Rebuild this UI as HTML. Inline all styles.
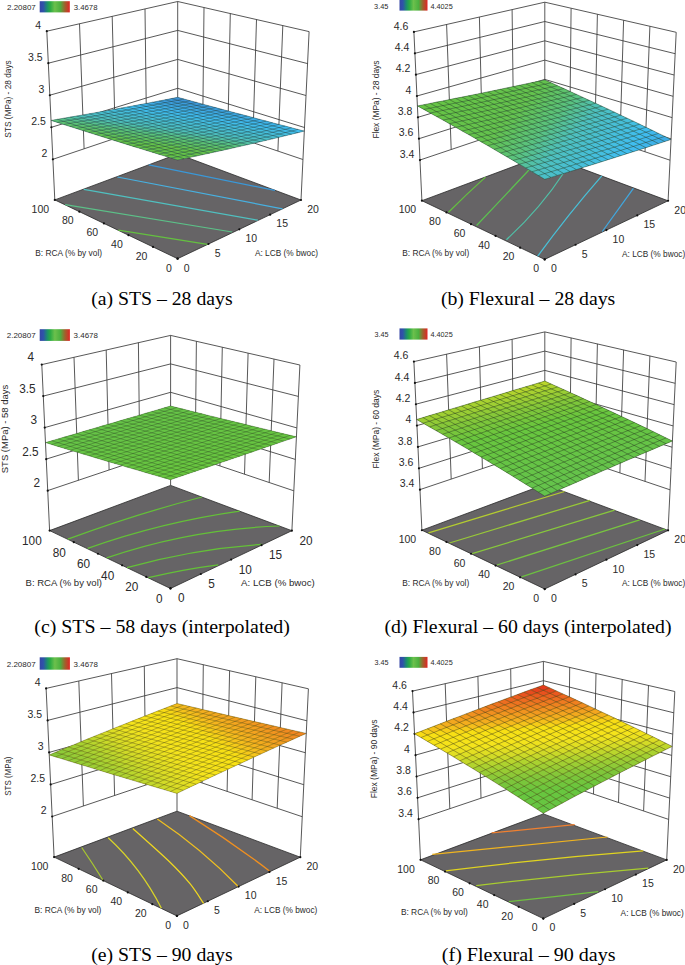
<!DOCTYPE html>
<html><head><meta charset="utf-8"><style>
html,body{margin:0;padding:0;background:#fff;}
svg{display:block;}
</style></head><body>
<svg width="685" height="965" viewBox="0 0 685 965">
<defs><linearGradient id="cb" x1="0" x2="1" y1="0" y2="0">
<stop offset="0" stop-color="#3545a5"/><stop offset="0.12" stop-color="#2f52aa"/><stop offset="0.25" stop-color="#1c8f6a"/>
<stop offset="0.35" stop-color="#2aaa44"/><stop offset="0.5" stop-color="#6cc04c"/><stop offset="0.68" stop-color="#4cb040"/>
<stop offset="0.84" stop-color="#a0602c"/><stop offset="1" stop-color="#e22424"/></linearGradient></defs>
<rect width="685" height="965" fill="#fff"/>
<path d="M54.8,199.9L46.8,31.2 M84.1,148.8L79.5,23.8 M115.3,138.3L112.2,16.3 M146.5,127.8L145.0,8.9 M177.7,154.0L177.7,1.5 M301.0,200.0L309.1,31.6 M277.9,151.0L282.8,25.6 M252.8,142.6L256.5,19.6 M227.8,134.2L230.3,13.5 M202.7,125.7L204.0,7.5 M52.9,159.3L177.7,117.3 M177.7,117.3L302.9,159.5 M51.4,127.3L177.7,88.3 M177.7,88.3L304.5,127.5 M49.8,95.2L177.7,59.4 M177.7,59.4L306.0,95.5 M48.3,63.2L177.7,30.4 M177.7,30.4L307.6,63.6 M46.8,31.2L177.7,1.5 M177.7,1.5L309.1,31.6" stroke="#3a3a3a" stroke-width="0.85" fill="none"/>
<path d="M54.8,199.9L177.6,258.7L301.0,200.0L177.7,154.0Z" fill="#666466" stroke="#2a2a2a" stroke-width="0.8"/>
<path d="M148.7,164.8 L274.9,190.4" stroke="#3a98d8" stroke-width="1.25" fill="none"/>
<path d="M117.4,177.0 L282.5,208.8" stroke="#48b0e0" stroke-width="1.25" fill="none"/>
<path d="M83.8,189.3 L257.8,220.2" stroke="#50c0c0" stroke-width="1.25" fill="none"/>
<path d="M65.2,204.7 L232.2,232.0" stroke="#5cc088" stroke-width="1.25" fill="none"/>
<path d="M118.3,230.1 L207.5,244.3" stroke="#64c040" stroke-width="1.25" fill="none"/>
<circle cx="177.60" cy="258.70" r="1.1" fill="#111"/><circle cx="208.45" cy="244.02" r="1.1" fill="#111"/><circle cx="239.30" cy="229.35" r="1.1" fill="#111"/><circle cx="270.15" cy="214.68" r="1.1" fill="#111"/><circle cx="301.00" cy="200.00" r="1.1" fill="#111"/><circle cx="177.60" cy="258.70" r="1.1" fill="#111"/><circle cx="153.04" cy="246.94" r="1.1" fill="#111"/><circle cx="128.48" cy="235.18" r="1.1" fill="#111"/><circle cx="103.92" cy="223.42" r="1.1" fill="#111"/><circle cx="79.36" cy="211.66" r="1.1" fill="#111"/><circle cx="54.80" cy="199.90" r="1.1" fill="#111"/><circle cx="52.87" cy="159.29" r="1.1" fill="#111"/><circle cx="51.36" cy="127.27" r="1.1" fill="#111"/><circle cx="49.84" cy="95.25" r="1.1" fill="#111"/><circle cx="48.32" cy="63.22" r="1.1" fill="#111"/><circle cx="46.80" cy="31.20" r="1.1" fill="#111"/>
<path d="M177.6,160.0L184.0,158.7L190.4,157.3L196.7,156.0L203.1,154.6L209.5,153.2L215.8,151.8L222.2,150.4L228.5,149.0L234.8,147.6L241.2,146.1L247.5,144.7L253.8,143.2L260.2,141.7L266.5,140.3L272.8,138.8L279.1,137.3L285.4,135.7L291.7,134.2L298.0,132.7L304.3,131.1L298.0,129.4L291.6,127.8L285.3,126.1L278.9,124.4L272.6,122.8L266.3,121.1L259.9,119.4L253.6,117.7L247.3,116.0L240.9,114.3L234.6,112.7L228.3,111.0L221.9,109.3L215.6,107.6L209.3,105.9L203.0,104.2L196.7,102.4L190.3,100.7L184.0,99.0L177.7,97.3L171.4,98.5L165.1,99.8L158.8,101.0L152.5,102.2L146.2,103.4L139.9,104.6L133.5,105.8L127.2,106.9L120.9,108.1L114.6,109.3L108.2,110.4L101.9,111.5L95.5,112.7L89.2,113.8L82.8,114.9L76.5,116.0L70.1,117.1L63.8,118.2L57.4,119.3L51.0,120.4L57.3,122.4L63.7,124.5L70.0,126.5L76.3,128.5L82.6,130.5L88.9,132.5L95.2,134.5L101.6,136.5L107.9,138.5L114.2,140.5L120.5,142.4L126.9,144.4L133.2,146.4L139.5,148.3L145.9,150.3L152.2,152.2L158.6,154.2L164.9,156.1L171.3,158.1Z" fill="#4cc0c5"/>
<path d="M177.6,160.0L184.0,158.7 177.6,156.7 171.3,158.1Z" fill="#65c349"/>
<path d="M171.3,158.1L177.6,156.7 171.3,154.8 164.9,156.1ZM164.9,156.1L171.3,154.8 164.9,152.9 158.6,154.2ZM184.0,158.7L190.4,157.3 184.0,155.4 177.6,156.7Z" fill="#65c34a"/>
<path d="M158.6,154.2L164.9,152.9 158.6,151.0 152.2,152.2ZM152.2,152.2L158.6,151.0 152.3,149.0 145.9,150.3ZM177.6,156.7L184.0,155.4 177.7,153.5 171.3,154.8ZM171.3,154.8L177.7,153.5 171.3,151.6 164.9,152.9ZM190.4,157.3L196.7,156.0 190.4,154.1 184.0,155.4Z" fill="#65c34b"/>
<path d="M145.9,150.3L152.3,149.0 145.9,147.1 139.5,148.3ZM164.9,152.9L171.3,151.6 165.0,149.7 158.6,151.0ZM184.0,155.4L190.4,154.1 184.0,152.2 177.7,153.5Z" fill="#65c34c"/>
<path d="M139.5,148.3L145.9,147.1 139.6,145.1 133.2,146.4ZM133.2,146.4L139.6,145.1 133.3,143.2 126.9,144.4ZM158.6,151.0L165.0,149.7 158.6,147.7 152.3,149.0ZM177.7,153.5L184.0,152.2 177.7,150.3 171.3,151.6ZM196.7,156.0L203.1,154.6 196.7,152.7 190.4,154.1Z" fill="#64c24c"/>
<path d="M126.9,144.4L133.3,143.2 126.9,141.2 120.5,142.4ZM120.5,142.4L126.9,141.2 120.6,139.2 114.2,140.5ZM152.3,149.0L158.6,147.7 152.3,145.8 145.9,147.1ZM145.9,147.1L152.3,145.8 146.0,143.9 139.6,145.1ZM139.6,145.1L146.0,143.9 139.6,141.9 133.3,143.2ZM171.3,151.6L177.7,150.3 171.3,148.4 165.0,149.7ZM165.0,149.7L171.3,148.4 165.0,146.4 158.6,147.7ZM158.6,147.7L165.0,146.4 158.7,144.5 152.3,145.8ZM190.4,154.1L196.7,152.7 190.4,150.8 184.0,152.2ZM184.0,152.2L190.4,150.8 184.1,148.9 177.7,150.3ZM203.1,154.6L209.5,153.2 203.1,151.3 196.7,152.7Z" fill="#64c24d"/>
<path d="M114.2,140.5L120.6,139.2 114.3,137.3 107.9,138.5ZM133.3,143.2L139.6,141.9 133.3,140.0 126.9,141.2ZM152.3,145.8L158.7,144.5 152.3,142.6 146.0,143.9ZM177.7,150.3L184.1,148.9 177.7,147.0 171.3,148.4ZM171.3,148.4L177.7,147.0 171.4,145.1 165.0,146.4ZM196.7,152.7L203.1,151.3 196.8,149.5 190.4,150.8Z" fill="#64c24e"/>
<path d="M107.9,138.5L114.3,137.3 107.9,135.3 101.6,136.5ZM126.9,141.2L133.3,140.0 127.0,138.0 120.6,139.2ZM209.5,153.2L215.8,151.8 209.5,150.0 203.1,151.3Z" fill="#63c251"/>
<path d="M101.6,136.5L107.9,135.3 101.6,133.3 95.2,134.5ZM120.6,139.2L127.0,138.0 120.6,136.1 114.3,137.3ZM203.1,151.3L209.5,150.0 203.1,148.1 196.8,149.5Z" fill="#62c256"/>
<path d="M95.2,134.5L101.6,133.3 95.3,131.3 88.9,132.5ZM114.3,137.3L120.6,136.1 114.3,134.1 107.9,135.3ZM196.8,149.5L203.1,148.1 196.8,146.2 190.4,147.6Z" fill="#61c25b"/>
<path d="M88.9,132.5L95.3,131.3 89.0,129.3 82.6,130.5ZM107.9,135.3L114.3,134.1 108.0,132.1 101.6,133.3Z" fill="#60c260"/>
<path d="M82.6,130.5L89.0,129.3 82.7,127.4 76.3,128.5ZM101.6,133.3L108.0,132.1 101.7,130.2 95.3,131.3Z" fill="#5fc265"/>
<path d="M76.3,128.5L82.7,127.4 76.3,125.4 70.0,126.5ZM95.3,131.3L101.7,130.2 95.3,128.2 89.0,129.3ZM114.3,134.1L120.7,132.9 114.3,130.9 108.0,132.1ZM196.8,146.2L203.1,144.9 196.8,143.0 190.4,144.4Z" fill="#5ec26a"/>
<path d="M70.0,126.5L76.3,125.4 70.0,123.3 63.7,124.5ZM89.0,129.3L95.3,128.2 89.0,126.2 82.7,127.4ZM108.0,132.1L114.3,130.9 108.0,129.0 101.7,130.2ZM190.4,144.4L196.8,143.0 190.4,141.1 184.1,142.5Z" fill="#5dc26f"/>
<path d="M63.7,124.5L70.0,123.3 63.7,121.3 57.3,122.4ZM82.7,127.4L89.0,126.2 82.7,124.2 76.3,125.4ZM101.7,130.2L108.0,129.0 101.7,127.0 95.3,128.2Z" fill="#5cc274"/>
<path d="M57.3,122.4L63.7,121.3 57.4,119.3 51.0,120.4ZM76.3,125.4L82.7,124.2 76.4,122.2 70.0,123.3ZM95.3,128.2L101.7,127.0 95.4,125.1 89.0,126.2ZM114.3,130.9L120.7,129.7 114.4,127.8 108.0,129.0Z" fill="#5bc279"/>
<path d="M70.0,123.3L76.4,122.2 70.1,120.2 63.7,121.3ZM234.8,147.6L241.2,146.1 234.8,144.3 228.5,145.8Z" fill="#5ac27e"/>
<path d="M63.7,121.3L70.1,120.2 63.8,118.2 57.4,119.3ZM82.7,124.2L89.1,123.1 82.8,121.1 76.4,122.2ZM184.1,139.3L190.4,137.9 184.1,136.1 177.8,137.4Z" fill="#58c287"/>
<path d="M146.0,143.9L152.3,142.6 146.0,140.7 139.6,141.9Z" fill="#63c252"/>
<path d="M139.6,141.9L146.0,140.7 139.7,138.7 133.3,140.0Z" fill="#62c257"/>
<path d="M133.3,140.0L139.7,138.7 133.3,136.8 127.0,138.0ZM215.8,151.8L222.2,150.4 215.8,148.6 209.5,150.0Z" fill="#61c25c"/>
<path d="M127.0,138.0L133.3,136.8 127.0,134.8 120.6,136.1ZM146.0,140.7L152.4,139.4 146.0,137.5 139.7,138.7ZM209.5,150.0L215.8,148.6 209.5,146.7 203.1,148.1Z" fill="#60c261"/>
<path d="M120.6,136.1L127.0,134.8 120.7,132.9 114.3,134.1ZM139.7,138.7L146.0,137.5 139.7,135.5 133.3,136.8ZM203.1,148.1L209.5,146.7 203.1,144.9 196.8,146.2Z" fill="#5fc266"/>
<path d="M89.0,126.2L95.4,125.1 89.1,123.1 82.7,124.2ZM108.0,129.0L114.4,127.8 108.1,125.9 101.7,127.0ZM190.4,141.1L196.8,139.8 190.4,137.9 184.1,139.3Z" fill="#5ac27f"/>
<path d="M76.4,122.2L82.8,121.1 76.4,119.1 70.1,120.2ZM177.8,137.4L184.1,136.1 177.8,134.2 171.4,135.5Z" fill="#57c18f"/>
<path d="M70.1,120.2L76.4,119.1 70.1,117.1 63.8,118.2ZM89.1,123.1L95.4,121.9 89.1,120.0 82.8,121.1Z" fill="#55c198"/>
<path d="M165.0,146.4L171.4,145.1 165.0,143.2 158.7,144.5Z" fill="#63c253"/>
<path d="M158.7,144.5L165.0,143.2 158.7,141.3 152.3,142.6Z" fill="#62c258"/>
<path d="M152.3,142.6L158.7,141.3 152.4,139.4 146.0,140.7Z" fill="#61c25d"/>
<path d="M133.3,136.8L139.7,135.5 133.4,133.6 127.0,134.8Z" fill="#5ec26b"/>
<path d="M127.0,134.8L133.4,133.6 127.0,131.7 120.7,132.9Z" fill="#5dc270"/>
<path d="M120.7,132.9L127.0,131.7 120.7,129.7 114.3,130.9ZM139.7,135.5L146.1,134.3 139.7,132.4 133.4,133.6ZM203.1,144.9L209.5,143.5 203.1,141.6 196.8,143.0Z" fill="#5cc275"/>
<path d="M101.7,127.0L108.1,125.9 101.7,123.9 95.4,125.1Z" fill="#58c288"/>
<path d="M95.4,125.1L101.7,123.9 95.4,121.9 89.1,123.1Z" fill="#57c190"/>
<path d="M82.8,121.1L89.1,120.0 82.8,118.0 76.4,119.1ZM228.5,142.5L234.8,141.1 228.5,139.3 222.1,140.7Z" fill="#53c1a0"/>
<path d="M76.4,119.1L82.8,118.0 76.5,116.0 70.1,117.1ZM95.4,121.9L101.8,120.8 95.5,118.8 89.1,120.0ZM177.8,134.2L184.1,132.9 177.8,131.0 171.4,132.4Z" fill="#52c1a9"/>
<path d="M190.4,150.8L196.8,149.5 190.4,147.6 184.1,148.9Z" fill="#64c250"/>
<path d="M184.1,148.9L190.4,147.6 184.1,145.7 177.7,147.0Z" fill="#63c254"/>
<path d="M177.7,147.0L184.1,145.7 177.7,143.8 171.4,145.1Z" fill="#62c259"/>
<path d="M171.4,145.1L177.7,143.8 171.4,141.9 165.0,143.2Z" fill="#61c25e"/>
<path d="M165.0,143.2L171.4,141.9 165.1,140.0 158.7,141.3Z" fill="#60c263"/>
<path d="M158.7,141.3L165.1,140.0 158.7,138.1 152.4,139.4ZM222.2,150.4L228.5,149.0 222.2,147.2 215.8,148.6Z" fill="#5fc267"/>
<path d="M152.4,139.4L158.7,138.1 152.4,136.2 146.0,137.5ZM215.8,148.6L222.2,147.2 215.8,145.3 209.5,146.7Z" fill="#5ec26c"/>
<path d="M146.0,137.5L152.4,136.2 146.1,134.3 139.7,135.5ZM209.5,146.7L215.8,145.3 209.5,143.5 203.1,144.9Z" fill="#5dc271"/>
<path d="M133.4,133.6L139.7,132.4 133.4,130.5 127.0,131.7ZM196.8,143.0L203.1,141.6 196.8,139.8 190.4,141.1Z" fill="#5bc27a"/>
<path d="M127.0,131.7L133.4,130.5 127.1,128.5 120.7,129.7Z" fill="#59c280"/>
<path d="M120.7,129.7L127.1,128.5 120.7,126.6 114.4,127.8Z" fill="#58c289"/>
<path d="M114.4,127.8L120.7,126.6 114.4,124.7 108.1,125.9ZM241.2,146.1L247.5,144.7 241.2,142.9 234.8,144.3Z" fill="#56c191"/>
<path d="M108.1,125.9L114.4,124.7 108.1,122.7 101.7,123.9ZM190.4,137.9L196.8,136.6 190.4,134.7 184.1,136.1ZM234.8,144.3L241.2,142.9 234.8,141.1 228.5,142.5Z" fill="#55c199"/>
<path d="M101.7,123.9L108.1,122.7 101.8,120.8 95.4,121.9ZM184.1,136.1L190.4,134.7 184.1,132.9 177.8,134.2Z" fill="#53c1a1"/>
<path d="M89.1,120.0L95.5,118.8 89.2,116.9 82.8,118.0ZM108.1,122.7L114.5,121.6 108.1,119.6 101.8,120.8Z" fill="#50c0b2"/>
<path d="M82.8,118.0L89.2,116.9 82.8,114.9 76.5,116.0Z" fill="#4fc0ba"/>
<path d="M190.4,147.6L196.8,146.2 190.4,144.4 184.1,145.7Z" fill="#60c25f"/>
<path d="M184.1,145.7L190.4,144.4 184.1,142.5 177.7,143.8Z" fill="#5fc264"/>
<path d="M177.7,143.8L184.1,142.5 177.7,140.6 171.4,141.9Z" fill="#5ec269"/>
<path d="M171.4,141.9L177.7,140.6 171.4,138.7 165.1,140.0Z" fill="#5dc26d"/>
<path d="M165.1,140.0L171.4,138.7 165.1,136.8 158.7,138.1Z" fill="#5cc272"/>
<path d="M158.7,138.1L165.1,136.8 158.7,134.9 152.4,136.2ZM222.2,147.2L228.5,145.8 222.2,143.9 215.8,145.3Z" fill="#5bc277"/>
<path d="M152.4,136.2L158.7,134.9 152.4,133.0 146.1,134.3ZM215.8,145.3L222.2,143.9 215.8,142.1 209.5,143.5Z" fill="#5ac27b"/>
<path d="M146.1,134.3L152.4,133.0 146.1,131.1 139.7,132.4ZM209.5,143.5L215.8,142.1 209.5,140.3 203.1,141.6Z" fill="#59c282"/>
<path d="M139.7,132.4L146.1,131.1 139.8,129.2 133.4,130.5ZM203.1,141.6L209.5,140.3 203.1,138.4 196.8,139.8Z" fill="#58c28a"/>
<path d="M133.4,130.5L139.8,129.2 133.4,127.3 127.1,128.5ZM196.8,139.8L203.1,138.4 196.8,136.6 190.4,137.9Z" fill="#56c192"/>
<path d="M127.1,128.5L133.4,127.3 127.1,125.4 120.7,126.6Z" fill="#55c19a"/>
<path d="M120.7,126.6L127.1,125.4 120.8,123.5 114.4,124.7Z" fill="#53c1a2"/>
<path d="M114.4,124.7L120.8,123.5 114.5,121.6 108.1,122.7Z" fill="#52c1aa"/>
<path d="M101.8,120.8L108.1,119.6 101.8,117.7 95.5,118.8ZM184.1,132.9L190.5,131.6 184.1,129.7 177.8,131.0ZM228.5,139.3L234.8,137.9 228.5,136.1 222.1,137.5Z" fill="#4fc0bb"/>
<path d="M95.5,118.8L101.8,117.7 95.5,115.8 89.2,116.9ZM177.8,131.0L184.1,129.7 177.8,127.9 171.4,129.2ZM222.1,137.5L228.5,136.1 222.1,134.3 215.8,135.7Z" fill="#4ec0c0"/>
<path d="M89.2,116.9L95.5,115.8 89.2,113.8 82.8,114.9ZM108.1,119.6L114.5,118.5 108.2,116.5 101.8,117.7ZM171.4,129.2L177.8,127.9 171.5,126.0 165.1,127.3ZM260.2,141.7L266.5,140.3 260.1,138.5 253.8,140.0Z" fill="#4dc0c3"/>
<path d="M184.1,142.5L190.4,141.1 184.1,139.3 177.7,140.6ZM228.5,149.0L234.8,147.6 228.5,145.8 222.2,147.2Z" fill="#5cc273"/>
<path d="M177.7,140.6L184.1,139.3 177.8,137.4 171.4,138.7Z" fill="#5bc278"/>
<path d="M171.4,138.7L177.8,137.4 171.4,135.5 165.1,136.8Z" fill="#5ac27d"/>
<path d="M165.1,136.8L171.4,135.5 165.1,133.6 158.7,134.9Z" fill="#59c284"/>
<path d="M158.7,134.9L165.1,133.6 158.8,131.8 152.4,133.0Z" fill="#57c28c"/>
<path d="M152.4,133.0L158.8,131.8 152.4,129.9 146.1,131.1Z" fill="#56c194"/>
<path d="M146.1,131.1L152.4,129.9 146.1,128.0 139.8,129.2Z" fill="#54c19c"/>
<path d="M139.8,129.2L146.1,128.0 139.8,126.1 133.4,127.3ZM203.1,138.4L209.5,137.1 203.1,135.2 196.8,136.6Z" fill="#53c1a4"/>
<path d="M133.4,127.3L139.8,126.1 133.5,124.2 127.1,125.4ZM196.8,136.6L203.1,135.2 196.8,133.4 190.4,134.7ZM241.2,142.9L247.5,141.4 241.2,139.7 234.8,141.1Z" fill="#51c1ac"/>
<path d="M127.1,125.4L133.5,124.2 127.1,122.3 120.8,123.5Z" fill="#50c0b4"/>
<path d="M120.8,123.5L127.1,122.3 120.8,120.4 114.5,121.6Z" fill="#4ec0bc"/>
<path d="M114.5,121.6L120.8,120.4 114.5,118.5 108.1,119.6Z" fill="#4dc0c0"/>
<path d="M101.8,117.7L108.2,116.5 101.9,114.6 95.5,115.8ZM165.1,127.3L171.5,126.0 165.1,124.2 158.8,125.5ZM253.8,140.0L260.1,138.5 253.8,136.8 247.5,138.2Z" fill="#4cc0c6"/>
<path d="M95.5,115.8L101.9,114.6 95.5,112.7 89.2,113.8ZM158.8,125.5L165.1,124.2 158.8,122.3 152.5,123.6ZM247.5,138.2L253.8,136.8 247.5,135.0 241.1,136.4Z" fill="#4bc0c9"/>
<path d="M171.4,135.5L177.8,134.2 171.4,132.4 165.1,133.6Z" fill="#55c196"/>
<path d="M165.1,133.6L171.4,132.4 165.1,130.5 158.8,131.8Z" fill="#54c19e"/>
<path d="M158.8,131.8L165.1,130.5 158.8,128.6 152.4,129.9Z" fill="#52c1a6"/>
<path d="M152.4,129.9L158.8,128.6 152.4,126.7 146.1,128.0Z" fill="#51c0ae"/>
<path d="M146.1,128.0L152.4,126.7 146.1,124.8 139.8,126.1Z" fill="#50c0b6"/>
<path d="M139.8,126.1L146.1,124.8 139.8,123.0 133.5,124.2ZM203.1,135.2L209.5,133.9 203.1,132.1 196.8,133.4ZM247.5,141.4L253.8,140.0 247.5,138.2 241.2,139.7Z" fill="#4ec0be"/>
<path d="M133.5,124.2L139.8,123.0 133.5,121.1 127.1,122.3ZM196.8,133.4L203.1,132.1 196.8,130.2 190.5,131.6ZM241.2,139.7L247.5,138.2 241.1,136.4 234.8,137.9Z" fill="#4dc0c1"/>
<path d="M127.1,122.3L133.5,121.1 127.2,119.2 120.8,120.4ZM190.5,131.6L196.8,130.2 190.5,128.4 184.1,129.7ZM234.8,137.9L241.1,136.4 234.8,134.7 228.5,136.1Z" fill="#4cc0c4"/>
<path d="M120.8,120.4L127.2,119.2 120.8,117.3 114.5,118.5ZM184.1,129.7L190.5,128.4 184.1,126.6 177.8,127.9ZM228.5,136.1L234.8,134.7 228.5,132.9 222.1,134.3Z" fill="#4cc0c7"/>
<path d="M114.5,118.5L120.8,117.3 114.5,115.4 108.2,116.5ZM177.8,127.9L184.1,126.6 177.8,124.7 171.5,126.0ZM222.1,134.3L228.5,132.9 222.1,131.1 215.8,132.5ZM266.5,140.3L272.8,138.8 266.5,137.0 260.1,138.5Z" fill="#4bc0ca"/>
<path d="M108.2,116.5L114.5,115.4 108.2,113.5 101.9,114.6ZM260.1,138.5L266.5,137.0 260.1,135.3 253.8,136.8Z" fill="#4abfcd"/>
<path d="M101.9,114.6L108.2,113.5 101.9,111.5 95.5,112.7ZM253.8,136.8L260.1,135.3 253.8,133.5 247.5,135.0Z" fill="#49bfd0"/>
<path d="M171.4,132.4L177.8,131.0 171.4,129.2 165.1,130.5Z" fill="#51c0b0"/>
<path d="M165.1,130.5L171.4,129.2 165.1,127.3 158.8,128.6ZM253.8,143.2L260.2,141.7 253.8,140.0 247.5,141.4Z" fill="#4fc0b8"/>
<path d="M158.8,128.6L165.1,127.3 158.8,125.5 152.4,126.7Z" fill="#4ec0bf"/>
<path d="M152.4,126.7L158.8,125.5 152.5,123.6 146.1,124.8ZM215.8,135.7L222.1,134.3 215.8,132.5 209.5,133.9Z" fill="#4dc0c2"/>
<path d="M146.1,124.8L152.5,123.6 146.1,121.7 139.8,123.0ZM209.5,133.9L215.8,132.5 209.5,130.7 203.1,132.1Z" fill="#4cc0c5"/>
<path d="M139.8,123.0L146.1,121.7 139.8,119.8 133.5,121.1ZM203.1,132.1L209.5,130.7 203.1,128.9 196.8,130.2Z" fill="#4bc0c8"/>
<path d="M133.5,121.1L139.8,119.8 133.5,118.0 127.2,119.2ZM152.5,123.6L158.8,122.3 152.5,120.5 146.1,121.7ZM196.8,130.2L203.1,128.9 196.8,127.1 190.5,128.4ZM241.1,136.4L247.5,135.0 241.1,133.2 234.8,134.7Z" fill="#4abfcb"/>
<path d="M127.2,119.2L133.5,118.0 127.2,116.1 120.8,117.3ZM190.5,128.4L196.8,127.1 190.4,125.3 184.1,126.6ZM234.8,134.7L241.1,133.2 234.8,131.5 228.5,132.9Z" fill="#4abfce"/>
<path d="M120.8,117.3L127.2,116.1 120.9,114.2 114.5,115.4ZM139.8,119.8L146.2,118.6 139.8,116.8 133.5,118.0ZM184.1,126.6L190.4,125.3 184.1,123.4 177.8,124.7ZM228.5,132.9L234.8,131.5 228.4,129.7 222.1,131.1Z" fill="#49bfd1"/>
<path d="M114.5,115.4L120.9,114.2 114.5,112.3 108.2,113.5ZM177.8,124.7L184.1,123.4 177.8,121.6 171.5,122.9ZM222.1,131.1L228.4,129.7 222.1,127.9 215.8,129.3Z" fill="#48bfd3"/>
<path d="M108.2,113.5L114.5,112.3 108.2,110.4 101.9,111.5ZM171.5,122.9L177.8,121.6 171.5,119.8 165.1,121.1ZM215.8,129.3L222.1,127.9 215.8,126.2 209.4,127.5Z" fill="#47bfd6"/>
<path d="M228.5,145.8L234.8,144.3 228.5,142.5 222.2,143.9Z" fill="#58c286"/>
<path d="M222.2,143.9L228.5,142.5 222.1,140.7 215.8,142.1Z" fill="#57c18d"/>
<path d="M215.8,142.1L222.1,140.7 215.8,138.9 209.5,140.3Z" fill="#56c195"/>
<path d="M209.5,140.3L215.8,138.9 209.5,137.1 203.1,138.4Z" fill="#54c19d"/>
<path d="M190.4,134.7L196.8,133.4 190.5,131.6 184.1,132.9ZM234.8,141.1L241.2,139.7 234.8,137.9 228.5,139.3Z" fill="#50c0b3"/>
<path d="M146.1,121.7L152.5,120.5 146.2,118.6 139.8,119.8Z" fill="#49bfce"/>
<path d="M133.5,118.0L139.8,116.8 133.5,114.9 127.2,116.1ZM266.5,137.0L272.8,135.5 266.4,133.8 260.1,135.3Z" fill="#48bfd4"/>
<path d="M127.2,116.1L133.5,114.9 127.2,113.0 120.9,114.2ZM190.4,125.3L196.8,123.9 190.4,122.1 184.1,123.4ZM260.1,135.3L266.4,133.8 260.1,132.1 253.8,133.5Z" fill="#47bfd7"/>
<path d="M120.9,114.2L127.2,113.0 120.9,111.1 114.5,112.3ZM184.1,123.4L190.4,122.1 184.1,120.3 177.8,121.6ZM253.8,133.5L260.1,132.1 253.7,130.3 247.4,131.8Z" fill="#46bfda"/>
<path d="M114.5,112.3L120.9,111.1 114.6,109.3 108.2,110.4ZM177.8,121.6L184.1,120.3 177.8,118.5 171.5,119.8ZM222.1,127.9L228.4,126.5 222.1,124.8 215.8,126.2Z" fill="#45bfdd"/>
<path d="M222.1,140.7L228.5,139.3 222.1,137.5 215.8,138.9Z" fill="#52c1a8"/>
<path d="M215.8,138.9L222.1,137.5 215.8,135.7 209.5,137.1Z" fill="#51c0af"/>
<path d="M209.5,137.1L215.8,135.7 209.5,133.9 203.1,135.2Z" fill="#4fc0b7"/>
<path d="M171.5,126.0L177.8,124.7 171.5,122.9 165.1,124.2ZM215.8,132.5L222.1,131.1 215.8,129.3 209.5,130.7Z" fill="#4abfcc"/>
<path d="M165.1,124.2L171.5,122.9 165.1,121.1 158.8,122.3ZM209.5,130.7L215.8,129.3 209.4,127.5 203.1,128.9Z" fill="#49bfcf"/>
<path d="M158.8,122.3L165.1,121.1 158.8,119.2 152.5,120.5ZM203.1,128.9L209.4,127.5 203.1,125.7 196.8,127.1ZM247.5,135.0L253.8,133.5 247.4,131.8 241.1,133.2ZM272.8,138.8L279.1,137.3 272.8,135.5 266.5,137.0Z" fill="#48bfd2"/>
<path d="M152.5,120.5L158.8,119.2 152.5,117.4 146.2,118.6ZM196.8,127.1L203.1,125.7 196.8,123.9 190.4,125.3ZM241.1,133.2L247.4,131.8 241.1,130.0 234.8,131.5Z" fill="#48bfd5"/>
<path d="M146.2,118.6L152.5,117.4 146.2,115.5 139.8,116.8ZM234.8,131.5L241.1,130.0 234.8,128.3 228.4,129.7Z" fill="#47bfd8"/>
<path d="M139.8,116.8L146.2,115.5 139.8,113.7 133.5,114.9ZM228.4,129.7L234.8,128.3 228.4,126.5 222.1,127.9Z" fill="#46bfdb"/>
<path d="M133.5,114.9L139.8,113.7 133.5,111.8 127.2,113.0ZM196.8,123.9L203.1,122.6 196.8,120.8 190.4,122.1ZM266.4,133.8L272.7,132.3 266.4,130.6 260.1,132.1Z" fill="#45bfde"/>
<path d="M127.2,113.0L133.5,111.8 127.2,110.0 120.9,111.1ZM190.4,122.1L196.8,120.8 190.4,119.0 184.1,120.3ZM260.1,132.1L266.4,130.6 260.0,128.9 253.7,130.3ZM285.4,135.7L291.7,134.2 285.4,132.5 279.1,134.0Z" fill="#44bfe1"/>
<path d="M120.9,111.1L127.2,110.0 120.9,108.1 114.6,109.3ZM165.1,118.0L171.5,116.7 165.1,114.9 158.8,116.1ZM209.4,124.4L215.7,123.0 209.4,121.2 203.1,122.6ZM279.1,134.0L285.4,132.5 279.0,130.8 272.7,132.3Z" fill="#44bfe3"/>
<path d="M247.5,144.7L253.8,143.2 247.5,141.4 241.2,142.9Z" fill="#53c1a5"/>
<path d="M165.1,121.1L171.5,119.8 165.1,118.0 158.8,119.2ZM209.4,127.5L215.8,126.2 209.4,124.4 203.1,125.7ZM279.1,137.3L285.4,135.7 279.1,134.0 272.8,135.5Z" fill="#46bfd9"/>
<path d="M158.8,119.2L165.1,118.0 158.8,116.1 152.5,117.4ZM203.1,125.7L209.4,124.4 203.1,122.6 196.8,123.9ZM272.8,135.5L279.1,134.0 272.7,132.3 266.4,133.8Z" fill="#46bfdc"/>
<path d="M152.5,117.4L158.8,116.1 152.5,114.3 146.2,115.5ZM241.1,130.0L247.4,128.6 241.1,126.9 234.8,128.3Z" fill="#45bfdf"/>
<path d="M146.2,115.5L152.5,114.3 146.2,112.5 139.8,113.7ZM234.8,128.3L241.1,126.9 234.7,125.1 228.4,126.5Z" fill="#44bfe2"/>
<path d="M139.8,113.7L146.2,112.5 139.9,110.6 133.5,111.8ZM184.1,120.3L190.4,119.0 184.1,117.2 177.8,118.5ZM228.4,126.5L234.7,125.1 228.4,123.4 222.1,124.8ZM253.7,130.3L260.0,128.9 253.7,127.2 247.4,128.6Z" fill="#43bee4"/>
<path d="M133.5,111.8L139.9,110.6 133.5,108.8 127.2,110.0Z" fill="#42bee7"/>
<path d="M127.2,110.0L133.5,108.8 127.2,106.9 120.9,108.1ZM215.7,123.0L222.1,121.6 215.7,119.9 209.4,121.2ZM285.4,132.5L291.7,131.0 285.3,129.3 279.0,130.8Z" fill="#42beea"/>
<path d="M171.5,119.8L177.8,118.5 171.5,116.7 165.1,118.0Z" fill="#45bfe0"/>
<path d="M158.8,116.1L165.1,114.9 158.8,113.1 152.5,114.3ZM203.1,122.6L209.4,121.2 203.1,119.5 196.8,120.8Z" fill="#43bee5"/>
<path d="M152.5,114.3L158.8,113.1 152.5,111.2 146.2,112.5ZM196.8,120.8L203.1,119.5 196.8,117.7 190.4,119.0ZM266.4,130.6L272.7,129.1 266.4,127.4 260.0,128.9ZM291.7,134.2L298.0,132.7 291.7,131.0 285.4,132.5Z" fill="#42bee8"/>
<path d="M146.2,112.5L152.5,111.2 146.2,109.4 139.9,110.6ZM190.4,119.0L196.8,117.7 190.4,115.9 184.1,117.2ZM234.7,125.1L241.0,123.7 234.7,122.0 228.4,123.4ZM260.0,128.9L266.4,127.4 260.0,125.7 253.7,127.2Z" fill="#41beeb"/>
<path d="M139.9,110.6L146.2,109.4 139.9,107.6 133.5,108.8ZM228.4,123.4L234.7,122.0 228.4,120.3 222.1,121.6Z" fill="#41beee"/>
<path d="M133.5,108.8L139.9,107.6 133.5,105.8 127.2,106.9ZM222.1,121.6L228.4,120.3 222.0,118.5 215.7,119.9Z" fill="#40bdf0"/>
<path d="M177.8,118.5L184.1,117.2 177.8,115.4 171.5,116.7ZM222.1,124.8L228.4,123.4 222.1,121.6 215.7,123.0Z" fill="#43bee7"/>
<path d="M171.5,116.7L177.8,115.4 171.5,113.6 165.1,114.9ZM241.1,126.9L247.4,125.4 241.0,123.7 234.7,125.1Z" fill="#42bee9"/>
<path d="M165.1,114.9L171.5,113.6 165.1,111.8 158.8,113.1ZM209.4,121.2L215.7,119.9 209.4,118.1 203.1,119.5Z" fill="#41beec"/>
<path d="M158.8,113.1L165.1,111.8 158.8,110.0 152.5,111.2ZM203.1,119.5L209.4,118.1 203.1,116.4 196.8,117.7ZM298.0,132.7L304.3,131.1 298.0,129.4 291.7,131.0Z" fill="#40beef"/>
<path d="M152.5,111.2L158.8,110.0 152.5,108.2 146.2,109.4ZM196.8,117.7L203.1,116.4 196.7,114.6 190.4,115.9ZM241.0,123.7L247.3,122.3 241.0,120.6 234.7,122.0ZM266.4,127.4L272.6,125.9 266.3,124.2 260.0,125.7ZM291.7,131.0L298.0,129.4 291.6,127.8 285.3,129.3Z" fill="#40bcef"/>
<path d="M146.2,109.4L152.5,108.2 146.2,106.4 139.9,107.6ZM190.4,115.9L196.7,114.6 190.4,112.8 184.1,114.1ZM285.3,129.3L291.6,127.8 285.3,126.1 279.0,127.6Z" fill="#40baee"/>
<path d="M139.9,107.6L146.2,106.4 139.9,104.6 133.5,105.8ZM184.1,114.1L190.4,112.8 184.1,111.1 177.8,112.4ZM228.4,120.3L234.7,118.9 228.3,117.1 222.0,118.5ZM253.7,124.0L260.0,122.5 253.6,120.9 247.3,122.3Z" fill="#3fb7ec"/>
<path d="M215.8,126.2L222.1,124.8 215.7,123.0 209.4,124.4Z" fill="#44bfe0"/>
<path d="M184.1,117.2L190.4,115.9 184.1,114.1 177.8,115.4ZM253.7,127.2L260.0,125.7 253.7,124.0 247.4,125.4ZM279.0,130.8L285.3,129.3 279.0,127.6 272.7,129.1Z" fill="#41beed"/>
<path d="M177.8,115.4L184.1,114.1 177.8,112.4 171.5,113.6ZM247.4,125.4L253.7,124.0 247.3,122.3 241.0,123.7ZM272.7,129.1L279.0,127.6 272.6,125.9 266.4,127.4Z" fill="#40bef0"/>
<path d="M171.5,113.6L177.8,112.4 171.5,110.6 165.1,111.8ZM215.7,119.9L222.0,118.5 215.7,116.8 209.4,118.1Z" fill="#40bbee"/>
<path d="M165.1,111.8L171.5,110.6 165.1,108.8 158.8,110.0ZM234.7,122.0L241.0,120.6 234.7,118.9 228.4,120.3Z" fill="#3fb9ed"/>
<path d="M158.8,110.0L165.1,108.8 158.8,107.0 152.5,108.2ZM203.1,116.4L209.4,115.0 203.0,113.3 196.7,114.6Z" fill="#3fb6eb"/>
<path d="M152.5,108.2L158.8,107.0 152.5,105.2 146.2,106.4ZM222.0,118.5L228.3,117.1 222.0,115.4 215.7,116.8Z" fill="#3fb4ea"/>
<path d="M146.2,106.4L152.5,105.2 146.2,103.4 139.9,104.6ZM190.4,112.8L196.7,111.5 190.4,109.8 184.1,111.1Z" fill="#3fb1e8"/>
<path d="M247.4,131.8L253.7,130.3 247.4,128.6 241.1,130.0Z" fill="#45bfdc"/>
<path d="M177.8,112.4L184.1,111.1 177.8,109.3 171.5,110.6ZM247.3,122.3L253.6,120.9 247.3,119.2 241.0,120.6ZM272.6,125.9L278.9,124.4 272.6,122.8 266.3,124.2Z" fill="#3fb5eb"/>
<path d="M171.5,110.6L177.8,109.3 171.4,107.5 165.1,108.8ZM215.7,116.8L222.0,115.4 215.7,113.7 209.4,115.0ZM241.0,120.6L247.3,119.2 241.0,117.5 234.7,118.9Z" fill="#3fb2e9"/>
<path d="M165.1,108.8L171.4,107.5 165.1,105.7 158.8,107.0ZM234.7,118.9L241.0,117.5 234.6,115.7 228.3,117.1ZM260.0,122.5L266.3,121.1 259.9,119.4 253.6,120.9Z" fill="#3eb0e8"/>
<path d="M158.8,107.0L165.1,105.7 158.8,104.0 152.5,105.2ZM203.0,113.3L209.4,112.0 203.0,110.2 196.7,111.5Z" fill="#3eade6"/>
<path d="M152.5,105.2L158.8,104.0 152.5,102.2 146.2,103.4ZM222.0,115.4L228.3,114.0 222.0,112.3 215.7,113.7Z" fill="#3eabe5"/>
<path d="M247.4,128.6L253.7,127.2 247.4,125.4 241.1,126.9ZM272.7,132.3L279.0,130.8 272.7,129.1 266.4,130.6Z" fill="#43bee6"/>
<path d="M209.4,118.1L215.7,116.8 209.4,115.0 203.1,116.4Z" fill="#3fb8ed"/>
<path d="M196.7,114.6L203.0,113.3 196.7,111.5 190.4,112.8Z" fill="#3fb3ea"/>
<path d="M184.1,111.1L190.4,109.8 184.1,108.0 177.8,109.3ZM253.6,120.9L259.9,119.4 253.6,117.7 247.3,119.2Z" fill="#3eaee7"/>
<path d="M177.8,109.3L184.1,108.0 177.8,106.3 171.4,107.5ZM247.3,119.2L253.6,117.7 247.3,116.0 241.0,117.5Z" fill="#3eace5"/>
<path d="M171.4,107.5L177.8,106.3 171.4,104.5 165.1,105.7ZM241.0,117.5L247.3,116.0 240.9,114.3 234.6,115.7Z" fill="#3ea9e4"/>
<path d="M165.1,105.7L171.4,104.5 165.1,102.7 158.8,104.0ZM234.6,115.7L240.9,114.3 234.6,112.7 228.3,114.0Z" fill="#3da7e2"/>
<path d="M158.8,104.0L165.1,102.7 158.8,101.0 152.5,102.2ZM203.0,110.2L209.3,108.9 203.0,107.2 196.7,108.5Z" fill="#3da4e1"/>
<path d="M209.4,115.0L215.7,113.7 209.4,112.0 203.0,113.3Z" fill="#3eafe7"/>
<path d="M196.7,111.5L203.0,110.2 196.7,108.5 190.4,109.8Z" fill="#3eaae4"/>
<path d="M190.4,109.8L196.7,108.5 190.4,106.7 184.1,108.0Z" fill="#3ea8e3"/>
<path d="M184.1,108.0L190.4,106.7 184.1,105.0 177.8,106.3ZM209.4,112.0L215.7,110.6 209.3,108.9 203.0,110.2Z" fill="#3da6e2"/>
<path d="M177.8,106.3L184.1,105.0 177.7,103.3 171.4,104.5Z" fill="#3da3e0"/>
<path d="M171.4,104.5L177.7,103.3 171.4,101.5 165.1,102.7Z" fill="#3da1df"/>
<path d="M165.1,102.7L171.4,101.5 165.1,99.8 158.8,101.0Z" fill="#3c9edd"/>
<path d="M260.0,125.7L266.3,124.2 260.0,122.5 253.7,124.0Z" fill="#40baed"/>
<path d="M228.3,117.1L234.6,115.7 228.3,114.0 222.0,115.4Z" fill="#3eaee6"/>
<path d="M215.7,113.7L222.0,112.3 215.7,110.6 209.4,112.0Z" fill="#3ea9e3"/>
<path d="M196.7,108.5L203.0,107.2 196.7,105.5 190.4,106.7Z" fill="#3da2df"/>
<path d="M190.4,106.7L196.7,105.5 190.4,103.7 184.1,105.0Z" fill="#3d9fde"/>
<path d="M184.1,105.0L190.4,103.7 184.0,102.0 177.7,103.3Z" fill="#3c9ddc"/>
<path d="M177.7,103.3L184.0,102.0 177.7,100.3 171.4,101.5Z" fill="#3c9adb"/>
<path d="M171.4,101.5L177.7,100.3 171.4,98.5 165.1,99.8Z" fill="#3c98d9"/>
<path d="M279.0,127.6L285.3,126.1 278.9,124.4 272.6,125.9Z" fill="#3fb8ec"/>
<path d="M266.3,124.2L272.6,122.8 266.3,121.1 260.0,122.5Z" fill="#3fb3e9"/>
<path d="M228.3,114.0L234.6,112.7 228.3,111.0 222.0,112.3Z" fill="#3da5e1"/>
<path d="M222.0,112.3L228.3,111.0 221.9,109.3 215.7,110.6Z" fill="#3da2e0"/>
<path d="M215.7,110.6L221.9,109.3 215.6,107.6 209.3,108.9Z" fill="#3da0de"/>
<path d="M209.3,108.9L215.6,107.6 209.3,105.9 203.0,107.2Z" fill="#3c9ddd"/>
<path d="M203.0,107.2L209.3,105.9 203.0,104.2 196.7,105.5Z" fill="#3c9bdb"/>
<path d="M196.7,105.5L203.0,104.2 196.7,102.4 190.4,103.7Z" fill="#3c99da"/>
<path d="M190.4,103.7L196.7,102.4 190.3,100.7 184.0,102.0Z" fill="#3c96d9"/>
<path d="M184.0,102.0L190.3,100.7 184.0,99.0 177.7,100.3Z" fill="#3b94d7"/>
<path d="M177.7,100.3L184.0,99.0 177.7,97.3 171.4,98.5Z" fill="#3b92d6"/>
<path d="M177.6,160.0L171.3,158.1L164.9,156.1L158.6,154.2L152.2,152.2L145.9,150.3L139.5,148.3L133.2,146.4L126.9,144.4L120.5,142.4L114.2,140.5L107.9,138.5L101.6,136.5L95.2,134.5L88.9,132.5L82.6,130.5L76.3,128.5L70.0,126.5L63.7,124.5L57.3,122.4L51.0,120.4 M177.6,160.0L184.0,158.7L190.4,157.3L196.7,156.0L203.1,154.6L209.5,153.2L215.8,151.8L222.2,150.4L228.5,149.0L234.8,147.6L241.2,146.1L247.5,144.7L253.8,143.2L260.2,141.7L266.5,140.3L272.8,138.8L279.1,137.3L285.4,135.7L291.7,134.2L298.0,132.7L304.3,131.1 M184.0,158.7L177.6,156.7L171.3,154.8L164.9,152.9L158.6,151.0L152.3,149.0L145.9,147.1L139.6,145.1L133.3,143.2L126.9,141.2L120.6,139.2L114.3,137.3L107.9,135.3L101.6,133.3L95.3,131.3L89.0,129.3L82.7,127.4L76.3,125.4L70.0,123.3L63.7,121.3L57.4,119.3 M171.3,158.1L177.6,156.7L184.0,155.4L190.4,154.1L196.7,152.7L203.1,151.3L209.5,150.0L215.8,148.6L222.2,147.2L228.5,145.8L234.8,144.3L241.2,142.9L247.5,141.4L253.8,140.0L260.1,138.5L266.5,137.0L272.8,135.5L279.1,134.0L285.4,132.5L291.7,131.0L298.0,129.4 M190.4,157.3L184.0,155.4L177.7,153.5L171.3,151.6L165.0,149.7L158.6,147.7L152.3,145.8L146.0,143.9L139.6,141.9L133.3,140.0L127.0,138.0L120.6,136.1L114.3,134.1L108.0,132.1L101.7,130.2L95.3,128.2L89.0,126.2L82.7,124.2L76.4,122.2L70.1,120.2L63.8,118.2 M164.9,156.1L171.3,154.8L177.7,153.5L184.0,152.2L190.4,150.8L196.8,149.5L203.1,148.1L209.5,146.7L215.8,145.3L222.2,143.9L228.5,142.5L234.8,141.1L241.2,139.7L247.5,138.2L253.8,136.8L260.1,135.3L266.4,133.8L272.7,132.3L279.0,130.8L285.3,129.3L291.6,127.8 M196.7,156.0L190.4,154.1L184.0,152.2L177.7,150.3L171.3,148.4L165.0,146.4L158.7,144.5L152.3,142.6L146.0,140.7L139.7,138.7L133.3,136.8L127.0,134.8L120.7,132.9L114.3,130.9L108.0,129.0L101.7,127.0L95.4,125.1L89.1,123.1L82.8,121.1L76.4,119.1L70.1,117.1 M158.6,154.2L164.9,152.9L171.3,151.6L177.7,150.3L184.1,148.9L190.4,147.6L196.8,146.2L203.1,144.9L209.5,143.5L215.8,142.1L222.1,140.7L228.5,139.3L234.8,137.9L241.1,136.4L247.5,135.0L253.8,133.5L260.1,132.1L266.4,130.6L272.7,129.1L279.0,127.6L285.3,126.1 M203.1,154.6L196.7,152.7L190.4,150.8L184.1,148.9L177.7,147.0L171.4,145.1L165.0,143.2L158.7,141.3L152.4,139.4L146.0,137.5L139.7,135.5L133.4,133.6L127.0,131.7L120.7,129.7L114.4,127.8L108.1,125.9L101.7,123.9L95.4,121.9L89.1,120.0L82.8,118.0L76.5,116.0 M152.2,152.2L158.6,151.0L165.0,149.7L171.3,148.4L177.7,147.0L184.1,145.7L190.4,144.4L196.8,143.0L203.1,141.6L209.5,140.3L215.8,138.9L222.1,137.5L228.5,136.1L234.8,134.7L241.1,133.2L247.4,131.8L253.7,130.3L260.0,128.9L266.4,127.4L272.6,125.9L278.9,124.4 M209.5,153.2L203.1,151.3L196.8,149.5L190.4,147.6L184.1,145.7L177.7,143.8L171.4,141.9L165.1,140.0L158.7,138.1L152.4,136.2L146.1,134.3L139.7,132.4L133.4,130.5L127.1,128.5L120.7,126.6L114.4,124.7L108.1,122.7L101.8,120.8L95.5,118.8L89.2,116.9L82.8,114.9 M145.9,150.3L152.3,149.0L158.6,147.7L165.0,146.4L171.4,145.1L177.7,143.8L184.1,142.5L190.4,141.1L196.8,139.8L203.1,138.4L209.5,137.1L215.8,135.7L222.1,134.3L228.5,132.9L234.8,131.5L241.1,130.0L247.4,128.6L253.7,127.2L260.0,125.7L266.3,124.2L272.6,122.8 M215.8,151.8L209.5,150.0L203.1,148.1L196.8,146.2L190.4,144.4L184.1,142.5L177.7,140.6L171.4,138.7L165.1,136.8L158.7,134.9L152.4,133.0L146.1,131.1L139.8,129.2L133.4,127.3L127.1,125.4L120.8,123.5L114.5,121.6L108.1,119.6L101.8,117.7L95.5,115.8L89.2,113.8 M139.5,148.3L145.9,147.1L152.3,145.8L158.7,144.5L165.0,143.2L171.4,141.9L177.7,140.6L184.1,139.3L190.4,137.9L196.8,136.6L203.1,135.2L209.5,133.9L215.8,132.5L222.1,131.1L228.4,129.7L234.8,128.3L241.1,126.9L247.4,125.4L253.7,124.0L260.0,122.5L266.3,121.1 M222.2,150.4L215.8,148.6L209.5,146.7L203.1,144.9L196.8,143.0L190.4,141.1L184.1,139.3L177.8,137.4L171.4,135.5L165.1,133.6L158.8,131.8L152.4,129.9L146.1,128.0L139.8,126.1L133.5,124.2L127.1,122.3L120.8,120.4L114.5,118.5L108.2,116.5L101.9,114.6L95.5,112.7 M133.2,146.4L139.6,145.1L146.0,143.9L152.3,142.6L158.7,141.3L165.1,140.0L171.4,138.7L177.8,137.4L184.1,136.1L190.4,134.7L196.8,133.4L203.1,132.1L209.5,130.7L215.8,129.3L222.1,127.9L228.4,126.5L234.7,125.1L241.0,123.7L247.3,122.3L253.6,120.9L259.9,119.4 M228.5,149.0L222.2,147.2L215.8,145.3L209.5,143.5L203.1,141.6L196.8,139.8L190.4,137.9L184.1,136.1L177.8,134.2L171.4,132.4L165.1,130.5L158.8,128.6L152.4,126.7L146.1,124.8L139.8,123.0L133.5,121.1L127.2,119.2L120.8,117.3L114.5,115.4L108.2,113.5L101.9,111.5 M126.9,144.4L133.3,143.2L139.6,141.9L146.0,140.7L152.4,139.4L158.7,138.1L165.1,136.8L171.4,135.5L177.8,134.2L184.1,132.9L190.5,131.6L196.8,130.2L203.1,128.9L209.4,127.5L215.8,126.2L222.1,124.8L228.4,123.4L234.7,122.0L241.0,120.6L247.3,119.2L253.6,117.7 M234.8,147.6L228.5,145.8L222.2,143.9L215.8,142.1L209.5,140.3L203.1,138.4L196.8,136.6L190.4,134.7L184.1,132.9L177.8,131.0L171.4,129.2L165.1,127.3L158.8,125.5L152.5,123.6L146.1,121.7L139.8,119.8L133.5,118.0L127.2,116.1L120.9,114.2L114.5,112.3L108.2,110.4 M120.5,142.4L126.9,141.2L133.3,140.0L139.7,138.7L146.0,137.5L152.4,136.2L158.7,134.9L165.1,133.6L171.4,132.4L177.8,131.0L184.1,129.7L190.5,128.4L196.8,127.1L203.1,125.7L209.4,124.4L215.7,123.0L222.1,121.6L228.4,120.3L234.7,118.9L241.0,117.5L247.3,116.0 M241.2,146.1L234.8,144.3L228.5,142.5L222.1,140.7L215.8,138.9L209.5,137.1L203.1,135.2L196.8,133.4L190.5,131.6L184.1,129.7L177.8,127.9L171.5,126.0L165.1,124.2L158.8,122.3L152.5,120.5L146.2,118.6L139.8,116.8L133.5,114.9L127.2,113.0L120.9,111.1L114.6,109.3 M114.2,140.5L120.6,139.2L127.0,138.0L133.3,136.8L139.7,135.5L146.1,134.3L152.4,133.0L158.8,131.8L165.1,130.5L171.4,129.2L177.8,127.9L184.1,126.6L190.4,125.3L196.8,123.9L203.1,122.6L209.4,121.2L215.7,119.9L222.0,118.5L228.3,117.1L234.6,115.7L240.9,114.3 M247.5,144.7L241.2,142.9L234.8,141.1L228.5,139.3L222.1,137.5L215.8,135.7L209.5,133.9L203.1,132.1L196.8,130.2L190.5,128.4L184.1,126.6L177.8,124.7L171.5,122.9L165.1,121.1L158.8,119.2L152.5,117.4L146.2,115.5L139.8,113.7L133.5,111.8L127.2,110.0L120.9,108.1 M107.9,138.5L114.3,137.3L120.6,136.1L127.0,134.8L133.4,133.6L139.7,132.4L146.1,131.1L152.4,129.9L158.8,128.6L165.1,127.3L171.5,126.0L177.8,124.7L184.1,123.4L190.4,122.1L196.8,120.8L203.1,119.5L209.4,118.1L215.7,116.8L222.0,115.4L228.3,114.0L234.6,112.7 M253.8,143.2L247.5,141.4L241.2,139.7L234.8,137.9L228.5,136.1L222.1,134.3L215.8,132.5L209.5,130.7L203.1,128.9L196.8,127.1L190.4,125.3L184.1,123.4L177.8,121.6L171.5,119.8L165.1,118.0L158.8,116.1L152.5,114.3L146.2,112.5L139.9,110.6L133.5,108.8L127.2,106.9 M101.6,136.5L107.9,135.3L114.3,134.1L120.7,132.9L127.0,131.7L133.4,130.5L139.8,129.2L146.1,128.0L152.4,126.7L158.8,125.5L165.1,124.2L171.5,122.9L177.8,121.6L184.1,120.3L190.4,119.0L196.8,117.7L203.1,116.4L209.4,115.0L215.7,113.7L222.0,112.3L228.3,111.0 M260.2,141.7L253.8,140.0L247.5,138.2L241.1,136.4L234.8,134.7L228.5,132.9L222.1,131.1L215.8,129.3L209.4,127.5L203.1,125.7L196.8,123.9L190.4,122.1L184.1,120.3L177.8,118.5L171.5,116.7L165.1,114.9L158.8,113.1L152.5,111.2L146.2,109.4L139.9,107.6L133.5,105.8 M95.2,134.5L101.6,133.3L108.0,132.1L114.3,130.9L120.7,129.7L127.1,128.5L133.4,127.3L139.8,126.1L146.1,124.8L152.5,123.6L158.8,122.3L165.1,121.1L171.5,119.8L177.8,118.5L184.1,117.2L190.4,115.9L196.7,114.6L203.0,113.3L209.4,112.0L215.7,110.6L221.9,109.3 M266.5,140.3L260.1,138.5L253.8,136.8L247.5,135.0L241.1,133.2L234.8,131.5L228.4,129.7L222.1,127.9L215.8,126.2L209.4,124.4L203.1,122.6L196.8,120.8L190.4,119.0L184.1,117.2L177.8,115.4L171.5,113.6L165.1,111.8L158.8,110.0L152.5,108.2L146.2,106.4L139.9,104.6 M88.9,132.5L95.3,131.3L101.7,130.2L108.0,129.0L114.4,127.8L120.7,126.6L127.1,125.4L133.5,124.2L139.8,123.0L146.1,121.7L152.5,120.5L158.8,119.2L165.1,118.0L171.5,116.7L177.8,115.4L184.1,114.1L190.4,112.8L196.7,111.5L203.0,110.2L209.3,108.9L215.6,107.6 M272.8,138.8L266.5,137.0L260.1,135.3L253.8,133.5L247.4,131.8L241.1,130.0L234.8,128.3L228.4,126.5L222.1,124.8L215.7,123.0L209.4,121.2L203.1,119.5L196.8,117.7L190.4,115.9L184.1,114.1L177.8,112.4L171.5,110.6L165.1,108.8L158.8,107.0L152.5,105.2L146.2,103.4 M82.6,130.5L89.0,129.3L95.3,128.2L101.7,127.0L108.1,125.9L114.4,124.7L120.8,123.5L127.1,122.3L133.5,121.1L139.8,119.8L146.2,118.6L152.5,117.4L158.8,116.1L165.1,114.9L171.5,113.6L177.8,112.4L184.1,111.1L190.4,109.8L196.7,108.5L203.0,107.2L209.3,105.9 M279.1,137.3L272.8,135.5L266.4,133.8L260.1,132.1L253.7,130.3L247.4,128.6L241.1,126.9L234.7,125.1L228.4,123.4L222.1,121.6L215.7,119.9L209.4,118.1L203.1,116.4L196.7,114.6L190.4,112.8L184.1,111.1L177.8,109.3L171.4,107.5L165.1,105.7L158.8,104.0L152.5,102.2 M76.3,128.5L82.7,127.4L89.0,126.2L95.4,125.1L101.7,123.9L108.1,122.7L114.5,121.6L120.8,120.4L127.2,119.2L133.5,118.0L139.8,116.8L146.2,115.5L152.5,114.3L158.8,113.1L165.1,111.8L171.5,110.6L177.8,109.3L184.1,108.0L190.4,106.7L196.7,105.5L203.0,104.2 M285.4,135.7L279.1,134.0L272.7,132.3L266.4,130.6L260.0,128.9L253.7,127.2L247.4,125.4L241.0,123.7L234.7,122.0L228.4,120.3L222.0,118.5L215.7,116.8L209.4,115.0L203.0,113.3L196.7,111.5L190.4,109.8L184.1,108.0L177.8,106.3L171.4,104.5L165.1,102.7L158.8,101.0 M70.0,126.5L76.3,125.4L82.7,124.2L89.1,123.1L95.4,121.9L101.8,120.8L108.1,119.6L114.5,118.5L120.8,117.3L127.2,116.1L133.5,114.9L139.8,113.7L146.2,112.5L152.5,111.2L158.8,110.0L165.1,108.8L171.4,107.5L177.8,106.3L184.1,105.0L190.4,103.7L196.7,102.4 M291.7,134.2L285.4,132.5L279.0,130.8L272.7,129.1L266.4,127.4L260.0,125.7L253.7,124.0L247.3,122.3L241.0,120.6L234.7,118.9L228.3,117.1L222.0,115.4L215.7,113.7L209.4,112.0L203.0,110.2L196.7,108.5L190.4,106.7L184.1,105.0L177.7,103.3L171.4,101.5L165.1,99.8 M63.7,124.5L70.0,123.3L76.4,122.2L82.8,121.1L89.1,120.0L95.5,118.8L101.8,117.7L108.2,116.5L114.5,115.4L120.9,114.2L127.2,113.0L133.5,111.8L139.9,110.6L146.2,109.4L152.5,108.2L158.8,107.0L165.1,105.7L171.4,104.5L177.7,103.3L184.0,102.0L190.3,100.7 M298.0,132.7L291.7,131.0L285.3,129.3L279.0,127.6L272.6,125.9L266.3,124.2L260.0,122.5L253.6,120.9L247.3,119.2L241.0,117.5L234.6,115.7L228.3,114.0L222.0,112.3L215.7,110.6L209.3,108.9L203.0,107.2L196.7,105.5L190.4,103.7L184.0,102.0L177.7,100.3L171.4,98.5 M57.3,122.4L63.7,121.3L70.1,120.2L76.4,119.1L82.8,118.0L89.2,116.9L95.5,115.8L101.9,114.6L108.2,113.5L114.5,112.3L120.9,111.1L127.2,110.0L133.5,108.8L139.9,107.6L146.2,106.4L152.5,105.2L158.8,104.0L165.1,102.7L171.4,101.5L177.7,100.3L184.0,99.0 M304.3,131.1L298.0,129.4L291.6,127.8L285.3,126.1L278.9,124.4L272.6,122.8L266.3,121.1L259.9,119.4L253.6,117.7L247.3,116.0L240.9,114.3L234.6,112.7L228.3,111.0L221.9,109.3L215.6,107.6L209.3,105.9L203.0,104.2L196.7,102.4L190.3,100.7L184.0,99.0L177.7,97.3 M51.0,120.4L57.4,119.3L63.8,118.2L70.1,117.1L76.5,116.0L82.8,114.9L89.2,113.8L95.5,112.7L101.9,111.5L108.2,110.4L114.6,109.3L120.9,108.1L127.2,106.9L133.5,105.8L139.9,104.6L146.2,103.4L152.5,102.2L158.8,101.0L165.1,99.8L171.4,98.5L177.7,97.3" stroke="#1a1a1a" stroke-opacity="0.55" stroke-width="0.6" fill="none"/>
<text x="47.27" y="156.89" font-family="Liberation Sans" font-size="11.55" text-anchor="end" textLength="5.84" lengthAdjust="spacingAndGlyphs" fill="#2a2a2a">2</text>
<text x="45.76" y="124.87" font-family="Liberation Sans" font-size="11.55" text-anchor="end" textLength="14.60" lengthAdjust="spacingAndGlyphs" fill="#2a2a2a">2.5</text>
<text x="44.24" y="92.85" font-family="Liberation Sans" font-size="11.55" text-anchor="end" textLength="5.84" lengthAdjust="spacingAndGlyphs" fill="#2a2a2a">3</text>
<text x="42.72" y="60.82" font-family="Liberation Sans" font-size="11.55" text-anchor="end" textLength="14.60" lengthAdjust="spacingAndGlyphs" fill="#2a2a2a">3.5</text>
<text x="41.20" y="28.80" font-family="Liberation Sans" font-size="11.55" text-anchor="end" textLength="5.84" lengthAdjust="spacingAndGlyphs" fill="#2a2a2a">4</text>
<text x="183.80" y="271.50" font-family="Liberation Sans" font-size="11.55" textLength="5.84" lengthAdjust="spacingAndGlyphs" fill="#2a2a2a">0</text>
<text x="214.65" y="256.82" font-family="Liberation Sans" font-size="11.55" textLength="5.84" lengthAdjust="spacingAndGlyphs" fill="#2a2a2a">5</text>
<text x="245.50" y="242.15" font-family="Liberation Sans" font-size="11.55" textLength="11.68" lengthAdjust="spacingAndGlyphs" fill="#2a2a2a">10</text>
<text x="276.35" y="227.48" font-family="Liberation Sans" font-size="11.55" textLength="11.68" lengthAdjust="spacingAndGlyphs" fill="#2a2a2a">15</text>
<text x="307.20" y="212.80" font-family="Liberation Sans" font-size="11.55" textLength="11.68" lengthAdjust="spacingAndGlyphs" fill="#2a2a2a">20</text>
<text x="171.90" y="271.50" font-family="Liberation Sans" font-size="11.55" text-anchor="end" textLength="5.84" lengthAdjust="spacingAndGlyphs" fill="#2a2a2a">0</text>
<text x="147.34" y="259.74" font-family="Liberation Sans" font-size="11.55" text-anchor="end" textLength="11.68" lengthAdjust="spacingAndGlyphs" fill="#2a2a2a">20</text>
<text x="122.78" y="247.98" font-family="Liberation Sans" font-size="11.55" text-anchor="end" textLength="11.68" lengthAdjust="spacingAndGlyphs" fill="#2a2a2a">40</text>
<text x="98.22" y="236.22" font-family="Liberation Sans" font-size="11.55" text-anchor="end" textLength="11.68" lengthAdjust="spacingAndGlyphs" fill="#2a2a2a">60</text>
<text x="73.66" y="224.46" font-family="Liberation Sans" font-size="11.55" text-anchor="end" textLength="11.68" lengthAdjust="spacingAndGlyphs" fill="#2a2a2a">80</text>
<text x="49.10" y="212.70" font-family="Liberation Sans" font-size="11.55" text-anchor="end" textLength="17.52" lengthAdjust="spacingAndGlyphs" fill="#2a2a2a">100</text>
<text x="35.20" y="255.50" font-family="Liberation Sans" font-size="8.9" textLength="66.90" lengthAdjust="spacingAndGlyphs" fill="#2a2a2a">B: RCA (% by vol)</text>
<text x="254.90" y="255.90" font-family="Liberation Sans" font-size="8.9" textLength="63.20" lengthAdjust="spacingAndGlyphs" fill="#2a2a2a">A: LCB (% bwoc)</text>
<text x="7.00" y="9.50" font-family="Liberation Sans" font-size="8" textLength="28.80" lengthAdjust="spacingAndGlyphs" fill="#2a2a2a">2.20807</text>
<text x="73.70" y="9.50" font-family="Liberation Sans" font-size="8" textLength="23.80" lengthAdjust="spacingAndGlyphs" fill="#2a2a2a">3.4678</text>
<text x="10.90" y="137.70" font-family="Liberation Sans" font-size="8.3" textLength="77.40" lengthAdjust="spacingAndGlyphs" transform="rotate(-90 10.90 137.70)" fill="#2a2a2a">STS (MPa) - 28 days</text>
<rect x="39.7" y="1.2" width="30.10" height="11.20" fill="url(#cb)"/>
<text x="91.20" y="304.80" font-family="Liberation Serif" font-size="19.8" textLength="141.40" lengthAdjust="spacingAndGlyphs" fill="#000">(a) STS – 28 days</text>
<path d="M421.9,200.7L413.9,31.9 M451.2,149.5L446.6,24.5 M482.4,139.0L479.4,17.1 M513.6,128.5L512.1,9.7 M544.8,154.8L544.8,2.2 M668.1,200.8L676.2,32.3 M645.0,151.8L649.9,26.3 M619.9,143.3L623.6,20.3 M594.9,134.9L597.4,14.3 M569.8,126.5L571.1,8.3 M420.0,160.0L544.8,118.0 M544.8,118.0L670.0,160.2 M419.0,138.7L544.8,98.7 M544.8,98.7L671.1,138.9 M417.9,117.3L544.8,79.4 M544.8,79.4L672.1,117.6 M416.9,96.0L544.8,60.1 M544.8,60.1L673.1,96.3 M415.9,74.6L544.8,40.8 M544.8,40.8L674.1,75.0 M414.9,53.3L544.8,21.5 M544.8,21.5L675.2,53.7 M413.9,31.9L544.8,2.2 M544.8,2.2L676.2,32.3" stroke="#3a3a3a" stroke-width="0.85" fill="none"/>
<path d="M421.9,200.7L544.7,259.4L668.1,200.8L544.8,154.8Z" fill="#666466" stroke="#2a2a2a" stroke-width="0.8"/>
<path d="M485.5,177.1 Q466.5,194.2 448.5,212.2" stroke="#64c040" stroke-width="1.25" fill="none"/>
<path d="M535.0,163.5 Q505.9,194.6 476.6,225.5" stroke="#5cc050" stroke-width="1.25" fill="none"/>
<path d="M565.0,171.0 Q540.0,209.1 506.4,239.7" stroke="#50c0a8" stroke-width="1.25" fill="none"/>
<path d="M601.8,175.8 Q567.9,214.5 537.7,256.2" stroke="#48c0d8" stroke-width="1.25" fill="none"/>
<path d="M633.4,188.3 L602.3,231.5" stroke="#40a8e0" stroke-width="1.25" fill="none"/>
<circle cx="544.70" cy="259.45" r="1.1" fill="#111"/><circle cx="575.55" cy="244.77" r="1.1" fill="#111"/><circle cx="606.40" cy="230.10" r="1.1" fill="#111"/><circle cx="637.25" cy="215.43" r="1.1" fill="#111"/><circle cx="668.10" cy="200.75" r="1.1" fill="#111"/><circle cx="544.70" cy="259.45" r="1.1" fill="#111"/><circle cx="520.14" cy="247.69" r="1.1" fill="#111"/><circle cx="495.58" cy="235.93" r="1.1" fill="#111"/><circle cx="471.02" cy="224.17" r="1.1" fill="#111"/><circle cx="446.46" cy="212.41" r="1.1" fill="#111"/><circle cx="421.90" cy="200.65" r="1.1" fill="#111"/><circle cx="419.97" cy="160.04" r="1.1" fill="#111"/><circle cx="418.96" cy="138.69" r="1.1" fill="#111"/><circle cx="417.95" cy="117.35" r="1.1" fill="#111"/><circle cx="416.94" cy="96.00" r="1.1" fill="#111"/><circle cx="415.92" cy="74.65" r="1.1" fill="#111"/><circle cx="414.91" cy="53.30" r="1.1" fill="#111"/><circle cx="413.90" cy="31.95" r="1.1" fill="#111"/>
<path d="M544.7,179.3L551.0,177.4L557.4,175.4L563.7,173.5L570.0,171.5L576.4,169.6L582.7,167.6L589.0,165.7L595.4,163.7L601.7,161.7L608.0,159.7L614.3,157.7L620.6,155.7L626.9,153.7L633.2,151.7L639.6,149.7L645.9,147.7L652.2,145.6L658.5,143.6L664.8,141.5L671.0,139.5L664.8,136.4L658.5,133.4L652.2,130.3L646.0,127.3L639.7,124.2L633.4,121.2L627.1,118.2L620.8,115.2L614.5,112.2L608.2,109.2L601.9,106.2L595.5,103.3L589.2,100.3L582.9,97.4L576.6,94.4L570.2,91.5L563.9,88.6L557.5,85.7L551.2,82.8L544.8,79.9L538.5,81.3L532.1,82.6L525.8,83.9L519.4,85.3L513.1,86.6L506.7,87.9L500.3,89.3L494.0,90.6L487.6,91.9L481.2,93.2L474.9,94.5L468.5,95.8L462.1,97.1L455.7,98.3L449.4,99.6L443.0,100.9L436.6,102.1L430.2,103.4L423.8,104.7L417.4,105.9L423.8,109.4L430.2,113.0L436.6,116.6L443.0,120.1L449.4,123.7L455.8,127.3L462.2,131.0L468.6,134.6L475.0,138.2L481.3,141.9L487.7,145.6L494.0,149.3L500.4,153.0L506.7,156.7L513.1,160.4L519.4,164.2L525.7,167.9L532.1,171.7L538.4,175.5Z" fill="#5ac27b"/>
<path d="M544.7,179.3L551.0,177.4 544.7,173.6 538.4,175.5Z" fill="#4bc0c7"/>
<path d="M538.4,175.5L544.7,173.6 538.4,169.9 532.1,171.7Z" fill="#4dc0c0"/>
<path d="M532.1,171.7L538.4,169.9 532.1,166.1 525.7,167.9Z" fill="#50c0b1"/>
<path d="M525.7,167.9L532.1,166.1 525.8,162.4 519.4,164.2Z" fill="#54c19e"/>
<path d="M519.4,164.2L525.8,162.4 519.4,158.7 513.1,160.4Z" fill="#57c28c"/>
<path d="M513.1,160.4L519.4,158.7 513.1,155.0 506.7,156.7Z" fill="#5ac27b"/>
<path d="M506.7,156.7L513.1,155.0 506.8,151.3 500.4,153.0ZM513.1,149.6L519.5,147.9 513.1,144.3 506.8,146.0ZM557.6,103.5L563.9,102.0 557.6,99.0 551.2,100.5ZM563.9,97.5L570.2,95.9 563.9,93.0 557.5,94.5Z" fill="#5dc270"/>
<path d="M500.4,153.0L506.8,151.3 500.4,147.6 494.0,149.3ZM506.8,146.0L513.1,144.3 506.8,140.7 500.4,142.4ZM513.1,139.1L519.5,137.5 513.1,134.0 506.8,135.6ZM538.5,112.9L544.9,111.3 538.5,108.1 532.2,109.6ZM544.9,106.6L551.2,105.1 544.9,102.0 538.5,103.5Z" fill="#5fc265"/>
<path d="M494.0,149.3L500.4,147.6 494.1,144.0 487.7,145.6ZM538.5,103.5L544.9,102.0 538.5,98.9 532.2,100.3ZM544.9,97.4L551.2,95.9 544.9,92.9 538.5,94.4Z" fill="#61c25b"/>
<path d="M487.7,145.6L494.1,144.0 487.7,140.3 481.3,141.9ZM494.1,138.7L500.4,137.2 494.1,133.6 487.7,135.2ZM513.1,119.0L519.5,117.5 513.1,114.1 506.8,115.6ZM519.5,112.6L525.8,111.1 519.5,107.9 513.1,109.4ZM525.8,106.4L532.2,104.9 525.8,101.8 519.5,103.2Z" fill="#64c250"/>
<path d="M481.3,141.9L487.7,140.3 481.3,136.7 475.0,138.2ZM481.3,136.7L487.7,135.2 481.3,131.6 475.0,133.1ZM487.7,135.2L494.1,133.6 487.7,130.0 481.3,131.6ZM487.7,130.0L494.1,128.5 487.7,125.0 481.3,126.5ZM494.1,128.5L500.4,127.0 494.1,123.5 487.7,125.0ZM494.1,123.5L500.4,122.0 494.1,118.6 487.7,120.1ZM500.4,122.0L506.8,120.5 500.4,117.1 494.1,118.6ZM500.4,117.1L506.8,115.6 500.4,112.3 494.1,113.7ZM506.8,115.6L513.1,114.1 506.8,110.8 500.4,112.3ZM506.8,110.8L513.1,109.4 506.8,106.1 500.4,107.5ZM513.1,109.4L519.5,107.9 513.1,104.7 506.8,106.1ZM513.1,104.7L519.5,103.2 513.1,100.1 506.8,101.5ZM519.5,103.2L525.8,101.8 519.5,98.6 513.1,100.1ZM519.5,98.6L525.8,97.2 519.5,94.1 513.1,95.5ZM525.8,97.2L532.2,95.8 525.8,92.7 519.5,94.1ZM525.8,92.7L532.2,91.3 525.8,88.3 519.4,89.7ZM532.2,91.3L538.5,89.9 532.1,86.9 525.8,88.3ZM525.8,88.3L532.1,86.9 525.8,83.9 519.4,85.3ZM532.1,86.9L538.5,85.6 532.1,82.6 525.8,83.9ZM538.5,85.6L544.8,84.2 538.5,81.3 532.1,82.6Z" fill="#64c24d"/>
<path d="M475.0,138.2L481.3,136.7 475.0,133.1 468.6,134.6ZM481.3,131.6L487.7,130.0 481.3,126.5 475.0,128.0ZM487.7,125.0L494.1,123.5 487.7,120.1 481.3,121.5ZM494.1,118.6L500.4,117.1 494.1,113.7 487.7,115.2ZM500.4,112.3L506.8,110.8 500.4,107.5 494.0,109.0ZM506.8,106.1L513.1,104.7 506.8,101.5 500.4,102.9ZM513.1,100.1L519.5,98.6 513.1,95.5 506.7,96.9ZM519.5,94.1L525.8,92.7 519.4,89.7 513.1,91.0ZM519.4,89.7L525.8,88.3 519.4,85.3 513.1,86.6Z" fill="#64c24c"/>
<path d="M468.6,134.6L475.0,133.1 468.6,129.5 462.2,131.0ZM468.6,129.5L475.0,128.0 468.6,124.4 462.2,125.9ZM475.0,128.0L481.3,126.5 475.0,123.0 468.6,124.4ZM475.0,123.0L481.3,121.5 474.9,118.1 468.6,119.5ZM481.3,121.5L487.7,120.1 481.3,116.6 474.9,118.1ZM481.3,116.6L487.7,115.2 481.3,111.8 474.9,113.2ZM487.7,115.2L494.1,113.7 487.7,110.4 481.3,111.8ZM487.7,110.4L494.0,109.0 487.7,105.6 481.3,107.0ZM494.0,109.0L500.4,107.5 494.0,104.3 487.7,105.6ZM494.0,104.3L500.4,102.9 494.0,99.6 487.7,101.0ZM500.4,102.9L506.8,101.5 500.4,98.3 494.0,99.6ZM500.4,98.3L506.7,96.9 500.4,93.7 494.0,95.1ZM506.7,96.9L513.1,95.5 506.7,92.4 500.4,93.7ZM500.4,93.7L506.7,92.4 500.3,89.3 494.0,90.6ZM506.7,92.4L513.1,91.0 506.7,87.9 500.3,89.3Z" fill="#65c34b"/>
<path d="M462.2,131.0L468.6,129.5 462.2,125.9 455.8,127.3ZM462.2,125.9L468.6,124.4 462.2,120.9 455.8,122.3ZM468.6,124.4L475.0,123.0 468.6,119.5 462.2,120.9ZM468.6,119.5L474.9,118.1 468.6,114.6 462.2,116.0ZM474.9,118.1L481.3,116.6 474.9,113.2 468.6,114.6ZM474.9,113.2L481.3,111.8 474.9,108.4 468.6,109.8ZM481.3,111.8L487.7,110.4 481.3,107.0 474.9,108.4ZM481.3,107.0L487.7,105.6 481.3,102.3 474.9,103.7ZM487.7,105.6L494.0,104.3 487.7,101.0 481.3,102.3ZM487.7,101.0L494.0,99.6 487.6,96.4 481.3,97.7ZM494.0,99.6L500.4,98.3 494.0,95.1 487.6,96.4ZM487.6,96.4L494.0,95.1 487.6,91.9 481.2,93.2ZM494.0,95.1L500.4,93.7 494.0,90.6 487.6,91.9Z" fill="#65c34a"/>
<path d="M455.8,127.3L462.2,125.9 455.8,122.3 449.4,123.7ZM455.8,122.3L462.2,120.9 455.8,117.4 449.4,118.8ZM462.2,120.9L468.6,119.5 462.2,116.0 455.8,117.4ZM462.2,116.0L468.6,114.6 462.2,111.1 455.8,112.5ZM468.6,114.6L474.9,113.2 468.6,109.8 462.2,111.1ZM468.6,109.8L474.9,108.4 468.5,105.0 462.2,106.4ZM474.9,108.4L481.3,107.0 474.9,103.7 468.5,105.0ZM468.5,105.0L474.9,103.7 468.5,100.4 462.1,101.7ZM474.9,103.7L481.3,102.3 474.9,99.1 468.5,100.4ZM481.3,102.3L487.7,101.0 481.3,97.7 474.9,99.1ZM474.9,99.1L481.3,97.7 474.9,94.5 468.5,95.8ZM481.3,97.7L487.6,96.4 481.2,93.2 474.9,94.5Z" fill="#65c349"/>
<path d="M449.4,123.7L455.8,122.3 449.4,118.8 443.0,120.1ZM455.8,117.4L462.2,116.0 455.8,112.5 449.4,113.9ZM462.2,111.1L468.6,109.8 462.2,106.4 455.8,107.7ZM462.2,106.4L468.5,105.0 462.1,101.7 455.8,103.0ZM468.5,100.4L474.9,99.1 468.5,95.8 462.1,97.1Z" fill="#65c348"/>
<path d="M443.0,120.1L449.4,118.8 443.0,115.2 436.6,116.6ZM436.6,116.6L443.0,115.2 436.6,111.7 430.2,113.0ZM443.0,115.2L449.4,113.9 443.0,110.4 436.6,111.7ZM443.0,110.4L449.4,109.0 443.0,105.6 436.6,106.9ZM449.4,109.0L455.8,107.7 449.4,104.3 443.0,105.6ZM449.4,104.3L455.8,103.0 449.4,99.6 443.0,100.9ZM455.8,103.0L462.1,101.7 455.7,98.3 449.4,99.6Z" fill="#66c447"/>
<path d="M430.2,113.0L436.6,111.7 430.2,108.2 423.8,109.4ZM436.6,111.7L443.0,110.4 436.6,106.9 430.2,108.2ZM436.6,106.9L443.0,105.6 436.6,102.1 430.2,103.4ZM443.0,105.6L449.4,104.3 443.0,100.9 436.6,102.1Z" fill="#66c446"/>
<path d="M423.8,109.4L430.2,108.2 423.8,104.7 417.4,105.9ZM430.2,108.2L436.6,106.9 430.2,103.4 423.8,104.7Z" fill="#66c445"/>
<path d="M551.0,177.4L557.4,175.4 551.1,171.7 544.7,173.6ZM557.4,169.8L563.7,167.9 557.4,164.2 551.1,166.1Z" fill="#4bc0ca"/>
<path d="M544.7,173.6L551.1,171.7 544.8,168.0 538.4,169.9ZM551.1,166.1L557.4,164.2 551.1,160.6 544.8,162.4Z" fill="#4dc0c3"/>
<path d="M538.4,169.9L544.8,168.0 538.4,164.3 532.1,166.1Z" fill="#4fc0b9"/>
<path d="M532.1,166.1L538.4,164.3 532.1,160.6 525.8,162.4Z" fill="#52c1a7"/>
<path d="M525.8,162.4L532.1,160.6 525.8,156.9 519.4,158.7Z" fill="#56c194"/>
<path d="M519.4,158.7L525.8,156.9 519.5,153.3 513.1,155.0Z" fill="#59c282"/>
<path d="M513.1,155.0L519.5,153.3 513.1,149.6 506.8,151.3ZM519.5,147.9L525.8,146.2 519.5,142.7 513.1,144.3ZM563.9,102.0L570.2,100.5 563.9,97.5 557.6,99.0Z" fill="#5cc275"/>
<path d="M506.8,151.3L513.1,149.6 506.8,146.0 500.4,147.6ZM557.6,99.0L563.9,97.5 557.5,94.5 551.2,95.9Z" fill="#5ec26b"/>
<path d="M500.4,147.6L506.8,146.0 500.4,142.4 494.1,144.0ZM538.5,108.1L544.9,106.6 538.5,103.5 532.2,104.9ZM544.9,102.0L551.2,100.5 544.9,97.4 538.5,98.9Z" fill="#60c260"/>
<path d="M494.1,144.0L500.4,142.4 494.1,138.7 487.7,140.3ZM525.8,111.1L532.2,109.6 525.8,106.4 519.5,107.9ZM532.2,104.9L538.5,103.5 532.2,100.3 525.8,101.8Z" fill="#62c255"/>
<path d="M487.7,140.3L494.1,138.7 487.7,135.2 481.3,136.7ZM494.1,133.6L500.4,132.0 494.1,128.5 487.7,130.0ZM500.4,127.0L506.8,125.4 500.4,122.0 494.1,123.5ZM506.8,120.5L513.1,119.0 506.8,115.6 500.4,117.1ZM513.1,114.1L519.5,112.6 513.1,109.4 506.8,110.8ZM519.5,107.9L525.8,106.4 519.5,103.2 513.1,104.7ZM525.8,101.8L532.2,100.3 525.8,97.2 519.5,98.6ZM532.2,95.8L538.5,94.4 532.2,91.3 525.8,92.7ZM538.5,89.9L544.8,88.5 538.5,85.6 532.1,86.9ZM544.8,84.2L551.2,82.8 544.8,79.9 538.5,81.3Z" fill="#64c24e"/>
<path d="M475.0,133.1L481.3,131.6 475.0,128.0 468.6,129.5ZM481.3,126.5L487.7,125.0 481.3,121.5 475.0,123.0ZM487.7,120.1L494.1,118.6 487.7,115.2 481.3,116.6ZM494.1,113.7L500.4,112.3 494.0,109.0 487.7,110.4ZM500.4,107.5L506.8,106.1 500.4,102.9 494.0,104.3ZM506.8,101.5L513.1,100.1 506.7,96.9 500.4,98.3ZM513.1,95.5L519.5,94.1 513.1,91.0 506.7,92.4ZM513.1,91.0L519.4,89.7 513.1,86.6 506.7,87.9Z" fill="#65c34c"/>
<path d="M449.4,118.8L455.8,117.4 449.4,113.9 443.0,115.2ZM449.4,113.9L455.8,112.5 449.4,109.0 443.0,110.4ZM455.8,112.5L462.2,111.1 455.8,107.7 449.4,109.0ZM455.8,107.7L462.2,106.4 455.8,103.0 449.4,104.3ZM462.1,101.7L468.5,100.4 462.1,97.1 455.7,98.3Z" fill="#66c448"/>
<path d="M557.4,175.4L563.7,173.5 557.4,169.8 551.1,171.7ZM563.7,167.9L570.1,166.0 563.8,162.4 557.4,164.2Z" fill="#4abfcd"/>
<path d="M551.1,171.7L557.4,169.8 551.1,166.1 544.8,168.0ZM557.4,164.2L563.8,162.4 557.5,158.8 551.1,160.6Z" fill="#4cc0c6"/>
<path d="M544.8,168.0L551.1,166.1 544.8,162.4 538.4,164.3ZM551.1,160.6L557.5,158.8 551.1,155.2 544.8,157.0Z" fill="#4ec0bf"/>
<path d="M538.4,164.3L544.8,162.4 538.5,158.8 532.1,160.6Z" fill="#51c0af"/>
<path d="M532.1,160.6L538.5,158.8 532.1,155.2 525.8,156.9Z" fill="#54c19d"/>
<path d="M525.8,156.9L532.1,155.2 525.8,151.5 519.5,153.3Z" fill="#58c28a"/>
<path d="M519.5,153.3L525.8,151.5 519.5,147.9 513.1,149.6ZM525.8,146.2L532.2,144.5 525.8,141.0 519.5,142.7ZM563.9,106.6L570.2,105.1 563.9,102.0 557.6,103.5ZM570.2,100.5L576.6,98.9 570.2,95.9 563.9,97.5Z" fill="#5bc27a"/>
<path d="M500.4,142.4L506.8,140.7 500.4,137.2 494.1,138.7ZM506.8,135.6L513.1,134.0 506.8,130.5 500.4,132.0ZM513.1,128.9L519.5,127.3 513.1,123.9 506.8,125.4ZM519.5,122.3L525.9,120.8 519.5,117.5 513.1,119.0ZM525.8,115.9L532.2,114.4 525.8,111.1 519.5,112.6ZM532.2,109.6L538.5,108.1 532.2,104.9 525.8,106.4Z" fill="#61c25a"/>
<path d="M563.7,173.5L570.0,171.5 563.7,167.9 557.4,169.8Z" fill="#49bfd1"/>
<path d="M544.8,162.4L551.1,160.6 544.8,157.0 538.5,158.8Z" fill="#4fc0b7"/>
<path d="M538.5,158.8L544.8,157.0 538.5,153.4 532.1,155.2Z" fill="#53c1a5"/>
<path d="M532.1,155.2L538.5,153.4 532.2,149.8 525.8,151.5Z" fill="#56c193"/>
<path d="M525.8,151.5L532.2,149.8 525.8,146.2 519.5,147.9ZM576.6,98.9L582.9,97.4 576.6,94.4 570.2,95.9Z" fill="#59c281"/>
<path d="M513.1,144.3L519.5,142.7 513.1,139.1 506.8,140.7ZM519.5,137.5L525.8,135.8 519.5,132.3 513.1,134.0ZM538.5,117.7L544.9,116.1 538.5,112.9 532.2,114.4ZM544.9,111.3L551.2,109.7 544.9,106.6 538.5,108.1ZM551.2,105.1L557.6,103.5 551.2,100.5 544.9,102.0Z" fill="#5ec26a"/>
<path d="M506.8,140.7L513.1,139.1 506.8,135.6 500.4,137.2ZM513.1,134.0L519.5,132.3 513.1,128.9 506.8,130.5ZM519.5,127.3L525.9,125.7 519.5,122.3 513.1,123.9ZM525.9,120.8L532.2,119.2 525.8,115.9 519.5,117.5ZM532.2,114.4L538.5,112.9 532.2,109.6 525.8,111.1Z" fill="#60c25f"/>
<path d="M500.4,137.2L506.8,135.6 500.4,132.0 494.1,133.6ZM506.8,130.5L513.1,128.9 506.8,125.4 500.4,127.0ZM513.1,123.9L519.5,122.3 513.1,119.0 506.8,120.5ZM519.5,117.5L525.8,115.9 519.5,112.6 513.1,114.1Z" fill="#63c255"/>
<path d="M570.0,171.5L576.4,169.6 570.1,166.0 563.7,167.9Z" fill="#48bfd4"/>
<path d="M544.8,157.0L551.1,155.2 544.8,151.6 538.5,153.4Z" fill="#51c1ae"/>
<path d="M538.5,153.4L544.8,151.6 538.5,148.1 532.2,149.8Z" fill="#54c19b"/>
<path d="M532.2,149.8L538.5,148.1 532.2,144.5 525.8,146.2ZM570.2,109.7L576.6,108.1 570.2,105.1 563.9,106.6ZM576.6,103.5L582.9,101.9 576.6,98.9 570.2,100.5Z" fill="#58c289"/>
<path d="M519.5,142.7L525.8,141.0 519.5,137.5 513.1,139.1ZM525.8,135.8L532.2,134.2 525.8,130.7 519.5,132.3ZM532.2,129.1L538.5,127.5 532.2,124.1 525.9,125.7ZM538.5,122.5L544.9,120.9 538.5,117.7 532.2,119.2ZM544.9,116.1L551.2,114.5 544.9,111.3 538.5,112.9ZM551.2,109.7L557.6,108.2 551.2,105.1 544.9,106.6Z" fill="#5dc26f"/>
<path d="M500.4,132.0L506.8,130.5 500.4,127.0 494.1,128.5ZM506.8,125.4L513.1,123.9 506.8,120.5 500.4,122.0Z" fill="#64c24f"/>
<path d="M576.4,169.6L582.7,167.6 576.4,164.0 570.1,166.0Z" fill="#47bfd7"/>
<path d="M570.1,166.0L576.4,164.0 570.1,160.5 563.8,162.4Z" fill="#49bfd0"/>
<path d="M563.8,162.4L570.1,160.5 563.8,156.9 557.5,158.8Z" fill="#4bc0c9"/>
<path d="M557.5,158.8L563.8,156.9 557.5,153.4 551.1,155.2ZM563.8,151.5L570.2,149.7 563.8,146.2 557.5,148.0Z" fill="#4dc0c2"/>
<path d="M551.1,155.2L557.5,153.4 551.2,149.8 544.8,151.6Z" fill="#4fc0b6"/>
<path d="M544.8,151.6L551.2,149.8 544.8,146.3 538.5,148.1ZM589.2,104.9L595.5,103.3 589.2,100.3 582.9,101.9Z" fill="#53c1a4"/>
<path d="M538.5,148.1L544.8,146.3 538.5,142.8 532.2,144.5ZM576.6,108.1L582.9,106.5 576.6,103.5 570.2,105.1ZM582.9,101.9L589.2,100.3 582.9,97.4 576.6,98.9Z" fill="#56c192"/>
<path d="M532.2,144.5L538.5,142.8 532.2,139.3 525.8,141.0ZM570.2,105.1L576.6,103.5 570.2,100.5 563.9,102.0Z" fill="#59c280"/>
<path d="M525.8,141.0L532.2,139.3 525.8,135.8 519.5,137.5ZM532.2,134.2L538.5,132.5 532.2,129.1 525.8,130.7ZM538.5,127.5L544.9,125.9 538.5,122.5 532.2,124.1ZM544.9,120.9L551.2,119.3 544.9,116.1 538.5,117.7ZM551.2,114.5L557.6,112.9 551.2,109.7 544.9,111.3ZM557.6,108.2L563.9,106.6 557.6,103.5 551.2,105.1Z" fill="#5cc274"/>
<path d="M582.7,167.6L589.0,165.7 582.7,162.1 576.4,164.0Z" fill="#46bfda"/>
<path d="M576.4,164.0L582.7,162.1 576.4,158.6 570.1,160.5ZM582.8,156.7L589.1,154.8 582.8,151.3 576.5,153.2Z" fill="#48bfd3"/>
<path d="M570.1,160.5L576.4,158.6 570.1,155.0 563.8,156.9ZM576.5,153.2L582.8,151.3 576.5,147.9 570.2,149.7Z" fill="#4abfcc"/>
<path d="M563.8,156.9L570.1,155.0 563.8,151.5 557.5,153.4ZM570.2,149.7L576.5,147.9 570.2,144.4 563.8,146.2Z" fill="#4cc0c5"/>
<path d="M557.5,153.4L563.8,151.5 557.5,148.0 551.2,149.8ZM563.8,146.2L570.2,144.4 563.9,141.0 557.5,142.8Z" fill="#4ec0be"/>
<path d="M551.2,149.8L557.5,148.0 551.2,144.6 544.8,146.3Z" fill="#51c1ad"/>
<path d="M544.8,146.3L551.2,144.6 544.9,141.1 538.5,142.8ZM582.9,106.5L589.2,104.9 582.9,101.9 576.6,103.5Z" fill="#55c19b"/>
<path d="M538.5,142.8L544.9,141.1 538.5,137.6 532.2,139.3ZM544.9,135.9L551.2,134.2 544.9,130.9 538.5,132.5ZM551.2,129.2L557.6,127.5 551.2,124.2 544.9,125.9ZM557.6,122.6L563.9,120.9 557.6,117.7 551.2,119.3ZM563.9,116.1L570.2,114.5 563.9,111.3 557.6,112.9Z" fill="#58c288"/>
<path d="M532.2,139.3L538.5,137.6 532.2,134.2 525.8,135.8ZM538.5,132.5L544.9,130.9 538.5,127.5 532.2,129.1ZM544.9,125.9L551.2,124.2 544.9,120.9 538.5,122.5ZM551.2,119.3L557.6,117.7 551.2,114.5 544.9,116.1ZM557.6,112.9L563.9,111.3 557.6,108.2 551.2,109.7Z" fill="#5bc279"/>
<path d="M519.5,132.3L525.8,130.7 519.5,127.3 513.1,128.9ZM525.9,125.7L532.2,124.1 525.9,120.8 519.5,122.3ZM532.2,119.2L538.5,117.7 532.2,114.4 525.8,115.9Z" fill="#5fc264"/>
<path d="M589.0,165.7L595.4,163.7 589.1,160.2 582.7,162.1ZM595.4,158.2L601.7,156.3 595.4,152.8 589.1,154.8Z" fill="#45bfdd"/>
<path d="M582.7,162.1L589.1,160.2 582.8,156.7 576.4,158.6ZM589.1,154.8L595.4,152.8 589.1,149.4 582.8,151.3Z" fill="#47bfd6"/>
<path d="M576.4,158.6L582.8,156.7 576.5,153.2 570.1,155.0ZM582.8,151.3L589.1,149.4 582.8,146.0 576.5,147.9ZM589.1,144.2L595.5,142.3 589.2,139.0 582.8,140.8Z" fill="#49bfcf"/>
<path d="M570.1,155.0L576.5,153.2 570.2,149.7 563.8,151.5ZM576.5,147.9L582.8,146.0 576.5,142.6 570.2,144.4ZM582.8,140.8L589.2,139.0 582.9,135.7 576.5,137.5ZM589.2,133.9L595.5,132.1 589.2,128.9 582.9,130.6ZM595.5,127.1L601.8,125.3 595.5,122.2 589.2,123.9ZM601.8,120.4L608.2,118.7 601.9,115.6 595.5,117.3ZM608.2,113.9L614.5,112.2 608.2,109.2 601.9,110.9Z" fill="#4bc0c8"/>
<path d="M557.5,148.0L563.8,146.2 557.5,142.8 551.2,144.6ZM595.5,107.9L601.9,106.2 595.5,103.3 589.2,104.9Z" fill="#50c0b5"/>
<path d="M551.2,144.6L557.5,142.8 551.2,139.4 544.9,141.1ZM557.5,137.6L563.9,135.9 557.6,132.5 551.2,134.2ZM582.9,111.2L589.2,109.5 582.9,106.5 576.6,108.1Z" fill="#53c1a3"/>
<path d="M544.9,141.1L551.2,139.4 544.9,135.9 538.5,137.6ZM551.2,134.2L557.6,132.5 551.2,129.2 544.9,130.9ZM557.6,127.5L563.9,125.8 557.6,122.6 551.2,124.2ZM563.9,120.9L570.2,119.3 563.9,116.1 557.6,117.7ZM570.2,114.5L576.6,112.8 570.2,109.7 563.9,111.3Z" fill="#56c191"/>
<path d="M538.5,137.6L544.9,135.9 538.5,132.5 532.2,134.2ZM544.9,130.9L551.2,129.2 544.9,125.9 538.5,127.5ZM551.2,124.2L557.6,122.6 551.2,119.3 544.9,120.9ZM557.6,117.7L563.9,116.1 557.6,112.9 551.2,114.5Z" fill="#5ac27f"/>
<path d="M525.8,130.7L532.2,129.1 525.9,125.7 519.5,127.3ZM532.2,124.1L538.5,122.5 532.2,119.2 525.9,120.8Z" fill="#5ec269"/>
<path d="M595.4,163.7L601.7,161.7 595.4,158.2 589.1,160.2Z" fill="#44bfe0"/>
<path d="M589.1,160.2L595.4,158.2 589.1,154.8 582.8,156.7ZM595.4,152.8L601.7,150.9 595.4,147.5 589.1,149.4Z" fill="#46bfd9"/>
<path d="M557.5,142.8L563.9,141.0 557.5,137.6 551.2,139.4ZM589.2,109.5L595.5,107.9 589.2,104.9 582.9,106.5Z" fill="#51c1ac"/>
<path d="M551.2,139.4L557.5,137.6 551.2,134.2 544.9,135.9ZM570.2,119.3L576.6,117.6 570.2,114.5 563.9,116.1ZM576.6,112.8L582.9,111.2 576.6,108.1 570.2,109.7Z" fill="#55c19a"/>
<path d="M601.7,161.7L608.0,159.7 601.7,156.3 595.4,158.2Z" fill="#43bee4"/>
<path d="M570.2,144.4L576.5,142.6 570.2,139.3 563.9,141.0ZM576.5,137.5L582.9,135.7 576.5,132.4 570.2,134.1ZM582.9,130.6L589.2,128.9 582.9,125.7 576.6,127.4ZM589.2,123.9L595.5,122.2 589.2,119.1 582.9,120.8ZM595.5,117.3L601.9,115.6 595.5,112.6 589.2,114.3ZM601.9,110.9L608.2,109.2 601.9,106.2 595.5,107.9Z" fill="#4dc0c1"/>
<path d="M563.9,141.0L570.2,139.3 563.9,135.9 557.5,137.6ZM570.2,134.1L576.5,132.4 570.2,129.1 563.9,130.8ZM576.6,127.4L582.9,125.7 576.6,122.5 570.2,124.1ZM582.9,120.8L589.2,119.1 582.9,115.9 576.6,117.6ZM589.2,114.3L595.5,112.6 589.2,109.5 582.9,111.2Z" fill="#50c0b4"/>
<path d="M608.0,159.7L614.3,157.7 608.0,154.3 601.7,156.3Z" fill="#43bee7"/>
<path d="M601.7,156.3L608.0,154.3 601.7,150.9 595.4,152.8Z" fill="#45bfe0"/>
<path d="M589.1,149.4L595.4,147.5 589.1,144.2 582.8,146.0ZM595.5,142.3L601.8,140.5 595.5,137.2 589.2,139.0Z" fill="#48bfd2"/>
<path d="M582.8,146.0L589.1,144.2 582.8,140.8 576.5,142.6ZM589.2,139.0L595.5,137.2 589.2,133.9 582.9,135.7ZM595.5,132.1L601.8,130.3 595.5,127.1 589.2,128.9ZM601.8,125.3L608.2,123.6 601.8,120.4 595.5,122.2ZM608.2,118.7L614.5,116.9 608.2,113.9 601.9,115.6Z" fill="#4abfcb"/>
<path d="M576.5,142.6L582.8,140.8 576.5,137.5 570.2,139.3ZM582.9,135.7L589.2,133.9 582.9,130.6 576.5,132.4ZM589.2,128.9L595.5,127.1 589.2,123.9 582.9,125.7ZM595.5,122.2L601.8,120.4 595.5,117.3 589.2,119.1ZM601.9,115.6L608.2,113.9 601.9,110.9 595.5,112.6Z" fill="#4cc0c4"/>
<path d="M570.2,139.3L576.5,137.5 570.2,134.1 563.9,135.9ZM576.5,132.4L582.9,130.6 576.6,127.4 570.2,129.1ZM582.9,125.7L589.2,123.9 582.9,120.8 576.6,122.5ZM589.2,119.1L595.5,117.3 589.2,114.3 582.9,115.9ZM595.5,112.6L601.9,110.9 595.5,107.9 589.2,109.5Z" fill="#4ec0bd"/>
<path d="M563.9,135.9L570.2,134.1 563.9,130.8 557.6,132.5ZM582.9,115.9L589.2,114.3 582.9,111.2 576.6,112.8Z" fill="#51c1ab"/>
<path d="M557.6,132.5L563.9,130.8 557.6,127.5 551.2,129.2ZM563.9,125.8L570.2,124.1 563.9,120.9 557.6,122.6Z" fill="#55c199"/>
<path d="M614.3,157.7L620.6,155.7 614.3,152.4 608.0,154.3Z" fill="#42beea"/>
<path d="M608.0,154.3L614.3,152.4 608.1,149.0 601.7,150.9ZM614.4,147.1L620.7,145.1 614.4,141.9 608.1,143.8Z" fill="#44bfe3"/>
<path d="M601.7,150.9L608.1,149.0 601.8,145.7 595.4,147.5ZM608.1,143.8L614.4,141.9 608.1,138.6 601.8,140.5ZM614.4,136.7L620.7,134.8 614.4,131.7 608.1,133.5ZM620.8,129.8L627.1,128.0 620.8,124.9 614.5,126.7Z" fill="#46bfdc"/>
<path d="M595.4,147.5L601.8,145.7 595.5,142.3 589.1,144.2Z" fill="#47bfd5"/>
<path d="M563.9,130.8L570.2,129.1 563.9,125.8 557.6,127.5ZM570.2,124.1L576.6,122.5 570.2,119.3 563.9,120.9ZM576.6,117.6L582.9,115.9 576.6,112.8 570.2,114.5Z" fill="#53c1a2"/>
<path d="M620.6,155.7L626.9,153.7 620.7,150.4 614.3,152.4ZM627.0,148.4L633.3,146.4 627.0,143.2 620.7,145.1Z" fill="#41beed"/>
<path d="M614.3,152.4L620.7,150.4 614.4,147.1 608.1,149.0ZM620.7,145.1L627.0,143.2 620.7,139.9 614.4,141.9ZM627.0,138.0L633.3,136.1 627.0,133.0 620.7,134.8Z" fill="#43bee6"/>
<path d="M608.1,149.0L614.4,147.1 608.1,143.8 601.8,145.7ZM614.4,141.9L620.7,139.9 614.4,136.7 608.1,138.6ZM620.7,134.8L627.0,133.0 620.8,129.8 614.4,131.7ZM627.1,128.0L633.4,126.1 627.1,123.0 620.8,124.9Z" fill="#45bfdf"/>
<path d="M601.8,145.7L608.1,143.8 601.8,140.5 595.5,142.3Z" fill="#47bfd9"/>
<path d="M570.2,129.1L576.6,127.4 570.2,124.1 563.9,125.8ZM576.6,122.5L582.9,120.8 576.6,117.6 570.2,119.3Z" fill="#52c1ab"/>
<path d="M626.9,153.7L633.2,151.7 627.0,148.4 620.7,150.4ZM633.3,146.4L639.6,144.4 633.3,141.2 627.0,143.2Z" fill="#40bef0"/>
<path d="M620.7,150.4L627.0,148.4 620.7,145.1 614.4,147.1ZM627.0,143.2L633.3,141.2 627.0,138.0 620.7,139.9ZM633.3,136.1L639.6,134.2 633.4,131.1 627.0,133.0ZM639.7,129.2L646.0,127.3 639.7,124.2 633.4,126.1Z" fill="#42bee9"/>
<path d="M601.8,140.5L608.1,138.6 601.8,135.3 595.5,137.2ZM608.1,133.5L614.4,131.7 608.1,128.5 601.8,130.3ZM614.5,126.7L620.8,124.9 614.5,121.8 608.2,123.6ZM620.8,120.0L627.1,118.2 620.8,115.2 614.5,116.9Z" fill="#48bfd5"/>
<path d="M595.5,137.2L601.8,135.3 595.5,132.1 589.2,133.9ZM601.8,130.3L608.1,128.5 601.8,125.3 595.5,127.1ZM608.2,123.6L614.5,121.8 608.2,118.7 601.8,120.4ZM614.5,116.9L620.8,115.2 614.5,112.2 608.2,113.9Z" fill="#49bfce"/>
<path d="M633.2,151.7L639.6,149.7 633.3,146.4 627.0,148.4ZM639.6,144.4L645.9,142.4 639.6,139.3 633.3,141.2ZM645.9,137.3L652.2,135.3 645.9,132.2 639.6,134.2Z" fill="#40bbee"/>
<path d="M608.1,138.6L614.4,136.7 608.1,133.5 601.8,135.3ZM614.4,131.7L620.8,129.8 614.5,126.7 608.1,128.5ZM620.8,124.9L627.1,123.0 620.8,120.0 614.5,121.8Z" fill="#47bfd8"/>
<path d="M601.8,135.3L608.1,133.5 601.8,130.3 595.5,132.1ZM608.1,128.5L614.5,126.7 608.2,123.6 601.8,125.3ZM614.5,121.8L620.8,120.0 614.5,116.9 608.2,118.7Z" fill="#49bfd2"/>
<path d="M532.2,100.3L538.5,98.9 532.2,95.8 525.8,97.2ZM538.5,94.4L544.9,92.9 538.5,89.9 532.2,91.3Z" fill="#63c251"/>
<path d="M639.6,149.7L645.9,147.7 639.6,144.4 633.3,146.4Z" fill="#3fb8ec"/>
<path d="M620.7,139.9L627.0,138.0 620.7,134.8 614.4,136.7ZM627.0,133.0L633.4,131.1 627.1,128.0 620.8,129.8ZM633.4,126.1L639.7,124.2 633.4,121.2 627.1,123.0Z" fill="#44bfe2"/>
<path d="M563.9,111.3L570.2,109.7 563.9,106.6 557.6,108.2Z" fill="#5ac280"/>
<path d="M538.5,98.9L544.9,97.4 538.5,94.4 532.2,95.8Z" fill="#62c256"/>
<path d="M645.9,147.7L652.2,145.6 645.9,142.4 639.6,144.4ZM652.2,140.4L658.5,138.4 652.2,135.3 645.9,137.3Z" fill="#3fb5eb"/>
<path d="M633.3,141.2L639.6,139.3 633.3,136.1 627.0,138.0ZM639.6,134.2L645.9,132.2 639.7,129.2 633.4,131.1Z" fill="#41beec"/>
<path d="M551.2,100.5L557.6,99.0 551.2,95.9 544.9,97.4ZM557.5,94.5L563.9,93.0 557.5,90.0 551.2,91.5Z" fill="#5fc266"/>
<path d="M652.2,145.6L658.5,143.6 652.2,140.4 645.9,142.4ZM658.5,138.4L664.8,136.4 658.5,133.4 652.2,135.3Z" fill="#3fb2e9"/>
<path d="M645.9,142.4L652.2,140.4 645.9,137.3 639.6,139.3ZM652.2,135.3L658.5,133.4 652.2,130.3 645.9,132.2Z" fill="#3fb8ed"/>
<path d="M639.6,139.3L645.9,137.3 639.6,134.2 633.3,136.1ZM645.9,132.2L652.2,130.3 646.0,127.3 639.7,129.2Z" fill="#40beef"/>
<path d="M551.2,95.9L557.5,94.5 551.2,91.5 544.9,92.9Z" fill="#60c261"/>
<path d="M544.9,92.9L551.2,91.5 544.8,88.5 538.5,89.9Z" fill="#62c257"/>
<path d="M658.5,143.6L664.8,141.5 658.5,138.4 652.2,140.4Z" fill="#3eafe7"/>
<path d="M633.4,131.1L639.7,129.2 633.4,126.1 627.1,128.0Z" fill="#43bee5"/>
<path d="M551.2,91.5L557.5,90.0 551.2,87.1 544.8,88.5Z" fill="#61c25c"/>
<path d="M544.8,88.5L551.2,87.1 544.8,84.2 538.5,85.6Z" fill="#63c252"/>
<path d="M664.8,141.5L671.0,139.5 664.8,136.4 658.5,138.4Z" fill="#3eace5"/>
<path d="M627.1,123.0L633.4,121.2 627.1,118.2 620.8,120.0Z" fill="#46bfdb"/>
<path d="M570.2,95.9L576.6,94.4 570.2,91.5 563.9,93.0Z" fill="#5cc276"/>
<path d="M563.9,93.0L570.2,91.5 563.9,88.6 557.5,90.0Z" fill="#5ec26c"/>
<path d="M557.5,90.0L563.9,88.6 557.5,85.7 551.2,87.1Z" fill="#60c262"/>
<path d="M551.2,87.1L557.5,85.7 551.2,82.8 544.8,84.2Z" fill="#62c258"/>
<path d="M544.7,179.3L538.4,175.5L532.1,171.7L525.7,167.9L519.4,164.2L513.1,160.4L506.7,156.7L500.4,153.0L494.0,149.3L487.7,145.6L481.3,141.9L475.0,138.2L468.6,134.6L462.2,131.0L455.8,127.3L449.4,123.7L443.0,120.1L436.6,116.6L430.2,113.0L423.8,109.4L417.4,105.9 M544.7,179.3L551.0,177.4L557.4,175.4L563.7,173.5L570.0,171.5L576.4,169.6L582.7,167.6L589.0,165.7L595.4,163.7L601.7,161.7L608.0,159.7L614.3,157.7L620.6,155.7L626.9,153.7L633.2,151.7L639.6,149.7L645.9,147.7L652.2,145.6L658.5,143.6L664.8,141.5L671.0,139.5 M551.0,177.4L544.7,173.6L538.4,169.9L532.1,166.1L525.8,162.4L519.4,158.7L513.1,155.0L506.8,151.3L500.4,147.6L494.1,144.0L487.7,140.3L481.3,136.7L475.0,133.1L468.6,129.5L462.2,125.9L455.8,122.3L449.4,118.8L443.0,115.2L436.6,111.7L430.2,108.2L423.8,104.7 M538.4,175.5L544.7,173.6L551.1,171.7L557.4,169.8L563.7,167.9L570.1,166.0L576.4,164.0L582.7,162.1L589.1,160.2L595.4,158.2L601.7,156.3L608.0,154.3L614.3,152.4L620.7,150.4L627.0,148.4L633.3,146.4L639.6,144.4L645.9,142.4L652.2,140.4L658.5,138.4L664.8,136.4 M557.4,175.4L551.1,171.7L544.8,168.0L538.4,164.3L532.1,160.6L525.8,156.9L519.5,153.3L513.1,149.6L506.8,146.0L500.4,142.4L494.1,138.7L487.7,135.2L481.3,131.6L475.0,128.0L468.6,124.4L462.2,120.9L455.8,117.4L449.4,113.9L443.0,110.4L436.6,106.9L430.2,103.4 M532.1,171.7L538.4,169.9L544.8,168.0L551.1,166.1L557.4,164.2L563.8,162.4L570.1,160.5L576.4,158.6L582.8,156.7L589.1,154.8L595.4,152.8L601.7,150.9L608.1,149.0L614.4,147.1L620.7,145.1L627.0,143.2L633.3,141.2L639.6,139.3L645.9,137.3L652.2,135.3L658.5,133.4 M563.7,173.5L557.4,169.8L551.1,166.1L544.8,162.4L538.5,158.8L532.1,155.2L525.8,151.5L519.5,147.9L513.1,144.3L506.8,140.7L500.4,137.2L494.1,133.6L487.7,130.0L481.3,126.5L475.0,123.0L468.6,119.5L462.2,116.0L455.8,112.5L449.4,109.0L443.0,105.6L436.6,102.1 M525.7,167.9L532.1,166.1L538.4,164.3L544.8,162.4L551.1,160.6L557.5,158.8L563.8,156.9L570.1,155.0L576.5,153.2L582.8,151.3L589.1,149.4L595.4,147.5L601.8,145.7L608.1,143.8L614.4,141.9L620.7,139.9L627.0,138.0L633.3,136.1L639.6,134.2L645.9,132.2L652.2,130.3 M570.0,171.5L563.7,167.9L557.4,164.2L551.1,160.6L544.8,157.0L538.5,153.4L532.2,149.8L525.8,146.2L519.5,142.7L513.1,139.1L506.8,135.6L500.4,132.0L494.1,128.5L487.7,125.0L481.3,121.5L474.9,118.1L468.6,114.6L462.2,111.1L455.8,107.7L449.4,104.3L443.0,100.9 M519.4,164.2L525.8,162.4L532.1,160.6L538.5,158.8L544.8,157.0L551.1,155.2L557.5,153.4L563.8,151.5L570.2,149.7L576.5,147.9L582.8,146.0L589.1,144.2L595.5,142.3L601.8,140.5L608.1,138.6L614.4,136.7L620.7,134.8L627.0,133.0L633.4,131.1L639.7,129.2L646.0,127.3 M576.4,169.6L570.1,166.0L563.8,162.4L557.5,158.8L551.1,155.2L544.8,151.6L538.5,148.1L532.2,144.5L525.8,141.0L519.5,137.5L513.1,134.0L506.8,130.5L500.4,127.0L494.1,123.5L487.7,120.1L481.3,116.6L474.9,113.2L468.6,109.8L462.2,106.4L455.8,103.0L449.4,99.6 M513.1,160.4L519.4,158.7L525.8,156.9L532.1,155.2L538.5,153.4L544.8,151.6L551.2,149.8L557.5,148.0L563.8,146.2L570.2,144.4L576.5,142.6L582.8,140.8L589.2,139.0L595.5,137.2L601.8,135.3L608.1,133.5L614.4,131.7L620.8,129.8L627.1,128.0L633.4,126.1L639.7,124.2 M582.7,167.6L576.4,164.0L570.1,160.5L563.8,156.9L557.5,153.4L551.2,149.8L544.8,146.3L538.5,142.8L532.2,139.3L525.8,135.8L519.5,132.3L513.1,128.9L506.8,125.4L500.4,122.0L494.1,118.6L487.7,115.2L481.3,111.8L474.9,108.4L468.5,105.0L462.1,101.7L455.7,98.3 M506.7,156.7L513.1,155.0L519.5,153.3L525.8,151.5L532.2,149.8L538.5,148.1L544.8,146.3L551.2,144.6L557.5,142.8L563.9,141.0L570.2,139.3L576.5,137.5L582.9,135.7L589.2,133.9L595.5,132.1L601.8,130.3L608.1,128.5L614.5,126.7L620.8,124.9L627.1,123.0L633.4,121.2 M589.0,165.7L582.7,162.1L576.4,158.6L570.1,155.0L563.8,151.5L557.5,148.0L551.2,144.6L544.9,141.1L538.5,137.6L532.2,134.2L525.8,130.7L519.5,127.3L513.1,123.9L506.8,120.5L500.4,117.1L494.1,113.7L487.7,110.4L481.3,107.0L474.9,103.7L468.5,100.4L462.1,97.1 M500.4,153.0L506.8,151.3L513.1,149.6L519.5,147.9L525.8,146.2L532.2,144.5L538.5,142.8L544.9,141.1L551.2,139.4L557.5,137.6L563.9,135.9L570.2,134.1L576.5,132.4L582.9,130.6L589.2,128.9L595.5,127.1L601.8,125.3L608.2,123.6L614.5,121.8L620.8,120.0L627.1,118.2 M595.4,163.7L589.1,160.2L582.8,156.7L576.5,153.2L570.2,149.7L563.8,146.2L557.5,142.8L551.2,139.4L544.9,135.9L538.5,132.5L532.2,129.1L525.9,125.7L519.5,122.3L513.1,119.0L506.8,115.6L500.4,112.3L494.0,109.0L487.7,105.6L481.3,102.3L474.9,99.1L468.5,95.8 M494.0,149.3L500.4,147.6L506.8,146.0L513.1,144.3L519.5,142.7L525.8,141.0L532.2,139.3L538.5,137.6L544.9,135.9L551.2,134.2L557.6,132.5L563.9,130.8L570.2,129.1L576.6,127.4L582.9,125.7L589.2,123.9L595.5,122.2L601.8,120.4L608.2,118.7L614.5,116.9L620.8,115.2 M601.7,161.7L595.4,158.2L589.1,154.8L582.8,151.3L576.5,147.9L570.2,144.4L563.9,141.0L557.5,137.6L551.2,134.2L544.9,130.9L538.5,127.5L532.2,124.1L525.9,120.8L519.5,117.5L513.1,114.1L506.8,110.8L500.4,107.5L494.0,104.3L487.7,101.0L481.3,97.7L474.9,94.5 M487.7,145.6L494.1,144.0L500.4,142.4L506.8,140.7L513.1,139.1L519.5,137.5L525.8,135.8L532.2,134.2L538.5,132.5L544.9,130.9L551.2,129.2L557.6,127.5L563.9,125.8L570.2,124.1L576.6,122.5L582.9,120.8L589.2,119.1L595.5,117.3L601.9,115.6L608.2,113.9L614.5,112.2 M608.0,159.7L601.7,156.3L595.4,152.8L589.1,149.4L582.8,146.0L576.5,142.6L570.2,139.3L563.9,135.9L557.6,132.5L551.2,129.2L544.9,125.9L538.5,122.5L532.2,119.2L525.8,115.9L519.5,112.6L513.1,109.4L506.8,106.1L500.4,102.9L494.0,99.6L487.6,96.4L481.2,93.2 M481.3,141.9L487.7,140.3L494.1,138.7L500.4,137.2L506.8,135.6L513.1,134.0L519.5,132.3L525.8,130.7L532.2,129.1L538.5,127.5L544.9,125.9L551.2,124.2L557.6,122.6L563.9,120.9L570.2,119.3L576.6,117.6L582.9,115.9L589.2,114.3L595.5,112.6L601.9,110.9L608.2,109.2 M614.3,157.7L608.0,154.3L601.7,150.9L595.4,147.5L589.1,144.2L582.8,140.8L576.5,137.5L570.2,134.1L563.9,130.8L557.6,127.5L551.2,124.2L544.9,120.9L538.5,117.7L532.2,114.4L525.8,111.1L519.5,107.9L513.1,104.7L506.8,101.5L500.4,98.3L494.0,95.1L487.6,91.9 M475.0,138.2L481.3,136.7L487.7,135.2L494.1,133.6L500.4,132.0L506.8,130.5L513.1,128.9L519.5,127.3L525.9,125.7L532.2,124.1L538.5,122.5L544.9,120.9L551.2,119.3L557.6,117.7L563.9,116.1L570.2,114.5L576.6,112.8L582.9,111.2L589.2,109.5L595.5,107.9L601.9,106.2 M620.6,155.7L614.3,152.4L608.1,149.0L601.8,145.7L595.5,142.3L589.2,139.0L582.9,135.7L576.5,132.4L570.2,129.1L563.9,125.8L557.6,122.6L551.2,119.3L544.9,116.1L538.5,112.9L532.2,109.6L525.8,106.4L519.5,103.2L513.1,100.1L506.7,96.9L500.4,93.7L494.0,90.6 M468.6,134.6L475.0,133.1L481.3,131.6L487.7,130.0L494.1,128.5L500.4,127.0L506.8,125.4L513.1,123.9L519.5,122.3L525.9,120.8L532.2,119.2L538.5,117.7L544.9,116.1L551.2,114.5L557.6,112.9L563.9,111.3L570.2,109.7L576.6,108.1L582.9,106.5L589.2,104.9L595.5,103.3 M626.9,153.7L620.7,150.4L614.4,147.1L608.1,143.8L601.8,140.5L595.5,137.2L589.2,133.9L582.9,130.6L576.6,127.4L570.2,124.1L563.9,120.9L557.6,117.7L551.2,114.5L544.9,111.3L538.5,108.1L532.2,104.9L525.8,101.8L519.5,98.6L513.1,95.5L506.7,92.4L500.3,89.3 M462.2,131.0L468.6,129.5L475.0,128.0L481.3,126.5L487.7,125.0L494.1,123.5L500.4,122.0L506.8,120.5L513.1,119.0L519.5,117.5L525.8,115.9L532.2,114.4L538.5,112.9L544.9,111.3L551.2,109.7L557.6,108.2L563.9,106.6L570.2,105.1L576.6,103.5L582.9,101.9L589.2,100.3 M633.2,151.7L627.0,148.4L620.7,145.1L614.4,141.9L608.1,138.6L601.8,135.3L595.5,132.1L589.2,128.9L582.9,125.7L576.6,122.5L570.2,119.3L563.9,116.1L557.6,112.9L551.2,109.7L544.9,106.6L538.5,103.5L532.2,100.3L525.8,97.2L519.5,94.1L513.1,91.0L506.7,87.9 M455.8,127.3L462.2,125.9L468.6,124.4L475.0,123.0L481.3,121.5L487.7,120.1L494.1,118.6L500.4,117.1L506.8,115.6L513.1,114.1L519.5,112.6L525.8,111.1L532.2,109.6L538.5,108.1L544.9,106.6L551.2,105.1L557.6,103.5L563.9,102.0L570.2,100.5L576.6,98.9L582.9,97.4 M639.6,149.7L633.3,146.4L627.0,143.2L620.7,139.9L614.4,136.7L608.1,133.5L601.8,130.3L595.5,127.1L589.2,123.9L582.9,120.8L576.6,117.6L570.2,114.5L563.9,111.3L557.6,108.2L551.2,105.1L544.9,102.0L538.5,98.9L532.2,95.8L525.8,92.7L519.4,89.7L513.1,86.6 M449.4,123.7L455.8,122.3L462.2,120.9L468.6,119.5L474.9,118.1L481.3,116.6L487.7,115.2L494.1,113.7L500.4,112.3L506.8,110.8L513.1,109.4L519.5,107.9L525.8,106.4L532.2,104.9L538.5,103.5L544.9,102.0L551.2,100.5L557.6,99.0L563.9,97.5L570.2,95.9L576.6,94.4 M645.9,147.7L639.6,144.4L633.3,141.2L627.0,138.0L620.7,134.8L614.4,131.7L608.1,128.5L601.8,125.3L595.5,122.2L589.2,119.1L582.9,115.9L576.6,112.8L570.2,109.7L563.9,106.6L557.6,103.5L551.2,100.5L544.9,97.4L538.5,94.4L532.2,91.3L525.8,88.3L519.4,85.3 M443.0,120.1L449.4,118.8L455.8,117.4L462.2,116.0L468.6,114.6L474.9,113.2L481.3,111.8L487.7,110.4L494.0,109.0L500.4,107.5L506.8,106.1L513.1,104.7L519.5,103.2L525.8,101.8L532.2,100.3L538.5,98.9L544.9,97.4L551.2,95.9L557.5,94.5L563.9,93.0L570.2,91.5 M652.2,145.6L645.9,142.4L639.6,139.3L633.3,136.1L627.0,133.0L620.8,129.8L614.5,126.7L608.2,123.6L601.8,120.4L595.5,117.3L589.2,114.3L582.9,111.2L576.6,108.1L570.2,105.1L563.9,102.0L557.6,99.0L551.2,95.9L544.9,92.9L538.5,89.9L532.1,86.9L525.8,83.9 M436.6,116.6L443.0,115.2L449.4,113.9L455.8,112.5L462.2,111.1L468.6,109.8L474.9,108.4L481.3,107.0L487.7,105.6L494.0,104.3L500.4,102.9L506.8,101.5L513.1,100.1L519.5,98.6L525.8,97.2L532.2,95.8L538.5,94.4L544.9,92.9L551.2,91.5L557.5,90.0L563.9,88.6 M658.5,143.6L652.2,140.4L645.9,137.3L639.6,134.2L633.4,131.1L627.1,128.0L620.8,124.9L614.5,121.8L608.2,118.7L601.9,115.6L595.5,112.6L589.2,109.5L582.9,106.5L576.6,103.5L570.2,100.5L563.9,97.5L557.5,94.5L551.2,91.5L544.8,88.5L538.5,85.6L532.1,82.6 M430.2,113.0L436.6,111.7L443.0,110.4L449.4,109.0L455.8,107.7L462.2,106.4L468.5,105.0L474.9,103.7L481.3,102.3L487.7,101.0L494.0,99.6L500.4,98.3L506.7,96.9L513.1,95.5L519.5,94.1L525.8,92.7L532.2,91.3L538.5,89.9L544.8,88.5L551.2,87.1L557.5,85.7 M664.8,141.5L658.5,138.4L652.2,135.3L645.9,132.2L639.7,129.2L633.4,126.1L627.1,123.0L620.8,120.0L614.5,116.9L608.2,113.9L601.9,110.9L595.5,107.9L589.2,104.9L582.9,101.9L576.6,98.9L570.2,95.9L563.9,93.0L557.5,90.0L551.2,87.1L544.8,84.2L538.5,81.3 M423.8,109.4L430.2,108.2L436.6,106.9L443.0,105.6L449.4,104.3L455.8,103.0L462.1,101.7L468.5,100.4L474.9,99.1L481.3,97.7L487.6,96.4L494.0,95.1L500.4,93.7L506.7,92.4L513.1,91.0L519.4,89.7L525.8,88.3L532.1,86.9L538.5,85.6L544.8,84.2L551.2,82.8 M671.0,139.5L664.8,136.4L658.5,133.4L652.2,130.3L646.0,127.3L639.7,124.2L633.4,121.2L627.1,118.2L620.8,115.2L614.5,112.2L608.2,109.2L601.9,106.2L595.5,103.3L589.2,100.3L582.9,97.4L576.6,94.4L570.2,91.5L563.9,88.6L557.5,85.7L551.2,82.8L544.8,79.9 M417.4,105.9L423.8,104.7L430.2,103.4L436.6,102.1L443.0,100.9L449.4,99.6L455.7,98.3L462.1,97.1L468.5,95.8L474.9,94.5L481.2,93.2L487.6,91.9L494.0,90.6L500.3,89.3L506.7,87.9L513.1,86.6L519.4,85.3L525.8,83.9L532.1,82.6L538.5,81.3L544.8,79.9" stroke="#1a1a1a" stroke-opacity="0.6" stroke-width="0.6" fill="none"/>
<text x="414.37" y="157.64" font-family="Liberation Sans" font-size="11.55" text-anchor="end" textLength="14.60" lengthAdjust="spacingAndGlyphs" fill="#2a2a2a">3.4</text>
<text x="413.36" y="136.29" font-family="Liberation Sans" font-size="11.55" text-anchor="end" textLength="14.60" lengthAdjust="spacingAndGlyphs" fill="#2a2a2a">3.6</text>
<text x="412.35" y="114.95" font-family="Liberation Sans" font-size="11.55" text-anchor="end" textLength="14.60" lengthAdjust="spacingAndGlyphs" fill="#2a2a2a">3.8</text>
<text x="411.34" y="93.60" font-family="Liberation Sans" font-size="11.55" text-anchor="end" textLength="5.84" lengthAdjust="spacingAndGlyphs" fill="#2a2a2a">4</text>
<text x="410.32" y="72.25" font-family="Liberation Sans" font-size="11.55" text-anchor="end" textLength="14.60" lengthAdjust="spacingAndGlyphs" fill="#2a2a2a">4.2</text>
<text x="409.31" y="50.90" font-family="Liberation Sans" font-size="11.55" text-anchor="end" textLength="14.60" lengthAdjust="spacingAndGlyphs" fill="#2a2a2a">4.4</text>
<text x="408.30" y="29.55" font-family="Liberation Sans" font-size="11.55" text-anchor="end" textLength="14.60" lengthAdjust="spacingAndGlyphs" fill="#2a2a2a">4.6</text>
<text x="550.90" y="272.25" font-family="Liberation Sans" font-size="11.55" textLength="5.84" lengthAdjust="spacingAndGlyphs" fill="#2a2a2a">0</text>
<text x="581.75" y="257.57" font-family="Liberation Sans" font-size="11.55" textLength="5.84" lengthAdjust="spacingAndGlyphs" fill="#2a2a2a">5</text>
<text x="612.60" y="242.90" font-family="Liberation Sans" font-size="11.55" textLength="11.68" lengthAdjust="spacingAndGlyphs" fill="#2a2a2a">10</text>
<text x="643.45" y="228.23" font-family="Liberation Sans" font-size="11.55" textLength="11.68" lengthAdjust="spacingAndGlyphs" fill="#2a2a2a">15</text>
<text x="674.30" y="213.55" font-family="Liberation Sans" font-size="11.55" textLength="11.68" lengthAdjust="spacingAndGlyphs" fill="#2a2a2a">20</text>
<text x="539.00" y="272.25" font-family="Liberation Sans" font-size="11.55" text-anchor="end" textLength="5.84" lengthAdjust="spacingAndGlyphs" fill="#2a2a2a">0</text>
<text x="514.44" y="260.49" font-family="Liberation Sans" font-size="11.55" text-anchor="end" textLength="11.68" lengthAdjust="spacingAndGlyphs" fill="#2a2a2a">20</text>
<text x="489.88" y="248.73" font-family="Liberation Sans" font-size="11.55" text-anchor="end" textLength="11.68" lengthAdjust="spacingAndGlyphs" fill="#2a2a2a">40</text>
<text x="465.32" y="236.97" font-family="Liberation Sans" font-size="11.55" text-anchor="end" textLength="11.68" lengthAdjust="spacingAndGlyphs" fill="#2a2a2a">60</text>
<text x="440.76" y="225.21" font-family="Liberation Sans" font-size="11.55" text-anchor="end" textLength="11.68" lengthAdjust="spacingAndGlyphs" fill="#2a2a2a">80</text>
<text x="416.20" y="213.45" font-family="Liberation Sans" font-size="11.55" text-anchor="end" textLength="17.52" lengthAdjust="spacingAndGlyphs" fill="#2a2a2a">100</text>
<text x="402.30" y="256.25" font-family="Liberation Sans" font-size="8.9" textLength="66.90" lengthAdjust="spacingAndGlyphs" fill="#2a2a2a">B: RCA (% by vol)</text>
<text x="622.00" y="256.65" font-family="Liberation Sans" font-size="8.9" textLength="63.20" lengthAdjust="spacingAndGlyphs" fill="#2a2a2a">A: LCB (% bwoc)</text>
<text x="374.10" y="8.70" font-family="Liberation Sans" font-size="7.3" textLength="14.30" lengthAdjust="spacingAndGlyphs" fill="#2a2a2a">3.45</text>
<text x="430.50" y="8.70" font-family="Liberation Sans" font-size="7.3" textLength="22.20" lengthAdjust="spacingAndGlyphs" fill="#2a2a2a">4.4025</text>
<text x="378.90" y="138.60" font-family="Liberation Sans" font-size="8.3" textLength="78.10" lengthAdjust="spacingAndGlyphs" transform="rotate(-90 378.90 138.60)" fill="#2a2a2a">Flex (MPa) - 28 days</text>
<rect x="399.5" y="-0.6" width="28.00" height="11.20" fill="url(#cb)"/>
<text x="440.90" y="304.70" font-family="Liberation Serif" font-size="19.8" textLength="174.40" lengthAdjust="spacingAndGlyphs" fill="#000">(b) Flexural – 28 days</text>
<path d="M49.6,530.6L41.8,364.6 M78.4,480.3L74.0,357.3 M109.1,470.0L106.2,350.0 M139.8,459.6L138.4,342.7 M170.6,485.4L170.6,335.4 M291.9,530.7L299.9,365.0 M269.2,482.5L274.0,359.1 M244.5,474.2L248.1,353.1 M219.9,465.9L222.3,347.2 M195.2,457.6L196.4,341.3 M47.7,490.6L170.6,449.3 M170.6,449.3L293.8,490.8 M46.2,459.1L170.6,420.8 M170.6,420.8L295.3,459.4 M44.7,427.6L170.6,392.3 M170.6,392.3L296.8,427.9 M43.2,396.1L170.6,363.9 M170.6,363.9L298.3,396.4 M41.8,364.6L170.6,335.4 M170.6,335.4L299.9,365.0" stroke="#3a3a3a" stroke-width="0.85" fill="none"/>
<path d="M49.6,530.6L170.5,588.5L291.9,530.7L170.6,485.4Z" fill="#666466" stroke="#2a2a2a" stroke-width="0.8"/>
<path d="M67.8,539.2 Q133.8,514.7 201.9,497.0" stroke="#64c038" stroke-width="1.25" fill="none"/>
<path d="M87.7,548.3 Q161.8,522.1 239.7,511.1" stroke="#64c038" stroke-width="1.25" fill="none"/>
<path d="M106.7,557.8 Q190.5,529.2 279.6,526.0" stroke="#64c038" stroke-width="1.25" fill="none"/>
<path d="M127.0,567.7 Q193.2,549.0 262.2,544.4" stroke="#64c038" stroke-width="1.25" fill="none"/>
<path d="M148.4,577.7 Q182.9,569.3 218.2,564.8" stroke="#64c038" stroke-width="1.25" fill="none"/>
<circle cx="170.46" cy="588.46" r="1.1" fill="#111"/><circle cx="200.81" cy="574.02" r="1.1" fill="#111"/><circle cx="231.17" cy="559.58" r="1.1" fill="#111"/><circle cx="261.53" cy="545.14" r="1.1" fill="#111"/><circle cx="291.88" cy="530.70" r="1.1" fill="#111"/><circle cx="170.46" cy="588.46" r="1.1" fill="#111"/><circle cx="146.29" cy="576.89" r="1.1" fill="#111"/><circle cx="122.12" cy="565.32" r="1.1" fill="#111"/><circle cx="97.96" cy="553.75" r="1.1" fill="#111"/><circle cx="73.79" cy="542.17" r="1.1" fill="#111"/><circle cx="49.62" cy="530.60" r="1.1" fill="#111"/><circle cx="47.73" cy="490.65" r="1.1" fill="#111"/><circle cx="46.23" cy="459.13" r="1.1" fill="#111"/><circle cx="44.74" cy="427.62" r="1.1" fill="#111"/><circle cx="43.25" cy="396.11" r="1.1" fill="#111"/><circle cx="41.75" cy="364.60" r="1.1" fill="#111"/>
<path d="M170.5,479.7L176.8,477.6L183.1,475.4L189.4,473.3L195.7,471.2L202.0,469.0L208.3,466.9L214.6,464.8L220.9,462.6L227.2,460.5L233.5,458.3L239.8,456.2L246.1,454.0L252.4,451.9L258.6,449.7L264.9,447.6L271.2,445.4L277.5,443.3L283.8,441.1L290.1,439.0L296.4,436.8L290.1,435.3L283.8,433.8L277.5,432.3L271.2,430.7L264.9,429.2L258.6,427.7L252.3,426.2L246.0,424.6L239.7,423.1L233.4,421.5L227.1,420.0L220.8,418.5L214.5,416.9L208.2,415.4L202.0,413.8L195.7,412.3L189.4,410.7L183.1,409.1L176.8,407.6L170.6,406.0L164.3,407.8L158.0,409.7L151.8,411.5L145.5,413.3L139.3,415.2L133.0,417.0L126.8,418.8L120.5,420.6L114.3,422.5L108.0,424.3L101.7,426.1L95.5,428.0L89.2,429.8L83.0,431.6L76.7,433.5L70.5,435.3L64.2,437.1L58.0,438.9L51.7,440.8L45.5,442.6L51.7,444.5L57.9,446.4L64.1,448.3L70.4,450.2L76.6,452.1L82.9,454.0L89.1,455.8L95.3,457.7L101.6,459.6L107.8,461.4L114.1,463.3L120.4,465.1L126.6,467.0L132.9,468.8L139.1,470.6L145.4,472.5L151.7,474.3L157.9,476.1L164.2,477.9Z" fill="#67c543"/>
<path d="M170.5,479.7L176.8,477.6 170.5,475.8 164.2,477.9Z" fill="#69c63e"/>
<path d="M164.2,477.9L170.5,475.8 164.2,474.0 157.9,476.1ZM176.8,477.6L183.1,475.4 176.8,473.7 170.5,475.8ZM183.1,475.4L189.4,473.3 183.1,471.6 176.8,473.7ZM189.4,473.3L195.7,471.2 189.4,469.4 183.1,471.6Z" fill="#68c63e"/>
<path d="M157.9,476.1L164.2,474.0 157.9,472.2 151.7,474.3ZM151.7,474.3L157.9,472.2 151.7,470.4 145.4,472.5ZM170.5,475.8L176.8,473.7 170.5,471.9 164.2,474.0ZM164.2,474.0L170.5,471.9 164.2,470.1 157.9,472.2ZM157.9,472.2L164.2,470.1 158.0,468.3 151.7,470.4ZM176.8,473.7L183.1,471.6 176.8,469.8 170.5,471.9ZM170.5,471.9L176.8,469.8 170.5,468.0 164.2,470.1ZM183.1,471.6L189.4,469.4 183.1,467.7 176.8,469.8ZM176.8,469.8L183.1,467.7 176.8,465.9 170.5,468.0ZM195.7,471.2L202.0,469.0 195.7,467.3 189.4,469.4ZM189.4,469.4L195.7,467.3 189.4,465.6 183.1,467.7ZM183.1,467.7L189.4,465.6 183.1,463.8 176.8,465.9ZM202.0,469.0L208.3,466.9 202.0,465.2 195.7,467.3ZM195.7,467.3L202.0,465.2 195.7,463.5 189.4,465.6ZM208.3,466.9L214.6,464.8 208.3,463.1 202.0,465.2ZM202.0,465.2L208.3,463.1 202.0,461.4 195.7,463.5ZM214.6,464.8L220.9,462.6 214.6,460.9 208.3,463.1ZM208.3,463.1L214.6,460.9 208.3,459.2 202.0,461.4ZM220.9,462.6L227.2,460.5 220.9,458.8 214.6,460.9ZM227.2,460.5L233.5,458.3 227.2,456.7 220.9,458.8ZM233.5,458.3L239.8,456.2 233.5,454.5 227.2,456.7Z" fill="#68c63f"/>
<path d="M145.4,472.5L151.7,470.4 145.4,468.6 139.1,470.6ZM151.7,470.4L158.0,468.3 151.7,466.5 145.4,468.6ZM164.2,470.1L170.5,468.0 164.3,466.2 158.0,468.3ZM170.5,468.0L176.8,465.9 170.6,464.2 164.3,466.2ZM176.8,465.9L183.1,463.8 176.9,462.1 170.6,464.2ZM189.4,465.6L195.7,463.5 189.4,461.7 183.1,463.8ZM195.7,463.5L202.0,461.4 195.7,459.6 189.4,461.7ZM202.0,461.4L208.3,459.2 202.0,457.5 195.7,459.6ZM214.6,460.9L220.9,458.8 214.6,457.1 208.3,459.2ZM208.3,459.2L214.6,457.1 208.3,455.4 202.0,457.5ZM220.9,458.8L227.2,456.7 220.9,455.0 214.6,457.1ZM227.2,456.7L233.5,454.5 227.2,452.9 220.9,455.0ZM239.8,456.2L246.1,454.0 239.8,452.4 233.5,454.5ZM246.1,454.0L252.4,451.9 246.1,450.3 239.8,452.4ZM252.4,451.9L258.6,449.7 252.4,448.1 246.1,450.3Z" fill="#68c640"/>
<path d="M139.1,470.6L145.4,468.6 139.2,466.8 132.9,468.8ZM145.4,468.6L151.7,466.5 145.4,464.7 139.2,466.8ZM158.0,468.3L164.3,466.2 158.0,464.5 151.7,466.5ZM164.3,466.2L170.6,464.2 164.3,462.4 158.0,464.5ZM170.6,464.2L176.9,462.1 170.6,460.3 164.3,462.4ZM183.1,463.8L189.4,461.7 183.2,460.0 176.9,462.1ZM176.9,462.1L183.2,460.0 176.9,458.3 170.6,460.3ZM189.4,461.7L195.7,459.6 189.4,457.9 183.2,460.0ZM195.7,459.6L202.0,457.5 195.7,455.8 189.4,457.9ZM202.0,457.5L208.3,455.4 202.0,453.8 195.7,455.8ZM214.6,457.1L220.9,455.0 214.6,453.3 208.3,455.4ZM220.9,455.0L227.2,452.9 220.9,451.2 214.6,453.3ZM233.5,454.5L239.8,452.4 233.5,450.8 227.2,452.9ZM227.2,452.9L233.5,450.8 227.2,449.1 220.9,451.2ZM239.8,452.4L246.1,450.3 239.8,448.7 233.5,450.8ZM246.1,450.3L252.4,448.1 246.1,446.5 239.8,448.7ZM258.6,449.7L264.9,447.6 258.6,446.0 252.4,448.1ZM252.4,448.1L258.6,446.0 252.3,444.4 246.1,446.5ZM264.9,447.6L271.2,445.4 264.9,443.9 258.6,446.0ZM271.2,445.4L277.5,443.3 271.2,441.7 264.9,443.9Z" fill="#67c540"/>
<path d="M132.9,468.8L139.2,466.8 132.9,464.9 126.6,467.0ZM126.6,467.0L132.9,464.9 126.6,463.1 120.4,465.1ZM139.2,466.8L145.4,464.7 139.2,462.9 132.9,464.9ZM132.9,464.9L139.2,462.9 132.9,461.1 126.6,463.1ZM151.7,466.5L158.0,464.5 151.7,462.7 145.4,464.7ZM145.4,464.7L151.7,462.7 145.5,460.9 139.2,462.9ZM139.2,462.9L145.5,460.9 139.2,459.1 132.9,461.1ZM158.0,464.5L164.3,462.4 158.0,460.6 151.7,462.7ZM151.7,462.7L158.0,460.6 151.8,458.8 145.5,460.9ZM164.3,462.4L170.6,460.3 164.3,458.6 158.0,460.6ZM158.0,460.6L164.3,458.6 158.0,456.8 151.8,458.8ZM170.6,460.3L176.9,458.3 170.6,456.5 164.3,458.6ZM164.3,458.6L170.6,456.5 164.3,454.8 158.0,456.8ZM183.2,460.0L189.4,457.9 183.2,456.2 176.9,458.3ZM176.9,458.3L183.2,456.2 176.9,454.5 170.6,456.5ZM170.6,456.5L176.9,454.5 170.6,452.7 164.3,454.8ZM189.4,457.9L195.7,455.8 189.5,454.1 183.2,456.2ZM183.2,456.2L189.5,454.1 183.2,452.4 176.9,454.5ZM195.7,455.8L202.0,453.8 195.7,452.1 189.5,454.1ZM189.5,454.1L195.7,452.1 189.5,450.4 183.2,452.4ZM208.3,455.4L214.6,453.3 208.3,451.7 202.0,453.8ZM202.0,453.8L208.3,451.7 202.0,450.0 195.7,452.1ZM195.7,452.1L202.0,450.0 195.8,448.3 189.5,450.4ZM214.6,453.3L220.9,451.2 214.6,449.6 208.3,451.7ZM208.3,451.7L214.6,449.6 208.3,447.9 202.0,450.0ZM202.0,450.0L208.3,447.9 202.0,446.2 195.8,448.3ZM220.9,451.2L227.2,449.1 220.9,447.5 214.6,449.6ZM214.6,449.6L220.9,447.5 214.6,445.8 208.3,447.9ZM233.5,450.8L239.8,448.7 233.5,447.0 227.2,449.1ZM227.2,449.1L233.5,447.0 227.2,445.4 220.9,447.5ZM220.9,447.5L227.2,445.4 220.9,443.8 214.6,445.8ZM239.8,448.7L246.1,446.5 239.8,444.9 233.5,447.0ZM233.5,447.0L239.8,444.9 233.5,443.3 227.2,445.4ZM227.2,445.4L233.5,443.3 227.2,441.7 220.9,443.8ZM246.1,446.5L252.3,444.4 246.1,442.8 239.8,444.9ZM239.8,444.9L246.1,442.8 239.8,441.2 233.5,443.3ZM258.6,446.0L264.9,443.9 258.6,442.3 252.3,444.4ZM252.3,444.4L258.6,442.3 252.3,440.7 246.1,442.8ZM246.1,442.8L252.3,440.7 246.0,439.1 239.8,441.2ZM264.9,443.9L271.2,441.7 264.9,440.2 258.6,442.3ZM258.6,442.3L264.9,440.2 258.6,438.6 252.3,440.7ZM277.5,443.3L283.8,441.1 277.5,439.6 271.2,441.7ZM271.2,441.7L277.5,439.6 271.2,438.0 264.9,440.2ZM264.9,440.2L271.2,438.0 264.9,436.5 258.6,438.6ZM283.8,441.1L290.1,439.0 283.8,437.4 277.5,439.6ZM277.5,439.6L283.8,437.4 277.5,435.9 271.2,438.0ZM271.2,438.0L277.5,435.9 271.2,434.4 264.9,436.5ZM290.1,439.0L296.4,436.8 290.1,435.3 283.8,437.4ZM283.8,437.4L290.1,435.3 283.8,433.8 277.5,435.9Z" fill="#67c541"/>
<path d="M120.4,465.1L126.6,463.1 120.4,461.3 114.1,463.3ZM114.1,463.3L120.4,461.3 114.1,459.4 107.8,461.4ZM126.6,463.1L132.9,461.1 126.7,459.3 120.4,461.3ZM120.4,461.3L126.7,459.3 120.4,457.5 114.1,459.4ZM132.9,461.1L139.2,459.1 132.9,457.3 126.7,459.3ZM126.7,459.3L132.9,457.3 126.7,455.5 120.4,457.5ZM145.5,460.9L151.8,458.8 145.5,457.1 139.2,459.1ZM139.2,459.1L145.5,457.1 139.2,455.3 132.9,457.3ZM132.9,457.3L139.2,455.3 133.0,453.5 126.7,455.5ZM151.8,458.8L158.0,456.8 151.8,455.0 145.5,457.1ZM145.5,457.1L151.8,455.0 145.5,453.3 139.2,455.3ZM158.0,456.8L164.3,454.8 158.1,453.0 151.8,455.0ZM151.8,455.0L158.1,453.0 151.8,451.3 145.5,453.3ZM164.3,454.8L170.6,452.7 164.3,451.0 158.1,453.0ZM158.1,453.0L164.3,451.0 158.1,449.3 151.8,451.3ZM176.9,454.5L183.2,452.4 176.9,450.7 170.6,452.7ZM170.6,452.7L176.9,450.7 170.6,449.0 164.3,451.0ZM164.3,451.0L170.6,449.0 164.4,447.2 158.1,449.3ZM183.2,452.4L189.5,450.4 183.2,448.7 176.9,450.7ZM176.9,450.7L183.2,448.7 176.9,446.9 170.6,449.0ZM189.5,450.4L195.8,448.3 189.5,446.6 183.2,448.7ZM183.2,448.7L189.5,446.6 183.2,444.9 176.9,446.9ZM195.8,448.3L202.0,446.2 195.8,444.6 189.5,446.6ZM189.5,446.6L195.8,444.6 189.5,442.9 183.2,444.9ZM208.3,447.9L214.6,445.8 208.3,444.2 202.0,446.2ZM202.0,446.2L208.3,444.2 202.0,442.5 195.8,444.6ZM195.8,444.6L202.0,442.5 195.8,440.9 189.5,442.9ZM214.6,445.8L220.9,443.8 214.6,442.1 208.3,444.2ZM208.3,444.2L214.6,442.1 208.3,440.5 202.0,442.5ZM220.9,443.8L227.2,441.7 220.9,440.1 214.6,442.1ZM214.6,442.1L220.9,440.1 214.6,438.4 208.3,440.5ZM233.5,443.3L239.8,441.2 233.5,439.6 227.2,441.7ZM227.2,441.7L233.5,439.6 227.2,438.0 220.9,440.1ZM220.9,440.1L227.2,438.0 220.9,436.4 214.6,438.4ZM239.8,441.2L246.0,439.1 239.8,437.5 233.5,439.6ZM233.5,439.6L239.8,437.5 233.5,435.9 227.2,438.0ZM227.2,438.0L233.5,435.9 227.2,434.4 220.9,436.4ZM252.3,440.7L258.6,438.6 252.3,437.0 246.0,439.1ZM246.0,439.1L252.3,437.0 246.0,435.5 239.8,437.5ZM239.8,437.5L246.0,435.5 239.7,433.9 233.5,435.9ZM258.6,438.6L264.9,436.5 258.6,434.9 252.3,437.0ZM252.3,437.0L258.6,434.9 252.3,433.4 246.0,435.5ZM246.0,435.5L252.3,433.4 246.0,431.8 239.7,433.9ZM264.9,436.5L271.2,434.4 264.9,432.8 258.6,434.9ZM258.6,434.9L264.9,432.8 258.6,431.3 252.3,433.4ZM252.3,433.4L258.6,431.3 252.3,429.8 246.0,431.8ZM277.5,435.9L283.8,433.8 277.5,432.3 271.2,434.4ZM271.2,434.4L277.5,432.3 271.2,430.7 264.9,432.8ZM264.9,432.8L271.2,430.7 264.9,429.2 258.6,431.3Z" fill="#67c542"/>
<path d="M107.8,461.4L114.1,459.4 107.9,457.6 101.6,459.6ZM101.6,459.6L107.9,457.6 101.6,455.7 95.3,457.7ZM114.1,459.4L120.4,457.5 114.2,455.6 107.9,457.6ZM107.9,457.6L114.2,455.6 107.9,453.8 101.6,455.7ZM120.4,457.5L126.7,455.5 120.4,453.7 114.2,455.6ZM114.2,455.6L120.4,453.7 114.2,451.8 107.9,453.8ZM126.7,455.5L133.0,453.5 126.7,451.7 120.4,453.7ZM120.4,453.7L126.7,451.7 120.5,449.9 114.2,451.8ZM139.2,455.3L145.5,453.3 139.2,451.5 133.0,453.5ZM133.0,453.5L139.2,451.5 133.0,449.7 126.7,451.7ZM126.7,451.7L133.0,449.7 126.7,447.9 120.5,449.9ZM145.5,453.3L151.8,451.3 145.5,449.5 139.2,451.5ZM139.2,451.5L145.5,449.5 139.3,447.7 133.0,449.7ZM151.8,451.3L158.1,449.3 151.8,447.5 145.5,449.5ZM145.5,449.5L151.8,447.5 145.5,445.8 139.3,447.7ZM158.1,449.3L164.4,447.2 158.1,445.5 151.8,447.5ZM151.8,447.5L158.1,445.5 151.8,443.8 145.5,445.8ZM170.6,449.0L176.9,446.9 170.6,445.2 164.4,447.2ZM164.4,447.2L170.6,445.2 164.4,443.5 158.1,445.5ZM158.1,445.5L164.4,443.5 158.1,441.8 151.8,443.8ZM176.9,446.9L183.2,444.9 176.9,443.2 170.6,445.2ZM170.6,445.2L176.9,443.2 170.6,441.5 164.4,443.5ZM164.4,443.5L170.6,441.5 164.4,439.8 158.1,441.8ZM183.2,444.9L189.5,442.9 183.2,441.2 176.9,443.2ZM176.9,443.2L183.2,441.2 176.9,439.5 170.6,441.5ZM189.5,442.9L195.8,440.9 189.5,439.2 183.2,441.2ZM183.2,441.2L189.5,439.2 183.2,437.5 176.9,439.5ZM202.0,442.5L208.3,440.5 202.0,438.8 195.8,440.9ZM195.8,440.9L202.0,438.8 195.8,437.2 189.5,439.2ZM189.5,439.2L195.8,437.2 189.5,435.5 183.2,437.5ZM208.3,440.5L214.6,438.4 208.3,436.8 202.0,438.8ZM202.0,438.8L208.3,436.8 202.0,435.2 195.8,437.2ZM195.8,437.2L202.0,435.2 195.8,433.5 189.5,435.5ZM214.6,438.4L220.9,436.4 214.6,434.8 208.3,436.8ZM208.3,436.8L214.6,434.8 208.3,433.2 202.0,435.2ZM202.0,435.2L208.3,433.2 202.0,431.5 195.8,433.5ZM220.9,436.4L227.2,434.4 220.9,432.8 214.6,434.8ZM214.6,434.8L220.9,432.8 214.6,431.2 208.3,433.2ZM233.5,435.9L239.7,433.9 233.4,432.3 227.2,434.4ZM227.2,434.4L233.4,432.3 227.2,430.7 220.9,432.8ZM220.9,432.8L227.2,430.7 220.9,429.1 214.6,431.2ZM239.7,433.9L246.0,431.8 239.7,430.3 233.4,432.3ZM233.4,432.3L239.7,430.3 233.4,428.7 227.2,430.7ZM227.2,430.7L233.4,428.7 227.1,427.1 220.9,429.1ZM246.0,431.8L252.3,429.8 246.0,428.2 239.7,430.3ZM239.7,430.3L246.0,428.2 239.7,426.7 233.4,428.7ZM233.4,428.7L239.7,426.7 233.4,425.1 227.1,427.1ZM258.6,431.3L264.9,429.2 258.6,427.7 252.3,429.8ZM252.3,429.8L258.6,427.7 252.3,426.2 246.0,428.2ZM246.0,428.2L252.3,426.2 246.0,424.6 239.7,426.7Z" fill="#67c543"/>
<path d="M95.3,457.7L101.6,455.7 95.4,453.9 89.1,455.8ZM101.6,455.7L107.9,453.8 101.7,452.0 95.4,453.9ZM107.9,453.8L114.2,451.8 107.9,450.0 101.7,452.0ZM114.2,451.8L120.5,449.9 114.2,448.1 107.9,450.0ZM120.5,449.9L126.7,447.9 120.5,446.1 114.2,448.1ZM133.0,449.7L139.3,447.7 133.0,446.0 126.7,447.9ZM126.7,447.9L133.0,446.0 126.7,444.2 120.5,446.1ZM139.3,447.7L145.5,445.8 139.3,444.0 133.0,446.0ZM145.5,445.8L151.8,443.8 145.6,442.0 139.3,444.0ZM151.8,443.8L158.1,441.8 151.8,440.1 145.6,442.0ZM158.1,441.8L164.4,439.8 158.1,438.1 151.8,440.1ZM170.6,441.5L176.9,439.5 170.6,437.8 164.4,439.8ZM164.4,439.8L170.6,437.8 164.4,436.2 158.1,438.1ZM176.9,439.5L183.2,437.5 176.9,435.9 170.6,437.8ZM170.6,437.8L176.9,435.9 170.6,434.2 164.4,436.2ZM183.2,437.5L189.5,435.5 183.2,433.9 176.9,435.9ZM189.5,435.5L195.8,433.5 189.5,431.9 183.2,433.9ZM195.8,433.5L202.0,431.5 195.7,429.9 189.5,431.9ZM208.3,433.2L214.6,431.2 208.3,429.5 202.0,431.5ZM202.0,431.5L208.3,429.5 202.0,427.9 195.7,429.9ZM214.6,431.2L220.9,429.1 214.6,427.5 208.3,429.5ZM208.3,429.5L214.6,427.5 208.3,426.0 202.0,427.9ZM220.9,429.1L227.1,427.1 220.9,425.5 214.6,427.5ZM227.1,427.1L233.4,425.1 227.1,423.5 220.9,425.5ZM239.7,426.7L246.0,424.6 239.7,423.1 233.4,425.1ZM233.4,425.1L239.7,423.1 233.4,421.5 227.1,423.5Z" fill="#67c544"/>
<path d="M89.1,455.8L95.4,453.9 89.1,452.0 82.9,454.0ZM95.4,453.9L101.7,452.0 95.4,450.1 89.1,452.0ZM101.7,452.0L107.9,450.0 101.7,448.2 95.4,450.1ZM107.9,450.0L114.2,448.1 107.9,446.3 101.7,448.2ZM114.2,448.1L120.5,446.1 114.2,444.3 107.9,446.3ZM120.5,446.1L126.7,444.2 120.5,442.4 114.2,444.3ZM133.0,446.0L139.3,444.0 133.0,442.2 126.7,444.2ZM126.7,444.2L133.0,442.2 126.8,440.5 120.5,442.4ZM139.3,444.0L145.6,442.0 139.3,440.3 133.0,442.2ZM145.6,442.0L151.8,440.1 145.6,438.3 139.3,440.3ZM151.8,440.1L158.1,438.1 151.8,436.4 145.6,438.3ZM158.1,438.1L164.4,436.2 158.1,434.5 151.8,436.4ZM164.4,436.2L170.6,434.2 164.4,432.5 158.1,434.5ZM176.9,435.9L183.2,433.9 176.9,432.2 170.6,434.2ZM170.6,434.2L176.9,432.2 170.6,430.6 164.4,432.5ZM183.2,433.9L189.5,431.9 183.2,430.3 176.9,432.2ZM189.5,431.9L195.7,429.9 189.5,428.3 183.2,430.3ZM195.7,429.9L202.0,427.9 195.7,426.3 189.5,428.3ZM202.0,427.9L208.3,426.0 202.0,424.4 195.7,426.3ZM214.6,427.5L220.9,425.5 214.6,424.0 208.3,426.0ZM208.3,426.0L214.6,424.0 208.3,422.4 202.0,424.4ZM220.9,425.5L227.1,423.5 220.8,422.0 214.6,424.0ZM214.6,424.0L220.8,422.0 214.6,420.4 208.3,422.4ZM227.1,423.5L233.4,421.5 227.1,420.0 220.8,422.0Z" fill="#66c444"/>
<path d="M82.9,454.0L89.1,452.0 82.9,450.2 76.6,452.1ZM76.6,452.1L82.9,450.2 76.6,448.3 70.4,450.2ZM89.1,452.0L95.4,450.1 89.2,448.3 82.9,450.2ZM82.9,450.2L89.2,448.3 82.9,446.4 76.6,448.3ZM95.4,450.1L101.7,448.2 95.4,446.4 89.2,448.3ZM89.2,448.3L95.4,446.4 89.2,444.5 82.9,446.4ZM101.7,448.2L107.9,446.3 101.7,444.4 95.4,446.4ZM95.4,446.4L101.7,444.4 95.4,442.6 89.2,444.5ZM107.9,446.3L114.2,444.3 108.0,442.5 101.7,444.4ZM101.7,444.4L108.0,442.5 101.7,440.7 95.4,442.6ZM114.2,444.3L120.5,442.4 114.2,440.6 108.0,442.5ZM108.0,442.5L114.2,440.6 108.0,438.8 101.7,440.7ZM120.5,442.4L126.8,440.5 120.5,438.7 114.2,440.6ZM114.2,440.6L120.5,438.7 114.2,436.9 108.0,438.8ZM133.0,442.2L139.3,440.3 133.0,438.5 126.8,440.5ZM126.8,440.5L133.0,438.5 126.8,436.8 120.5,438.7ZM120.5,438.7L126.8,436.8 120.5,435.0 114.2,436.9ZM139.3,440.3L145.6,438.3 139.3,436.6 133.0,438.5ZM133.0,438.5L139.3,436.6 133.0,434.9 126.8,436.8ZM126.8,436.8L133.0,434.9 126.8,433.1 120.5,435.0ZM145.6,438.3L151.8,436.4 145.6,434.7 139.3,436.6ZM139.3,436.6L145.6,434.7 139.3,433.0 133.0,434.9ZM133.0,434.9L139.3,433.0 133.0,431.2 126.8,433.1ZM151.8,436.4L158.1,434.5 151.8,432.8 145.6,434.7ZM145.6,434.7L151.8,432.8 145.6,431.1 139.3,433.0ZM158.1,434.5L164.4,432.5 158.1,430.8 151.8,432.8ZM151.8,432.8L158.1,430.8 151.8,429.1 145.6,431.1ZM164.4,432.5L170.6,430.6 164.4,428.9 158.1,430.8ZM158.1,430.8L164.4,428.9 158.1,427.2 151.8,429.1ZM176.9,432.2L183.2,430.3 176.9,428.6 170.6,430.6ZM170.6,430.6L176.9,428.6 170.6,427.0 164.4,428.9ZM164.4,428.9L170.6,427.0 164.4,425.3 158.1,427.2ZM183.2,430.3L189.5,428.3 183.2,426.7 176.9,428.6ZM176.9,428.6L183.2,426.7 176.9,425.0 170.6,427.0ZM170.6,427.0L176.9,425.0 170.6,423.4 164.4,425.3ZM189.5,428.3L195.7,426.3 189.5,424.7 183.2,426.7ZM183.2,426.7L189.5,424.7 183.2,423.1 176.9,425.0ZM176.9,425.0L183.2,423.1 176.9,421.5 170.6,423.4ZM195.7,426.3L202.0,424.4 195.7,422.8 189.5,424.7ZM189.5,424.7L195.7,422.8 189.4,421.2 183.2,423.1ZM183.2,423.1L189.4,421.2 183.2,419.6 176.9,421.5ZM202.0,424.4L208.3,422.4 202.0,420.8 195.7,422.8ZM195.7,422.8L202.0,420.8 195.7,419.2 189.4,421.2ZM189.4,421.2L195.7,419.2 189.4,417.6 183.2,419.6ZM208.3,422.4L214.6,420.4 208.3,418.9 202.0,420.8ZM202.0,420.8L208.3,418.9 202.0,417.3 195.7,419.2ZM220.8,422.0L227.1,420.0 220.8,418.5 214.6,420.4ZM214.6,420.4L220.8,418.5 214.5,416.9 208.3,418.9ZM208.3,418.9L214.5,416.9 208.2,415.4 202.0,417.3Z" fill="#66c445"/>
<path d="M70.4,450.2L76.6,448.3 70.4,446.4 64.1,448.3ZM64.1,448.3L70.4,446.4 64.2,444.5 57.9,446.4ZM76.6,448.3L82.9,446.4 76.7,444.5 70.4,446.4ZM70.4,446.4L76.7,444.5 70.4,442.7 64.2,444.5ZM82.9,446.4L89.2,444.5 82.9,442.7 76.7,444.5ZM76.7,444.5L82.9,442.7 76.7,440.8 70.4,442.7ZM89.2,444.5L95.4,442.6 89.2,440.8 82.9,442.7ZM82.9,442.7L89.2,440.8 83.0,439.0 76.7,440.8ZM95.4,442.6L101.7,440.7 95.5,438.9 89.2,440.8ZM89.2,440.8L95.5,438.9 89.2,437.1 83.0,439.0ZM101.7,440.7L108.0,438.8 101.7,437.0 95.5,438.9ZM95.5,438.9L101.7,437.0 95.5,435.2 89.2,437.1ZM108.0,438.8L114.2,436.9 108.0,435.2 101.7,437.0ZM101.7,437.0L108.0,435.2 101.7,433.4 95.5,435.2ZM114.2,436.9L120.5,435.0 114.3,433.3 108.0,435.2ZM108.0,435.2L114.3,433.3 108.0,431.5 101.7,433.4ZM120.5,435.0L126.8,433.1 120.5,431.4 114.3,433.3ZM114.3,433.3L120.5,431.4 114.3,429.6 108.0,431.5ZM126.8,433.1L133.0,431.2 126.8,429.5 120.5,431.4ZM120.5,431.4L126.8,429.5 120.5,427.8 114.3,429.6ZM139.3,433.0L145.6,431.1 139.3,429.3 133.0,431.2ZM133.0,431.2L139.3,429.3 133.0,427.6 126.8,429.5ZM126.8,429.5L133.0,427.6 126.8,425.9 120.5,427.8ZM145.6,431.1L151.8,429.1 145.6,427.4 139.3,429.3ZM139.3,429.3L145.6,427.4 139.3,425.8 133.0,427.6ZM133.0,427.6L139.3,425.8 133.0,424.1 126.8,425.9ZM151.8,429.1L158.1,427.2 151.8,425.5 145.6,427.4ZM145.6,427.4L151.8,425.5 145.6,423.9 139.3,425.8ZM139.3,425.8L145.6,423.9 139.3,422.2 133.0,424.1ZM158.1,427.2L164.4,425.3 158.1,423.7 151.8,425.5ZM151.8,425.5L158.1,423.7 151.8,422.0 145.6,423.9ZM145.6,423.9L151.8,422.0 145.6,420.3 139.3,422.2ZM164.4,425.3L170.6,423.4 164.4,421.8 158.1,423.7ZM158.1,423.7L164.4,421.8 158.1,420.1 151.8,422.0ZM151.8,422.0L158.1,420.1 151.8,418.5 145.6,420.3ZM170.6,423.4L176.9,421.5 170.6,419.9 164.4,421.8ZM164.4,421.8L170.6,419.9 164.3,418.2 158.1,420.1ZM158.1,420.1L164.3,418.2 158.1,416.6 151.8,418.5ZM176.9,421.5L183.2,419.6 176.9,418.0 170.6,419.9ZM170.6,419.9L176.9,418.0 170.6,416.3 164.3,418.2ZM164.3,418.2L170.6,416.3 164.3,414.7 158.1,416.6ZM183.2,419.6L189.4,417.6 183.2,416.1 176.9,418.0ZM176.9,418.0L183.2,416.1 176.9,414.5 170.6,416.3ZM195.7,419.2L202.0,417.3 195.7,415.7 189.4,417.6ZM189.4,417.6L195.7,415.7 189.4,414.2 183.2,416.1ZM183.2,416.1L189.4,414.2 183.1,412.6 176.9,414.5ZM202.0,417.3L208.2,415.4 202.0,413.8 195.7,415.7ZM195.7,415.7L202.0,413.8 195.7,412.3 189.4,414.2ZM189.4,414.2L195.7,412.3 189.4,410.7 183.1,412.6Z" fill="#66c446"/>
<path d="M57.9,446.4L64.2,444.5 57.9,442.7 51.7,444.5ZM51.7,444.5L57.9,442.7 51.7,440.8 45.5,442.6ZM64.2,444.5L70.4,442.7 64.2,440.8 57.9,442.7ZM57.9,442.7L64.2,440.8 58.0,438.9 51.7,440.8ZM70.4,442.7L76.7,440.8 70.5,439.0 64.2,440.8ZM64.2,440.8L70.5,439.0 64.2,437.1 58.0,438.9ZM76.7,440.8L83.0,439.0 76.7,437.1 70.5,439.0ZM70.5,439.0L76.7,437.1 70.5,435.3 64.2,437.1ZM83.0,439.0L89.2,437.1 83.0,435.3 76.7,437.1ZM76.7,437.1L83.0,435.3 76.7,433.5 70.5,435.3ZM89.2,437.1L95.5,435.2 89.2,433.4 83.0,435.3ZM83.0,435.3L89.2,433.4 83.0,431.6 76.7,433.5ZM95.5,435.2L101.7,433.4 95.5,431.6 89.2,433.4ZM89.2,433.4L95.5,431.6 89.2,429.8 83.0,431.6ZM101.7,433.4L108.0,431.5 101.7,429.7 95.5,431.6ZM95.5,431.6L101.7,429.7 95.5,428.0 89.2,429.8ZM108.0,431.5L114.3,429.6 108.0,427.9 101.7,429.7ZM101.7,429.7L108.0,427.9 101.7,426.1 95.5,428.0ZM114.3,429.6L120.5,427.8 114.3,426.0 108.0,427.9ZM108.0,427.9L114.3,426.0 108.0,424.3 101.7,426.1ZM120.5,427.8L126.8,425.9 120.5,424.2 114.3,426.0ZM114.3,426.0L120.5,424.2 114.3,422.5 108.0,424.3ZM126.8,425.9L133.0,424.1 126.8,422.3 120.5,424.2ZM120.5,424.2L126.8,422.3 120.5,420.6 114.3,422.5ZM133.0,424.1L139.3,422.2 133.0,420.5 126.8,422.3ZM126.8,422.3L133.0,420.5 126.8,418.8 120.5,420.6ZM139.3,422.2L145.6,420.3 139.3,418.7 133.0,420.5ZM133.0,420.5L139.3,418.7 133.0,417.0 126.8,418.8ZM145.6,420.3L151.8,418.5 145.5,416.8 139.3,418.7ZM139.3,418.7L145.5,416.8 139.3,415.2 133.0,417.0ZM151.8,418.5L158.1,416.6 151.8,415.0 145.5,416.8ZM145.5,416.8L151.8,415.0 145.5,413.3 139.3,415.2ZM158.1,416.6L164.3,414.7 158.1,413.1 151.8,415.0ZM151.8,415.0L158.1,413.1 151.8,411.5 145.5,413.3ZM170.6,416.3L176.9,414.5 170.6,412.9 164.3,414.7ZM164.3,414.7L170.6,412.9 164.3,411.3 158.1,413.1ZM158.1,413.1L164.3,411.3 158.0,409.7 151.8,411.5ZM176.9,414.5L183.1,412.6 176.9,411.0 170.6,412.9ZM170.6,412.9L176.9,411.0 170.6,409.4 164.3,411.3ZM164.3,411.3L170.6,409.4 164.3,407.8 158.0,409.7ZM183.1,412.6L189.4,410.7 183.1,409.1 176.9,411.0ZM176.9,411.0L183.1,409.1 176.8,407.6 170.6,409.4ZM170.6,409.4L176.8,407.6 170.6,406.0 164.3,407.8Z" fill="#66c447"/>
<path d="M170.5,479.7L164.2,477.9L157.9,476.1L151.7,474.3L145.4,472.5L139.1,470.6L132.9,468.8L126.6,467.0L120.4,465.1L114.1,463.3L107.8,461.4L101.6,459.6L95.3,457.7L89.1,455.8L82.9,454.0L76.6,452.1L70.4,450.2L64.1,448.3L57.9,446.4L51.7,444.5L45.5,442.6 M170.5,479.7L176.8,477.6L183.1,475.4L189.4,473.3L195.7,471.2L202.0,469.0L208.3,466.9L214.6,464.8L220.9,462.6L227.2,460.5L233.5,458.3L239.8,456.2L246.1,454.0L252.4,451.9L258.6,449.7L264.9,447.6L271.2,445.4L277.5,443.3L283.8,441.1L290.1,439.0L296.4,436.8 M176.8,477.6L170.5,475.8L164.2,474.0L157.9,472.2L151.7,470.4L145.4,468.6L139.2,466.8L132.9,464.9L126.6,463.1L120.4,461.3L114.1,459.4L107.9,457.6L101.6,455.7L95.4,453.9L89.1,452.0L82.9,450.2L76.6,448.3L70.4,446.4L64.2,444.5L57.9,442.7L51.7,440.8 M164.2,477.9L170.5,475.8L176.8,473.7L183.1,471.6L189.4,469.4L195.7,467.3L202.0,465.2L208.3,463.1L214.6,460.9L220.9,458.8L227.2,456.7L233.5,454.5L239.8,452.4L246.1,450.3L252.4,448.1L258.6,446.0L264.9,443.9L271.2,441.7L277.5,439.6L283.8,437.4L290.1,435.3 M183.1,475.4L176.8,473.7L170.5,471.9L164.2,470.1L158.0,468.3L151.7,466.5L145.4,464.7L139.2,462.9L132.9,461.1L126.7,459.3L120.4,457.5L114.2,455.6L107.9,453.8L101.7,452.0L95.4,450.1L89.2,448.3L82.9,446.4L76.7,444.5L70.4,442.7L64.2,440.8L58.0,438.9 M157.9,476.1L164.2,474.0L170.5,471.9L176.8,469.8L183.1,467.7L189.4,465.6L195.7,463.5L202.0,461.4L208.3,459.2L214.6,457.1L220.9,455.0L227.2,452.9L233.5,450.8L239.8,448.7L246.1,446.5L252.3,444.4L258.6,442.3L264.9,440.2L271.2,438.0L277.5,435.9L283.8,433.8 M189.4,473.3L183.1,471.6L176.8,469.8L170.5,468.0L164.3,466.2L158.0,464.5L151.7,462.7L145.5,460.9L139.2,459.1L132.9,457.3L126.7,455.5L120.4,453.7L114.2,451.8L107.9,450.0L101.7,448.2L95.4,446.4L89.2,444.5L82.9,442.7L76.7,440.8L70.5,439.0L64.2,437.1 M151.7,474.3L157.9,472.2L164.2,470.1L170.5,468.0L176.8,465.9L183.1,463.8L189.4,461.7L195.7,459.6L202.0,457.5L208.3,455.4L214.6,453.3L220.9,451.2L227.2,449.1L233.5,447.0L239.8,444.9L246.1,442.8L252.3,440.7L258.6,438.6L264.9,436.5L271.2,434.4L277.5,432.3 M195.7,471.2L189.4,469.4L183.1,467.7L176.8,465.9L170.6,464.2L164.3,462.4L158.0,460.6L151.8,458.8L145.5,457.1L139.2,455.3L133.0,453.5L126.7,451.7L120.5,449.9L114.2,448.1L107.9,446.3L101.7,444.4L95.4,442.6L89.2,440.8L83.0,439.0L76.7,437.1L70.5,435.3 M145.4,472.5L151.7,470.4L158.0,468.3L164.3,466.2L170.6,464.2L176.9,462.1L183.2,460.0L189.4,457.9L195.7,455.8L202.0,453.8L208.3,451.7L214.6,449.6L220.9,447.5L227.2,445.4L233.5,443.3L239.8,441.2L246.0,439.1L252.3,437.0L258.6,434.9L264.9,432.8L271.2,430.7 M202.0,469.0L195.7,467.3L189.4,465.6L183.1,463.8L176.9,462.1L170.6,460.3L164.3,458.6L158.0,456.8L151.8,455.0L145.5,453.3L139.2,451.5L133.0,449.7L126.7,447.9L120.5,446.1L114.2,444.3L108.0,442.5L101.7,440.7L95.5,438.9L89.2,437.1L83.0,435.3L76.7,433.5 M139.1,470.6L145.4,468.6L151.7,466.5L158.0,464.5L164.3,462.4L170.6,460.3L176.9,458.3L183.2,456.2L189.5,454.1L195.7,452.1L202.0,450.0L208.3,447.9L214.6,445.8L220.9,443.8L227.2,441.7L233.5,439.6L239.8,437.5L246.0,435.5L252.3,433.4L258.6,431.3L264.9,429.2 M208.3,466.9L202.0,465.2L195.7,463.5L189.4,461.7L183.2,460.0L176.9,458.3L170.6,456.5L164.3,454.8L158.1,453.0L151.8,451.3L145.5,449.5L139.3,447.7L133.0,446.0L126.7,444.2L120.5,442.4L114.2,440.6L108.0,438.8L101.7,437.0L95.5,435.2L89.2,433.4L83.0,431.6 M132.9,468.8L139.2,466.8L145.4,464.7L151.7,462.7L158.0,460.6L164.3,458.6L170.6,456.5L176.9,454.5L183.2,452.4L189.5,450.4L195.8,448.3L202.0,446.2L208.3,444.2L214.6,442.1L220.9,440.1L227.2,438.0L233.5,435.9L239.7,433.9L246.0,431.8L252.3,429.8L258.6,427.7 M214.6,464.8L208.3,463.1L202.0,461.4L195.7,459.6L189.4,457.9L183.2,456.2L176.9,454.5L170.6,452.7L164.3,451.0L158.1,449.3L151.8,447.5L145.5,445.8L139.3,444.0L133.0,442.2L126.8,440.5L120.5,438.7L114.2,436.9L108.0,435.2L101.7,433.4L95.5,431.6L89.2,429.8 M126.6,467.0L132.9,464.9L139.2,462.9L145.5,460.9L151.8,458.8L158.0,456.8L164.3,454.8L170.6,452.7L176.9,450.7L183.2,448.7L189.5,446.6L195.8,444.6L202.0,442.5L208.3,440.5L214.6,438.4L220.9,436.4L227.2,434.4L233.4,432.3L239.7,430.3L246.0,428.2L252.3,426.2 M220.9,462.6L214.6,460.9L208.3,459.2L202.0,457.5L195.7,455.8L189.5,454.1L183.2,452.4L176.9,450.7L170.6,449.0L164.4,447.2L158.1,445.5L151.8,443.8L145.6,442.0L139.3,440.3L133.0,438.5L126.8,436.8L120.5,435.0L114.3,433.3L108.0,431.5L101.7,429.7L95.5,428.0 M120.4,465.1L126.6,463.1L132.9,461.1L139.2,459.1L145.5,457.1L151.8,455.0L158.1,453.0L164.3,451.0L170.6,449.0L176.9,446.9L183.2,444.9L189.5,442.9L195.8,440.9L202.0,438.8L208.3,436.8L214.6,434.8L220.9,432.8L227.2,430.7L233.4,428.7L239.7,426.7L246.0,424.6 M227.2,460.5L220.9,458.8L214.6,457.1L208.3,455.4L202.0,453.8L195.7,452.1L189.5,450.4L183.2,448.7L176.9,446.9L170.6,445.2L164.4,443.5L158.1,441.8L151.8,440.1L145.6,438.3L139.3,436.6L133.0,434.9L126.8,433.1L120.5,431.4L114.3,429.6L108.0,427.9L101.7,426.1 M114.1,463.3L120.4,461.3L126.7,459.3L132.9,457.3L139.2,455.3L145.5,453.3L151.8,451.3L158.1,449.3L164.4,447.2L170.6,445.2L176.9,443.2L183.2,441.2L189.5,439.2L195.8,437.2L202.0,435.2L208.3,433.2L214.6,431.2L220.9,429.1L227.1,427.1L233.4,425.1L239.7,423.1 M233.5,458.3L227.2,456.7L220.9,455.0L214.6,453.3L208.3,451.7L202.0,450.0L195.8,448.3L189.5,446.6L183.2,444.9L176.9,443.2L170.6,441.5L164.4,439.8L158.1,438.1L151.8,436.4L145.6,434.7L139.3,433.0L133.0,431.2L126.8,429.5L120.5,427.8L114.3,426.0L108.0,424.3 M107.8,461.4L114.1,459.4L120.4,457.5L126.7,455.5L133.0,453.5L139.2,451.5L145.5,449.5L151.8,447.5L158.1,445.5L164.4,443.5L170.6,441.5L176.9,439.5L183.2,437.5L189.5,435.5L195.8,433.5L202.0,431.5L208.3,429.5L214.6,427.5L220.9,425.5L227.1,423.5L233.4,421.5 M239.8,456.2L233.5,454.5L227.2,452.9L220.9,451.2L214.6,449.6L208.3,447.9L202.0,446.2L195.8,444.6L189.5,442.9L183.2,441.2L176.9,439.5L170.6,437.8L164.4,436.2L158.1,434.5L151.8,432.8L145.6,431.1L139.3,429.3L133.0,427.6L126.8,425.9L120.5,424.2L114.3,422.5 M101.6,459.6L107.9,457.6L114.2,455.6L120.4,453.7L126.7,451.7L133.0,449.7L139.3,447.7L145.5,445.8L151.8,443.8L158.1,441.8L164.4,439.8L170.6,437.8L176.9,435.9L183.2,433.9L189.5,431.9L195.7,429.9L202.0,427.9L208.3,426.0L214.6,424.0L220.8,422.0L227.1,420.0 M246.1,454.0L239.8,452.4L233.5,450.8L227.2,449.1L220.9,447.5L214.6,445.8L208.3,444.2L202.0,442.5L195.8,440.9L189.5,439.2L183.2,437.5L176.9,435.9L170.6,434.2L164.4,432.5L158.1,430.8L151.8,429.1L145.6,427.4L139.3,425.8L133.0,424.1L126.8,422.3L120.5,420.6 M95.3,457.7L101.6,455.7L107.9,453.8L114.2,451.8L120.5,449.9L126.7,447.9L133.0,446.0L139.3,444.0L145.6,442.0L151.8,440.1L158.1,438.1L164.4,436.2L170.6,434.2L176.9,432.2L183.2,430.3L189.5,428.3L195.7,426.3L202.0,424.4L208.3,422.4L214.6,420.4L220.8,418.5 M252.4,451.9L246.1,450.3L239.8,448.7L233.5,447.0L227.2,445.4L220.9,443.8L214.6,442.1L208.3,440.5L202.0,438.8L195.8,437.2L189.5,435.5L183.2,433.9L176.9,432.2L170.6,430.6L164.4,428.9L158.1,427.2L151.8,425.5L145.6,423.9L139.3,422.2L133.0,420.5L126.8,418.8 M89.1,455.8L95.4,453.9L101.7,452.0L107.9,450.0L114.2,448.1L120.5,446.1L126.7,444.2L133.0,442.2L139.3,440.3L145.6,438.3L151.8,436.4L158.1,434.5L164.4,432.5L170.6,430.6L176.9,428.6L183.2,426.7L189.5,424.7L195.7,422.8L202.0,420.8L208.3,418.9L214.5,416.9 M258.6,449.7L252.4,448.1L246.1,446.5L239.8,444.9L233.5,443.3L227.2,441.7L220.9,440.1L214.6,438.4L208.3,436.8L202.0,435.2L195.8,433.5L189.5,431.9L183.2,430.3L176.9,428.6L170.6,427.0L164.4,425.3L158.1,423.7L151.8,422.0L145.6,420.3L139.3,418.7L133.0,417.0 M82.9,454.0L89.1,452.0L95.4,450.1L101.7,448.2L107.9,446.3L114.2,444.3L120.5,442.4L126.8,440.5L133.0,438.5L139.3,436.6L145.6,434.7L151.8,432.8L158.1,430.8L164.4,428.9L170.6,427.0L176.9,425.0L183.2,423.1L189.4,421.2L195.7,419.2L202.0,417.3L208.2,415.4 M264.9,447.6L258.6,446.0L252.3,444.4L246.1,442.8L239.8,441.2L233.5,439.6L227.2,438.0L220.9,436.4L214.6,434.8L208.3,433.2L202.0,431.5L195.7,429.9L189.5,428.3L183.2,426.7L176.9,425.0L170.6,423.4L164.4,421.8L158.1,420.1L151.8,418.5L145.5,416.8L139.3,415.2 M76.6,452.1L82.9,450.2L89.2,448.3L95.4,446.4L101.7,444.4L108.0,442.5L114.2,440.6L120.5,438.7L126.8,436.8L133.0,434.9L139.3,433.0L145.6,431.1L151.8,429.1L158.1,427.2L164.4,425.3L170.6,423.4L176.9,421.5L183.2,419.6L189.4,417.6L195.7,415.7L202.0,413.8 M271.2,445.4L264.9,443.9L258.6,442.3L252.3,440.7L246.0,439.1L239.8,437.5L233.5,435.9L227.2,434.4L220.9,432.8L214.6,431.2L208.3,429.5L202.0,427.9L195.7,426.3L189.5,424.7L183.2,423.1L176.9,421.5L170.6,419.9L164.3,418.2L158.1,416.6L151.8,415.0L145.5,413.3 M70.4,450.2L76.6,448.3L82.9,446.4L89.2,444.5L95.4,442.6L101.7,440.7L108.0,438.8L114.2,436.9L120.5,435.0L126.8,433.1L133.0,431.2L139.3,429.3L145.6,427.4L151.8,425.5L158.1,423.7L164.4,421.8L170.6,419.9L176.9,418.0L183.2,416.1L189.4,414.2L195.7,412.3 M277.5,443.3L271.2,441.7L264.9,440.2L258.6,438.6L252.3,437.0L246.0,435.5L239.7,433.9L233.4,432.3L227.2,430.7L220.9,429.1L214.6,427.5L208.3,426.0L202.0,424.4L195.7,422.8L189.4,421.2L183.2,419.6L176.9,418.0L170.6,416.3L164.3,414.7L158.1,413.1L151.8,411.5 M64.1,448.3L70.4,446.4L76.7,444.5L82.9,442.7L89.2,440.8L95.5,438.9L101.7,437.0L108.0,435.2L114.3,433.3L120.5,431.4L126.8,429.5L133.0,427.6L139.3,425.8L145.6,423.9L151.8,422.0L158.1,420.1L164.3,418.2L170.6,416.3L176.9,414.5L183.1,412.6L189.4,410.7 M283.8,441.1L277.5,439.6L271.2,438.0L264.9,436.5L258.6,434.9L252.3,433.4L246.0,431.8L239.7,430.3L233.4,428.7L227.1,427.1L220.9,425.5L214.6,424.0L208.3,422.4L202.0,420.8L195.7,419.2L189.4,417.6L183.2,416.1L176.9,414.5L170.6,412.9L164.3,411.3L158.0,409.7 M57.9,446.4L64.2,444.5L70.4,442.7L76.7,440.8L83.0,439.0L89.2,437.1L95.5,435.2L101.7,433.4L108.0,431.5L114.3,429.6L120.5,427.8L126.8,425.9L133.0,424.1L139.3,422.2L145.6,420.3L151.8,418.5L158.1,416.6L164.3,414.7L170.6,412.9L176.9,411.0L183.1,409.1 M290.1,439.0L283.8,437.4L277.5,435.9L271.2,434.4L264.9,432.8L258.6,431.3L252.3,429.8L246.0,428.2L239.7,426.7L233.4,425.1L227.1,423.5L220.8,422.0L214.6,420.4L208.3,418.9L202.0,417.3L195.7,415.7L189.4,414.2L183.1,412.6L176.9,411.0L170.6,409.4L164.3,407.8 M51.7,444.5L57.9,442.7L64.2,440.8L70.5,439.0L76.7,437.1L83.0,435.3L89.2,433.4L95.5,431.6L101.7,429.7L108.0,427.9L114.3,426.0L120.5,424.2L126.8,422.3L133.0,420.5L139.3,418.7L145.5,416.8L151.8,415.0L158.1,413.1L164.3,411.3L170.6,409.4L176.8,407.6 M296.4,436.8L290.1,435.3L283.8,433.8L277.5,432.3L271.2,430.7L264.9,429.2L258.6,427.7L252.3,426.2L246.0,424.6L239.7,423.1L233.4,421.5L227.1,420.0L220.8,418.5L214.5,416.9L208.2,415.4L202.0,413.8L195.7,412.3L189.4,410.7L183.1,409.1L176.8,407.6L170.6,406.0 M45.5,442.6L51.7,440.8L58.0,438.9L64.2,437.1L70.5,435.3L76.7,433.5L83.0,431.6L89.2,429.8L95.5,428.0L101.7,426.1L108.0,424.3L114.3,422.5L120.5,420.6L126.8,418.8L133.0,417.0L139.3,415.2L145.5,413.3L151.8,411.5L158.0,409.7L164.3,407.8L170.6,406.0" stroke="#1a1a1a" stroke-opacity="0.45" stroke-width="0.6" fill="none"/>
<text x="40.13" y="487.35" font-family="Liberation Sans" font-size="12.98" text-anchor="end" textLength="6.56" lengthAdjust="spacingAndGlyphs" fill="#2a2a2a">2</text>
<text x="38.63" y="455.83" font-family="Liberation Sans" font-size="12.98" text-anchor="end" textLength="16.40" lengthAdjust="spacingAndGlyphs" fill="#2a2a2a">2.5</text>
<text x="37.14" y="424.32" font-family="Liberation Sans" font-size="12.98" text-anchor="end" textLength="6.56" lengthAdjust="spacingAndGlyphs" fill="#2a2a2a">3</text>
<text x="35.65" y="392.81" font-family="Liberation Sans" font-size="12.98" text-anchor="end" textLength="16.40" lengthAdjust="spacingAndGlyphs" fill="#2a2a2a">3.5</text>
<text x="34.15" y="361.30" font-family="Liberation Sans" font-size="12.98" text-anchor="end" textLength="6.56" lengthAdjust="spacingAndGlyphs" fill="#2a2a2a">4</text>
<text x="177.96" y="602.46" font-family="Liberation Sans" font-size="12.98" textLength="6.56" lengthAdjust="spacingAndGlyphs" fill="#2a2a2a">0</text>
<text x="208.31" y="588.02" font-family="Liberation Sans" font-size="12.98" textLength="6.56" lengthAdjust="spacingAndGlyphs" fill="#2a2a2a">5</text>
<text x="238.67" y="573.58" font-family="Liberation Sans" font-size="12.98" textLength="13.12" lengthAdjust="spacingAndGlyphs" fill="#2a2a2a">10</text>
<text x="269.03" y="559.14" font-family="Liberation Sans" font-size="12.98" textLength="13.12" lengthAdjust="spacingAndGlyphs" fill="#2a2a2a">15</text>
<text x="299.38" y="544.70" font-family="Liberation Sans" font-size="12.98" textLength="13.12" lengthAdjust="spacingAndGlyphs" fill="#2a2a2a">20</text>
<text x="162.56" y="602.96" font-family="Liberation Sans" font-size="12.98" text-anchor="end" textLength="6.56" lengthAdjust="spacingAndGlyphs" fill="#2a2a2a">0</text>
<text x="138.39" y="591.39" font-family="Liberation Sans" font-size="12.98" text-anchor="end" textLength="13.12" lengthAdjust="spacingAndGlyphs" fill="#2a2a2a">20</text>
<text x="114.22" y="579.82" font-family="Liberation Sans" font-size="12.98" text-anchor="end" textLength="13.12" lengthAdjust="spacingAndGlyphs" fill="#2a2a2a">40</text>
<text x="90.06" y="568.25" font-family="Liberation Sans" font-size="12.98" text-anchor="end" textLength="13.12" lengthAdjust="spacingAndGlyphs" fill="#2a2a2a">60</text>
<text x="65.89" y="556.67" font-family="Liberation Sans" font-size="12.98" text-anchor="end" textLength="13.12" lengthAdjust="spacingAndGlyphs" fill="#2a2a2a">80</text>
<text x="41.72" y="545.10" font-family="Liberation Sans" font-size="12.98" text-anchor="end" textLength="19.69" lengthAdjust="spacingAndGlyphs" fill="#2a2a2a">100</text>
<text x="25.50" y="585.60" font-family="Liberation Sans" font-size="9.5" textLength="76.50" lengthAdjust="spacingAndGlyphs" fill="#2a2a2a">B: RCA (% by vol)</text>
<text x="241.10" y="586.00" font-family="Liberation Sans" font-size="9.5" textLength="73.70" lengthAdjust="spacingAndGlyphs" fill="#2a2a2a">A: LCB (% bwoc)</text>
<text x="6.70" y="338.20" font-family="Liberation Sans" font-size="8" textLength="29.00" lengthAdjust="spacingAndGlyphs" fill="#2a2a2a">2.20807</text>
<text x="73.60" y="338.20" font-family="Liberation Sans" font-size="8" textLength="24.40" lengthAdjust="spacingAndGlyphs" fill="#2a2a2a">3.4678</text>
<text x="8.00" y="473.20" font-family="Liberation Sans" font-size="9.5" textLength="88.40" lengthAdjust="spacingAndGlyphs" transform="rotate(-90 8.00 473.20)" fill="#2a2a2a">STS (MPa) - 58 days</text>
<rect x="39.7" y="329.2" width="30.20" height="11.70" fill="url(#cb)"/>
<text x="34.30" y="632.80" font-family="Liberation Serif" font-size="19.8" textLength="255.50" lengthAdjust="spacingAndGlyphs" fill="#000">(c) STS – 58 days (interpolated)</text>
<path d="M421.9,530.2L413.9,361.6 M451.2,479.1L446.6,354.1 M482.4,468.6L479.4,346.7 M513.6,458.1L512.1,339.3 M544.8,484.4L544.8,331.9 M668.1,530.4L676.2,362.0 M645.0,481.4L649.9,355.9 M619.9,472.9L623.6,349.9 M594.9,464.5L597.4,343.9 M569.8,456.1L571.1,337.9 M420.0,489.6L544.8,447.6 M544.8,447.6L670.0,489.8 M419.0,468.3L544.8,428.3 M544.8,428.3L671.1,468.5 M417.9,446.9L544.8,409.0 M544.8,409.0L672.1,447.2 M416.9,425.6L544.8,389.7 M544.8,389.7L673.1,425.9 M415.9,404.2L544.8,370.4 M544.8,370.4L674.1,404.6 M414.9,382.9L544.8,351.1 M544.8,351.1L675.2,383.3 M413.9,361.6L544.8,331.9 M544.8,331.9L676.2,362.0" stroke="#3a3a3a" stroke-width="0.85" fill="none"/>
<path d="M421.9,530.2L544.7,589.0L668.1,530.4L544.8,484.4Z" fill="#666466" stroke="#2a2a2a" stroke-width="0.8"/>
<path d="M428.5,532.8 L564.5,491.5" stroke="#b4cc30" stroke-width="1.25" fill="none"/>
<path d="M449.4,543.0 L590.1,500.4" stroke="#98c838" stroke-width="1.25" fill="none"/>
<path d="M472.2,553.6 L614.6,510.2" stroke="#88c83c" stroke-width="1.25" fill="none"/>
<path d="M496.9,565.0 L639.7,519.9" stroke="#78c440" stroke-width="1.25" fill="none"/>
<path d="M521.5,576.8 L665.1,529.0" stroke="#6cc040" stroke-width="1.25" fill="none"/>
<circle cx="544.70" cy="589.05" r="1.1" fill="#111"/><circle cx="575.55" cy="574.38" r="1.1" fill="#111"/><circle cx="606.40" cy="559.70" r="1.1" fill="#111"/><circle cx="637.25" cy="545.03" r="1.1" fill="#111"/><circle cx="668.10" cy="530.35" r="1.1" fill="#111"/><circle cx="544.70" cy="589.05" r="1.1" fill="#111"/><circle cx="520.14" cy="577.29" r="1.1" fill="#111"/><circle cx="495.58" cy="565.53" r="1.1" fill="#111"/><circle cx="471.02" cy="553.77" r="1.1" fill="#111"/><circle cx="446.46" cy="542.01" r="1.1" fill="#111"/><circle cx="421.90" cy="530.25" r="1.1" fill="#111"/><circle cx="419.97" cy="489.64" r="1.1" fill="#111"/><circle cx="418.96" cy="468.29" r="1.1" fill="#111"/><circle cx="417.95" cy="446.95" r="1.1" fill="#111"/><circle cx="416.94" cy="425.60" r="1.1" fill="#111"/><circle cx="415.92" cy="404.25" r="1.1" fill="#111"/><circle cx="414.91" cy="382.90" r="1.1" fill="#111"/><circle cx="413.90" cy="361.55" r="1.1" fill="#111"/>
<path d="M544.7,496.1L551.1,493.3L557.4,490.5L563.8,487.7L570.2,485.0L576.6,482.2L582.9,479.4L589.3,476.6L595.7,473.9L602.1,471.1L608.5,468.4L614.9,465.6L621.2,462.9L627.6,460.1L634.0,457.4L640.4,454.6L646.8,451.9L653.2,449.2L659.6,446.4L666.0,443.7L672.4,441.0L666.1,437.9L659.7,434.8L653.4,431.7L647.1,428.6L640.7,425.6L634.4,422.5L628.0,419.5L621.6,416.5L615.3,413.5L608.9,410.5L602.5,407.5L596.1,404.5L589.7,401.5L583.3,398.6L576.9,395.6L570.5,392.7L564.1,389.8L557.7,386.9L551.2,384.0L544.8,381.1L538.4,383.0L532.0,384.9L525.6,386.8L519.1,388.7L512.7,390.6L506.3,392.6L499.9,394.5L493.5,396.4L487.1,398.3L480.7,400.2L474.3,402.1L467.9,404.1L461.5,406.0L455.1,407.9L448.7,409.8L442.3,411.8L435.8,413.7L429.4,415.6L423.0,417.6L416.6,419.5L423.1,423.2L429.6,426.9L436.0,430.6L442.5,434.3L448.9,438.0L455.3,441.8L461.8,445.6L468.2,449.3L474.6,453.2L481.0,457.0L487.4,460.8L493.8,464.7L500.2,468.5L506.6,472.4L512.9,476.3L519.3,480.3L525.7,484.2L532.0,488.1L538.4,492.1Z" fill="#67c540"/>
<path d="M544.7,496.1L551.1,493.3 544.7,489.4 538.4,492.1ZM551.1,493.3L557.4,490.5 551.1,486.6 544.7,489.4Z" fill="#64c24d"/>
<path d="M538.4,492.1L544.7,489.4 538.4,485.4 532.0,488.1ZM570.2,485.0L576.6,482.2 570.2,478.4 563.9,481.1ZM576.6,482.2L582.9,479.4 576.6,475.7 570.2,478.4Z" fill="#65c34c"/>
<path d="M532.0,488.1L538.4,485.4 532.0,481.5 525.7,484.2ZM544.7,489.4L551.1,486.6 544.8,482.7 538.4,485.4ZM551.1,486.6L557.5,483.9 551.1,480.0 544.8,482.7ZM557.5,483.9L563.9,481.1 557.5,477.4 551.1,480.0ZM563.9,481.1L570.2,478.4 563.9,474.7 557.5,477.4ZM582.9,479.4L589.3,476.6 583.0,473.0 576.6,475.7ZM589.3,476.6L595.7,473.9 589.4,470.2 583.0,473.0ZM595.7,473.9L602.1,471.1 595.8,467.5 589.4,470.2ZM602.1,471.1L608.5,468.4 602.1,464.8 595.8,467.5Z" fill="#65c34b"/>
<path d="M525.7,484.2L532.0,481.5 525.7,477.6 519.3,480.3ZM532.0,481.5L538.4,478.9 532.1,475.0 525.7,477.6ZM538.4,478.9L544.8,476.2 538.4,472.4 532.1,475.0ZM544.8,476.2L551.2,473.6 544.8,469.8 538.4,472.4ZM563.9,474.7L570.3,472.0 563.9,468.3 557.5,470.9ZM570.3,472.0L576.7,469.3 570.3,465.7 563.9,468.3ZM576.7,469.3L583.0,466.6 576.7,463.0 570.3,465.7ZM583.0,466.6L589.4,464.0 583.1,460.4 576.7,463.0ZM595.8,467.5L602.1,464.8 595.8,461.3 589.4,464.0ZM602.1,464.8L608.5,462.1 602.2,458.6 595.8,461.3ZM608.5,462.1L614.9,459.4 608.6,456.0 602.2,458.6ZM614.9,459.4L621.3,456.7 615.0,453.3 608.6,456.0ZM627.6,460.1L634.0,457.4 627.7,454.0 621.3,456.7ZM634.0,457.4L640.4,454.6 634.1,451.3 627.7,454.0ZM640.4,454.6L646.8,451.9 640.5,448.6 634.1,451.3ZM646.8,451.9L653.2,449.2 646.9,445.9 640.5,448.6Z" fill="#65c349"/>
<path d="M519.3,480.3L525.7,477.6 519.3,473.8 512.9,476.3ZM525.7,477.6L532.1,475.0 525.7,471.2 519.3,473.8ZM551.2,473.6L557.5,470.9 551.2,467.2 544.8,469.8ZM557.5,470.9L563.9,468.3 557.6,464.6 551.2,467.2ZM589.4,464.0L595.8,461.3 589.5,457.8 583.1,460.4ZM595.8,461.3L602.2,458.6 595.9,455.2 589.5,457.8ZM621.3,456.7L627.7,454.0 621.4,450.6 615.0,453.3ZM627.7,454.0L634.1,451.3 627.8,448.0 621.4,450.6ZM653.2,449.2L659.6,446.4 653.3,443.2 646.9,445.9ZM659.6,446.4L666.0,443.7 659.7,440.6 653.3,443.2Z" fill="#65c348"/>
<path d="M512.9,476.3L519.3,473.8 512.9,469.9 506.6,472.4ZM519.3,473.8L525.7,471.2 519.3,467.4 512.9,469.9ZM525.7,471.2L532.1,468.6 525.7,464.9 519.3,467.4ZM544.8,469.8L551.2,467.2 544.8,463.5 538.4,466.1ZM551.2,467.2L557.6,464.6 551.2,461.0 544.8,463.5ZM557.6,464.6L564.0,462.0 557.6,458.4 551.2,461.0ZM564.0,462.0L570.3,459.4 564.0,455.9 557.6,458.4ZM576.7,463.0L583.1,460.4 576.7,456.9 570.3,459.4ZM583.1,460.4L589.5,457.8 583.1,454.3 576.7,456.9ZM589.5,457.8L595.9,455.2 589.5,451.7 583.1,454.3ZM595.9,455.2L602.2,452.5 595.9,449.1 589.5,451.7ZM602.2,452.5L608.6,449.9 602.3,446.6 595.9,449.1ZM615.0,453.3L621.4,450.6 615.0,447.3 608.6,449.9ZM621.4,450.6L627.8,448.0 621.4,444.7 615.0,447.3ZM627.8,448.0L634.2,445.4 627.8,442.1 621.4,444.7ZM634.2,445.4L640.5,442.7 634.2,439.5 627.8,442.1ZM646.9,445.9L653.3,443.2 646.9,440.1 640.5,442.7ZM653.3,443.2L659.7,440.6 653.3,437.4 646.9,440.1ZM659.7,440.6L666.1,437.9 659.7,434.8 653.3,437.4Z" fill="#66c447"/>
<path d="M506.6,472.4L512.9,469.9 506.6,466.1 500.2,468.5ZM512.9,469.9L519.3,467.4 512.9,463.6 506.6,466.1ZM519.3,467.4L525.7,464.9 519.3,461.1 512.9,463.6ZM532.1,468.6L538.4,466.1 532.1,462.3 525.7,464.9ZM538.4,466.1L544.8,463.5 538.5,459.8 532.1,462.3ZM544.8,463.5L551.2,461.0 544.8,457.3 538.5,459.8ZM551.2,461.0L557.6,458.4 551.2,454.8 544.8,457.3ZM557.6,458.4L564.0,455.9 557.6,452.3 551.2,454.8ZM570.3,459.4L576.7,456.9 570.4,453.3 564.0,455.9ZM576.7,456.9L583.1,454.3 576.8,450.8 570.4,453.3ZM583.1,454.3L589.5,451.7 583.1,448.3 576.8,450.8ZM589.5,451.7L595.9,449.1 589.5,445.7 583.1,448.3ZM608.6,449.9L615.0,447.3 608.7,444.0 602.3,446.6ZM615.0,447.3L621.4,444.7 615.1,441.4 608.7,444.0ZM621.4,444.7L627.8,442.1 621.5,438.9 615.1,441.4ZM627.8,442.1L634.2,439.5 627.9,436.3 621.5,438.9ZM640.5,442.7L646.9,440.1 640.6,436.9 634.2,439.5ZM646.9,440.1L653.3,437.4 647.0,434.3 640.6,436.9ZM653.3,437.4L659.7,434.8 653.4,431.7 647.0,434.3Z" fill="#66c446"/>
<path d="M500.2,468.5L506.6,466.1 500.2,462.2 493.8,464.7ZM506.6,466.1L512.9,463.6 506.6,459.8 500.2,462.2ZM525.7,464.9L532.1,462.3 525.7,458.6 519.3,461.1ZM532.1,462.3L538.5,459.8 532.1,456.2 525.7,458.6ZM538.5,459.8L544.8,457.3 538.5,453.7 532.1,456.2ZM544.8,457.3L551.2,454.8 544.9,451.2 538.5,453.7ZM564.0,455.9L570.4,453.3 564.0,449.8 557.6,452.3ZM570.4,453.3L576.8,450.8 570.4,447.3 564.0,449.8ZM576.8,450.8L583.1,448.3 576.8,444.8 570.4,447.3ZM583.1,448.3L589.5,445.7 583.2,442.3 576.8,444.8ZM595.9,449.1L602.3,446.6 595.9,443.2 589.5,445.7ZM602.3,446.6L608.7,444.0 602.3,440.7 595.9,443.2ZM608.7,444.0L615.1,441.4 608.7,438.2 602.3,440.7ZM615.1,441.4L621.5,438.9 615.1,435.6 608.7,438.2ZM634.2,439.5L640.6,436.9 634.3,433.7 627.9,436.3ZM640.6,436.9L647.0,434.3 640.7,431.2 634.3,433.7ZM647.0,434.3L653.4,431.7 647.1,428.6 640.7,431.2Z" fill="#66c445"/>
<path d="M493.8,464.7L500.2,462.2 493.8,458.4 487.4,460.8ZM500.2,462.2L506.6,459.8 500.2,456.0 493.8,458.4ZM525.7,458.6L532.1,456.2 525.7,452.5 519.3,454.9ZM532.1,456.2L538.5,453.7 532.1,450.1 525.7,452.5ZM538.5,453.7L544.9,451.2 538.5,447.7 532.1,450.1ZM564.0,449.8L570.4,447.3 564.0,443.9 557.6,446.3ZM570.4,447.3L576.8,444.8 570.4,441.4 564.0,443.9ZM576.8,444.8L583.2,442.3 576.8,439.0 570.4,441.4ZM602.3,440.7L608.7,438.2 602.4,434.9 596.0,437.4ZM608.7,438.2L615.1,435.6 608.8,432.4 602.4,434.9ZM634.3,433.7L640.7,431.2 634.3,428.1 627.9,430.6ZM640.7,431.2L647.1,428.6 640.7,425.6 634.3,428.1Z" fill="#67c544"/>
<path d="M487.4,460.8L493.8,458.4 487.4,454.6 481.0,457.0ZM506.6,459.8L512.9,457.4 506.6,453.6 500.2,456.0ZM512.9,457.4L519.3,454.9 512.9,451.3 506.6,453.6ZM519.3,454.9L525.7,452.5 519.3,448.9 512.9,451.3ZM525.7,452.5L532.1,450.1 525.7,446.5 519.3,448.9ZM544.9,451.2L551.2,448.8 544.9,445.3 538.5,447.7ZM551.2,448.8L557.6,446.3 551.3,442.8 544.9,445.3ZM557.6,446.3L564.0,443.9 557.7,440.4 551.3,442.8ZM564.0,443.9L570.4,441.4 564.0,438.0 557.7,440.4ZM583.2,442.3L589.6,439.9 583.2,436.5 576.8,439.0ZM589.6,439.9L596.0,437.4 589.6,434.1 583.2,436.5ZM596.0,437.4L602.4,434.9 596.0,431.6 589.6,434.1ZM602.4,434.9L608.8,432.4 602.4,429.2 596.0,431.6ZM615.1,435.6L621.5,433.1 615.2,429.9 608.8,432.4ZM621.5,433.1L627.9,430.6 621.6,427.5 615.2,429.9ZM627.9,430.6L634.3,428.1 628.0,425.0 621.6,427.5ZM634.3,428.1L640.7,425.6 634.4,422.5 628.0,425.0Z" fill="#67c543"/>
<path d="M481.0,457.0L487.4,454.6 481.0,450.8 474.6,453.2ZM487.4,454.6L493.8,452.3 487.4,448.5 481.0,450.8ZM493.8,452.3L500.2,449.9 493.8,446.2 487.4,448.5ZM500.2,449.9L506.5,447.6 500.1,443.9 493.8,446.2ZM506.5,447.6L512.9,445.2 506.5,441.6 500.1,443.9ZM525.7,446.5L532.1,444.1 525.7,440.6 519.3,442.9ZM532.1,444.1L538.5,441.7 532.1,438.2 525.7,440.6ZM538.5,441.7L544.9,439.4 538.5,435.9 532.1,438.2ZM544.9,439.4L551.3,437.0 544.9,433.6 538.5,435.9ZM564.0,438.0L570.4,435.6 564.1,432.3 557.7,434.6ZM570.4,435.6L576.8,433.2 570.5,429.9 564.1,432.3ZM576.8,433.2L583.2,430.8 576.9,427.6 570.5,429.9ZM583.2,430.8L589.6,428.4 583.3,425.2 576.9,427.6ZM589.6,428.4L596.0,426.0 589.7,422.8 583.3,425.2ZM602.4,429.2L608.8,426.8 602.4,423.6 596.0,426.0ZM608.8,426.8L615.2,424.4 608.8,421.2 602.4,423.6ZM615.2,424.4L621.6,421.9 615.2,418.9 608.8,421.2ZM621.6,421.9L628.0,419.5 621.6,416.5 615.2,418.9Z" fill="#67c541"/>
<path d="M474.6,453.2L481.0,450.8 474.6,447.1 468.2,449.3ZM481.0,450.8L487.4,448.5 481.0,444.8 474.6,447.1ZM512.9,445.2L519.3,442.9 512.9,439.3 506.5,441.6ZM519.3,442.9L525.7,440.6 519.3,437.0 512.9,439.3ZM525.7,440.6L532.1,438.2 525.7,434.8 519.3,437.0ZM551.3,437.0L557.7,434.6 551.3,431.3 544.9,433.6ZM557.7,434.6L564.1,432.3 557.7,428.9 551.3,431.3ZM564.1,432.3L570.5,429.9 564.1,426.6 557.7,428.9ZM596.0,426.0L602.4,423.6 596.1,420.5 589.7,422.8ZM602.4,423.6L608.8,421.2 602.5,418.2 596.1,420.5Z" fill="#67c540"/>
<path d="M468.2,449.3L474.6,447.1 468.2,443.3 461.8,445.6ZM474.6,447.1L481.0,444.8 474.5,441.1 468.2,443.3ZM481.0,444.8L487.3,442.6 480.9,438.9 474.5,441.1ZM487.3,442.6L493.7,440.3 487.3,436.7 480.9,438.9ZM506.5,441.6L512.9,439.3 506.5,435.8 500.1,438.0ZM512.9,439.3L519.3,437.0 512.9,433.5 506.5,435.8ZM519.3,437.0L525.7,434.8 519.3,431.3 512.9,433.5ZM525.7,434.8L532.1,432.5 525.7,429.0 519.3,431.3ZM532.1,432.5L538.5,430.2 532.1,426.8 525.7,429.0ZM544.9,433.6L551.3,431.3 544.9,427.9 538.5,430.2ZM551.3,431.3L557.7,428.9 551.3,425.6 544.9,427.9ZM557.7,428.9L564.1,426.6 557.7,423.3 551.3,425.6ZM564.1,426.6L570.5,424.3 564.1,421.1 557.7,423.3ZM570.5,424.3L576.9,422.0 570.5,418.8 564.1,421.1ZM583.3,425.2L589.7,422.8 583.3,419.7 576.9,422.0ZM589.7,422.8L596.1,420.5 589.7,417.4 583.3,419.7ZM596.1,420.5L602.5,418.2 596.1,415.1 589.7,417.4ZM602.5,418.2L608.9,415.8 602.5,412.8 596.1,415.1ZM608.9,415.8L615.3,413.5 608.9,410.5 602.5,412.8Z" fill="#68c63f"/>
<path d="M461.8,445.6L468.2,443.3 461.7,439.6 455.3,441.8ZM493.7,440.3L500.1,438.0 493.7,434.5 487.3,436.7ZM500.1,438.0L506.5,435.8 500.1,432.3 493.7,434.5ZM506.5,435.8L512.9,433.5 506.5,430.0 500.1,432.3ZM538.5,430.2L544.9,427.9 538.5,424.6 532.1,426.8ZM544.9,427.9L551.3,425.6 544.9,422.3 538.5,424.6ZM551.3,425.6L557.7,423.3 551.3,420.1 544.9,422.3ZM576.9,422.0L583.3,419.7 576.9,416.5 570.5,418.8ZM583.3,419.7L589.7,417.4 583.3,414.3 576.9,416.5ZM589.7,417.4L596.1,415.1 589.7,412.0 583.3,414.3Z" fill="#68c63e"/>
<path d="M455.3,441.8L461.7,439.6 455.3,435.9 448.9,438.0ZM500.1,432.3L506.5,430.0 500.1,426.6 493.7,428.7ZM544.9,422.3L551.3,420.1 544.9,416.8 538.5,419.0Z" fill="#6fc63d"/>
<path d="M448.9,438.0L455.3,435.9 448.9,432.2 442.5,434.3ZM493.7,428.7L500.1,426.6 493.7,423.1 487.3,425.2ZM538.5,419.0L544.9,416.8 538.5,413.6 532.1,415.8ZM583.3,408.9L589.7,406.7 583.3,403.7 576.9,405.9Z" fill="#76c63c"/>
<path d="M442.5,434.3L448.9,432.2 442.4,428.5 436.0,430.6ZM493.7,423.1L500.1,421.0 493.6,417.6 487.2,419.6ZM538.5,413.6L544.9,411.4 538.5,408.3 532.1,410.4Z" fill="#7dc63b"/>
<path d="M436.0,430.6L442.4,428.5 436.0,424.8 429.6,426.9ZM532.1,410.4L538.5,408.3 532.1,405.1 525.7,407.2ZM576.9,400.7L583.3,398.6 576.9,395.6 570.5,397.7Z" fill="#85c739"/>
<path d="M429.6,426.9L436.0,424.8 429.5,421.2 423.1,423.2Z" fill="#90ca36"/>
<path d="M423.1,423.2L429.5,421.2 423.0,417.6 416.6,419.5Z" fill="#9bce34"/>
<path d="M538.4,485.4L544.8,482.7 538.4,478.9 532.0,481.5ZM544.8,482.7L551.1,480.0 544.8,476.2 538.4,478.9ZM551.1,480.0L557.5,477.4 551.2,473.6 544.8,476.2ZM557.5,477.4L563.9,474.7 557.5,470.9 551.2,473.6ZM570.2,478.4L576.6,475.7 570.3,472.0 563.9,474.7ZM576.6,475.7L583.0,473.0 576.7,469.3 570.3,472.0ZM583.0,473.0L589.4,470.2 583.0,466.6 576.7,469.3ZM589.4,470.2L595.8,467.5 589.4,464.0 583.0,466.6ZM608.5,468.4L614.9,465.6 608.5,462.1 602.1,464.8ZM614.9,465.6L621.2,462.9 614.9,459.4 608.5,462.1ZM621.2,462.9L627.6,460.1 621.3,456.7 614.9,459.4Z" fill="#65c34a"/>
<path d="M493.8,458.4L500.2,456.0 493.8,452.3 487.4,454.6ZM500.2,456.0L506.6,453.6 500.2,449.9 493.8,452.3ZM506.6,453.6L512.9,451.3 506.5,447.6 500.2,449.9ZM512.9,451.3L519.3,448.9 512.9,445.2 506.5,447.6ZM519.3,448.9L525.7,446.5 519.3,442.9 512.9,445.2ZM532.1,450.1L538.5,447.7 532.1,444.1 525.7,446.5ZM538.5,447.7L544.9,445.3 538.5,441.7 532.1,444.1ZM544.9,445.3L551.3,442.8 544.9,439.4 538.5,441.7ZM551.3,442.8L557.7,440.4 551.3,437.0 544.9,439.4ZM557.7,440.4L564.0,438.0 557.7,434.6 551.3,437.0ZM570.4,441.4L576.8,439.0 570.4,435.6 564.0,438.0ZM576.8,439.0L583.2,436.5 576.8,433.2 570.4,435.6ZM583.2,436.5L589.6,434.1 583.2,430.8 576.8,433.2ZM589.6,434.1L596.0,431.6 589.6,428.4 583.2,430.8ZM596.0,431.6L602.4,429.2 596.0,426.0 589.6,428.4ZM608.8,432.4L615.2,429.9 608.8,426.8 602.4,429.2ZM615.2,429.9L621.6,427.5 615.2,424.4 608.8,426.8ZM621.6,427.5L628.0,425.0 621.6,421.9 615.2,424.4ZM628.0,425.0L634.4,422.5 628.0,419.5 621.6,421.9Z" fill="#67c542"/>
<path d="M468.2,443.3L474.5,441.1 468.1,437.4 461.7,439.6ZM512.9,433.5L519.3,431.3 512.9,427.8 506.5,430.0ZM596.1,415.1L602.5,412.8 596.1,409.7 589.7,412.0Z" fill="#69c63e"/>
<path d="M461.7,439.6L468.1,437.4 461.7,433.8 455.3,435.9ZM506.5,430.0L512.9,427.8 506.5,424.4 500.1,426.6ZM551.3,420.1L557.7,417.9 551.3,414.6 544.9,416.8ZM589.7,412.0L596.1,409.7 589.7,406.7 583.3,408.9Z" fill="#70c63d"/>
<path d="M455.3,435.9L461.7,433.8 455.3,430.1 448.9,432.2ZM500.1,426.6L506.5,424.4 500.1,421.0 493.7,423.1ZM544.9,416.8L551.3,414.6 544.9,411.4 538.5,413.6ZM589.7,406.7L596.1,404.5 589.7,401.5 583.3,403.7Z" fill="#77c63c"/>
<path d="M448.9,432.2L455.3,430.1 448.8,426.5 442.4,428.5ZM544.9,411.4L551.3,409.3 544.9,406.2 538.5,408.3ZM583.3,403.7L589.7,401.5 583.3,398.6 576.9,400.7Z" fill="#7ec63b"/>
<path d="M442.4,428.5L448.8,426.5 442.4,422.8 436.0,424.8Z" fill="#87c739"/>
<path d="M436.0,424.8L442.4,422.8 435.9,419.2 429.5,421.2ZM487.2,414.2L493.6,412.1 487.2,408.8 480.8,410.8ZM538.5,403.0L544.9,401.0 538.4,397.9 532.0,399.9Z" fill="#92cb36"/>
<path d="M429.5,421.2L435.9,419.2 429.4,415.6 423.0,417.6ZM487.2,408.8L493.6,406.8 487.1,403.5 480.7,405.5Z" fill="#9dce33"/>
<path d="M557.4,490.5L563.8,487.7 557.5,483.9 551.1,486.6ZM563.8,487.7L570.2,485.0 563.9,481.1 557.5,483.9Z" fill="#64c24c"/>
<path d="M532.1,475.0L538.4,472.4 532.1,468.6 525.7,471.2ZM538.4,472.4L544.8,469.8 538.4,466.1 532.1,468.6ZM563.9,468.3L570.3,465.7 564.0,462.0 557.6,464.6ZM570.3,465.7L576.7,463.0 570.3,459.4 564.0,462.0ZM602.2,458.6L608.6,456.0 602.2,452.5 595.9,455.2ZM608.6,456.0L615.0,453.3 608.6,449.9 602.2,452.5ZM634.1,451.3L640.5,448.6 634.2,445.4 627.8,448.0ZM640.5,448.6L646.9,445.9 640.5,442.7 634.2,445.4ZM666.0,443.7L672.4,441.0 666.1,437.9 659.7,440.6Z" fill="#66c448"/>
<path d="M512.9,463.6L519.3,461.1 512.9,457.4 506.6,459.8ZM519.3,461.1L525.7,458.6 519.3,454.9 512.9,457.4ZM551.2,454.8L557.6,452.3 551.2,448.8 544.9,451.2ZM557.6,452.3L564.0,449.8 557.6,446.3 551.2,448.8ZM589.5,445.7L595.9,443.2 589.6,439.9 583.2,442.3ZM595.9,443.2L602.3,440.7 596.0,437.4 589.6,439.9ZM621.5,438.9L627.9,436.3 621.5,433.1 615.1,435.6ZM627.9,436.3L634.3,433.7 627.9,430.6 621.5,433.1Z" fill="#66c444"/>
<path d="M487.4,448.5L493.8,446.2 487.3,442.6 481.0,444.8ZM493.8,446.2L500.1,443.9 493.7,440.3 487.3,442.6ZM500.1,443.9L506.5,441.6 500.1,438.0 493.7,440.3ZM532.1,438.2L538.5,435.9 532.1,432.5 525.7,434.8ZM538.5,435.9L544.9,433.6 538.5,430.2 532.1,432.5ZM570.5,429.9L576.9,427.6 570.5,424.3 564.1,426.6ZM576.9,427.6L583.3,425.2 576.9,422.0 570.5,424.3ZM608.8,421.2L615.2,418.9 608.9,415.8 602.5,418.2ZM615.2,418.9L621.6,416.5 615.3,413.5 608.9,415.8Z" fill="#68c640"/>
<path d="M474.5,441.1L480.9,438.9 474.5,435.2 468.1,437.4ZM519.3,431.3L525.7,429.0 519.3,425.6 512.9,427.8ZM557.7,423.3L564.1,421.1 557.7,417.9 551.3,420.1Z" fill="#6ac63e"/>
<path d="M468.1,437.4L474.5,435.2 468.1,431.6 461.7,433.8ZM512.9,427.8L519.3,425.6 512.9,422.2 506.5,424.4ZM557.7,417.9L564.1,415.6 557.7,412.5 551.3,414.6ZM596.1,409.7L602.5,407.5 596.1,404.5 589.7,406.7Z" fill="#71c63d"/>
<path d="M461.7,433.8L468.1,431.6 461.7,428.0 455.3,430.1ZM506.5,424.4L512.9,422.2 506.5,418.8 500.1,421.0ZM551.3,414.6L557.7,412.5 551.3,409.3 544.9,411.4Z" fill="#78c63c"/>
<path d="M455.3,430.1L461.7,428.0 455.2,424.4 448.8,426.5ZM551.3,409.3L557.7,407.1 551.3,404.0 544.9,406.2Z" fill="#7fc63a"/>
<path d="M448.8,426.5L455.2,424.4 448.8,420.8 442.4,422.8ZM544.9,406.2L551.3,404.0 544.9,401.0 538.5,403.0Z" fill="#88c838"/>
<path d="M442.4,422.8L448.8,420.8 442.3,417.2 435.9,419.2ZM493.6,412.1L500.0,410.1 493.6,406.8 487.2,408.8Z" fill="#93cb36"/>
<path d="M435.9,419.2L442.3,417.2 435.8,413.7 429.4,415.6ZM538.4,397.9L544.9,395.9 538.4,392.8 532.0,394.8Z" fill="#9ece33"/>
<path d="M480.9,438.9L487.3,436.7 480.9,433.1 474.5,435.2ZM525.7,429.0L532.1,426.8 525.7,423.4 519.3,425.6Z" fill="#6bc63d"/>
<path d="M474.5,435.2L480.9,433.1 474.5,429.5 468.1,431.6ZM519.3,425.6L525.7,423.4 519.3,420.1 512.9,422.2Z" fill="#72c63c"/>
<path d="M468.1,431.6L474.5,429.5 468.0,425.9 461.7,428.0ZM512.9,422.2L519.3,420.1 512.9,416.7 506.5,418.8ZM557.7,412.5L564.1,410.3 557.7,407.1 551.3,409.3Z" fill="#79c63b"/>
<path d="M461.7,428.0L468.0,425.9 461.6,422.3 455.2,424.4ZM506.5,418.8L512.9,416.7 506.4,413.4 500.0,415.5Z" fill="#80c63a"/>
<path d="M455.2,424.4L461.6,422.3 455.2,418.8 448.8,420.8ZM506.4,413.4L512.8,411.3 506.4,408.0 500.0,410.1ZM551.3,404.0L557.7,401.9 551.3,398.9 544.9,401.0Z" fill="#8ac838"/>
<path d="M448.8,420.8L455.2,418.8 448.7,415.3 442.3,417.2ZM500.0,410.1L506.4,408.0 500.0,404.8 493.6,406.8ZM551.3,398.9L557.7,396.8 551.3,393.8 544.9,395.9Z" fill="#95cc35"/>
<path d="M442.3,417.2L448.7,415.3 442.3,411.8 435.8,413.7ZM493.6,406.8L500.0,404.8 493.5,401.5 487.1,403.5ZM544.9,395.9L551.3,393.8 544.8,390.8 538.4,392.8Z" fill="#9fcf33"/>
<path d="M487.3,436.7L493.7,434.5 487.3,430.9 480.9,433.1ZM570.5,418.8L576.9,416.5 570.5,413.4 564.1,415.6Z" fill="#6cc63d"/>
<path d="M480.9,433.1L487.3,430.9 480.9,427.4 474.5,429.5ZM525.7,423.4L532.1,421.2 525.7,417.9 519.3,420.1ZM564.1,415.6L570.5,413.4 564.1,410.3 557.7,412.5Z" fill="#73c63c"/>
<path d="M474.5,429.5L480.9,427.4 474.4,423.8 468.0,425.9ZM519.3,420.1L525.7,417.9 519.3,414.6 512.9,416.7ZM564.1,410.3L570.5,408.1 564.1,405.0 557.7,407.1Z" fill="#7ac63b"/>
<path d="M468.0,425.9L474.4,423.8 468.0,420.3 461.6,422.3ZM512.9,416.7L519.3,414.6 512.8,411.3 506.4,413.4ZM557.7,407.1L564.1,405.0 557.7,401.9 551.3,404.0Z" fill="#81c63a"/>
<path d="M461.6,422.3L468.0,420.3 461.6,416.8 455.2,418.8ZM557.7,401.9L564.1,399.8 557.7,396.8 551.3,398.9Z" fill="#8bc938"/>
<path d="M455.2,418.8L461.6,416.8 455.1,413.3 448.7,415.3ZM506.4,408.0L512.8,406.0 506.4,402.8 500.0,404.8Z" fill="#96cc35"/>
<path d="M448.7,415.3L455.1,413.3 448.7,409.8 442.3,411.8ZM551.3,393.8L557.7,391.8 551.3,388.9 544.8,390.8Z" fill="#a1cf32"/>
<path d="M493.7,434.5L500.1,432.3 493.7,428.7 487.3,430.9ZM538.5,424.6L544.9,422.3 538.5,419.0 532.1,421.2ZM583.3,414.3L589.7,412.0 583.3,408.9 576.9,411.2Z" fill="#6ec63d"/>
<path d="M487.3,430.9L493.7,428.7 487.3,425.2 480.9,427.4ZM576.9,411.2L583.3,408.9 576.9,405.9 570.5,408.1Z" fill="#75c63c"/>
<path d="M480.9,427.4L487.3,425.2 480.8,421.7 474.4,423.8ZM525.7,417.9L532.1,415.8 525.7,412.5 519.3,414.6ZM570.5,408.1L576.9,405.9 570.5,402.9 564.1,405.0Z" fill="#7bc63b"/>
<path d="M474.4,423.8L480.8,421.7 474.4,418.3 468.0,420.3ZM519.3,414.6L525.7,412.5 519.2,409.2 512.8,411.3ZM564.1,405.0L570.5,402.9 564.1,399.8 557.7,401.9Z" fill="#82c63a"/>
<path d="M468.0,420.3L474.4,418.3 468.0,414.8 461.6,416.8ZM519.2,409.2L525.7,407.2 519.2,404.0 512.8,406.0ZM564.1,399.8L570.5,397.7 564.1,394.8 557.7,396.8Z" fill="#8dc937"/>
<path d="M461.6,416.8L468.0,414.8 461.5,411.3 455.1,413.3ZM512.8,406.0L519.2,404.0 512.8,400.8 506.4,402.8Z" fill="#98cc35"/>
<path d="M455.1,413.3L461.5,411.3 455.1,407.9 448.7,409.8ZM506.4,402.8L512.8,400.8 506.4,397.6 499.9,399.6ZM557.7,391.8L564.1,389.8 557.7,386.9 551.3,388.9Z" fill="#a2d032"/>
<path d="M487.3,425.2L493.7,423.1 487.2,419.6 480.8,421.7ZM532.1,415.8L538.5,413.6 532.1,410.4 525.7,412.5ZM576.9,405.9L583.3,403.7 576.9,400.7 570.5,402.9Z" fill="#7cc63b"/>
<path d="M480.8,421.7L487.2,419.6 480.8,416.2 474.4,418.3Z" fill="#84c73a"/>
<path d="M474.4,418.3L480.8,416.2 474.4,412.8 468.0,414.8Z" fill="#8eca37"/>
<path d="M468.0,414.8L474.4,412.8 467.9,409.4 461.5,411.3ZM519.2,404.0L525.6,401.9 519.2,398.8 512.8,400.8Z" fill="#99cd34"/>
<path d="M461.5,411.3L467.9,409.4 461.5,406.0 455.1,407.9Z" fill="#a4d032"/>
<path d="M487.2,419.6L493.6,417.6 487.2,414.2 480.8,416.2ZM538.5,408.3L544.9,406.2 538.5,403.0 532.1,405.1Z" fill="#86c739"/>
<path d="M480.8,416.2L487.2,414.2 480.8,410.8 474.4,412.8Z" fill="#90ca37"/>
<path d="M474.4,412.8L480.8,410.8 474.3,407.4 467.9,409.4Z" fill="#9acd34"/>
<path d="M467.9,409.4L474.3,407.4 467.9,404.1 461.5,406.0ZM519.2,398.8L525.6,396.8 519.2,393.7 512.8,395.7Z" fill="#a5d031"/>
<path d="M500.1,421.0L506.5,418.8 500.0,415.5 493.6,417.6Z" fill="#7fc63b"/>
<path d="M493.6,417.6L500.0,415.5 493.6,412.1 487.2,414.2Z" fill="#87c839"/>
<path d="M480.8,410.8L487.2,408.8 480.7,405.5 474.3,407.4Z" fill="#9cce34"/>
<path d="M474.3,407.4L480.7,405.5 474.3,402.1 467.9,404.1ZM525.6,396.8L532.0,394.8 525.6,391.8 519.2,393.7Z" fill="#a6d131"/>
<path d="M500.0,415.5L506.4,413.4 500.0,410.1 493.6,412.1Z" fill="#89c838"/>
<path d="M480.7,405.5L487.1,403.5 480.7,400.2 474.3,402.1ZM532.0,394.8L538.4,392.8 532.0,389.8 525.6,391.8Z" fill="#a8d131"/>
<path d="M532.1,426.8L538.5,424.6 532.1,421.2 525.7,423.4ZM576.9,416.5L583.3,414.3 576.9,411.2 570.5,413.4Z" fill="#6dc63d"/>
<path d="M487.1,403.5L493.5,401.5 487.1,398.3 480.7,400.2ZM538.4,392.8L544.8,390.8 538.4,387.9 532.0,389.8Z" fill="#a9d230"/>
<path d="M532.1,421.2L538.5,419.0 532.1,415.8 525.7,417.9ZM570.5,413.4L576.9,411.2 570.5,408.1 564.1,410.3Z" fill="#74c63c"/>
<path d="M512.8,411.3L519.2,409.2 512.8,406.0 506.4,408.0Z" fill="#8cc938"/>
<path d="M500.0,404.8L506.4,402.8 499.9,399.6 493.5,401.5Z" fill="#a0cf32"/>
<path d="M493.5,401.5L499.9,399.6 493.5,396.4 487.1,398.3ZM544.8,390.8L551.3,388.9 544.8,385.9 538.4,387.9Z" fill="#abd230"/>
<path d="M525.7,412.5L532.1,410.4 525.7,407.2 519.2,409.2ZM570.5,402.9L576.9,400.7 570.5,397.7 564.1,399.8Z" fill="#83c63a"/>
<path d="M499.9,399.6L506.4,397.6 499.9,394.5 493.5,396.4ZM551.3,388.9L557.7,386.9 551.2,384.0 544.8,385.9Z" fill="#add32f"/>
<path d="M525.7,407.2L532.1,405.1 525.6,401.9 519.2,404.0ZM570.5,397.7L576.9,395.6 570.5,392.7 564.1,394.8Z" fill="#8fca37"/>
<path d="M512.8,400.8L519.2,398.8 512.8,395.7 506.4,397.6Z" fill="#a3d032"/>
<path d="M506.4,397.6L512.8,395.7 506.3,392.6 499.9,394.5Z" fill="#afd32f"/>
<path d="M564.1,421.1L570.5,418.8 564.1,415.6 557.7,417.9ZM602.5,412.8L608.9,410.5 602.5,407.5 596.1,409.7Z" fill="#6bc63e"/>
<path d="M532.1,405.1L538.5,403.0 532.0,399.9 525.6,401.9Z" fill="#91ca36"/>
<path d="M525.6,401.9L532.0,399.9 525.6,396.8 519.2,398.8Z" fill="#9bcd34"/>
<path d="M512.8,395.7L519.2,393.7 512.7,390.6 506.3,392.6Z" fill="#b1d32f"/>
<path d="M532.0,399.9L538.4,397.9 532.0,394.8 525.6,396.8Z" fill="#9cce33"/>
<path d="M519.2,393.7L525.6,391.8 519.1,388.7 512.7,390.6Z" fill="#b3d42e"/>
<path d="M544.9,401.0L551.3,398.9 544.9,395.9 538.4,397.9Z" fill="#94cb36"/>
<path d="M525.6,391.8L532.0,389.8 525.6,386.8 519.1,388.7Z" fill="#b4d42e"/>
<path d="M532.0,389.8L538.4,387.9 532.0,384.9 525.6,386.8Z" fill="#b6d52d"/>
<path d="M557.7,396.8L564.1,394.8 557.7,391.8 551.3,393.8Z" fill="#97cc35"/>
<path d="M538.4,387.9L544.8,385.9 538.4,383.0 532.0,384.9Z" fill="#b8d52d"/>
<path d="M564.1,394.8L570.5,392.7 564.1,389.8 557.7,391.8Z" fill="#98cd34"/>
<path d="M544.8,385.9L551.2,384.0 544.8,381.1 538.4,383.0Z" fill="#bad62c"/>
<path d="M544.7,496.1L538.4,492.1L532.0,488.1L525.7,484.2L519.3,480.3L512.9,476.3L506.6,472.4L500.2,468.5L493.8,464.7L487.4,460.8L481.0,457.0L474.6,453.2L468.2,449.3L461.8,445.6L455.3,441.8L448.9,438.0L442.5,434.3L436.0,430.6L429.6,426.9L423.1,423.2L416.6,419.5 M544.7,496.1L551.1,493.3L557.4,490.5L563.8,487.7L570.2,485.0L576.6,482.2L582.9,479.4L589.3,476.6L595.7,473.9L602.1,471.1L608.5,468.4L614.9,465.6L621.2,462.9L627.6,460.1L634.0,457.4L640.4,454.6L646.8,451.9L653.2,449.2L659.6,446.4L666.0,443.7L672.4,441.0 M551.1,493.3L544.7,489.4L538.4,485.4L532.0,481.5L525.7,477.6L519.3,473.8L512.9,469.9L506.6,466.1L500.2,462.2L493.8,458.4L487.4,454.6L481.0,450.8L474.6,447.1L468.2,443.3L461.7,439.6L455.3,435.9L448.9,432.2L442.4,428.5L436.0,424.8L429.5,421.2L423.0,417.6 M538.4,492.1L544.7,489.4L551.1,486.6L557.5,483.9L563.9,481.1L570.2,478.4L576.6,475.7L583.0,473.0L589.4,470.2L595.8,467.5L602.1,464.8L608.5,462.1L614.9,459.4L621.3,456.7L627.7,454.0L634.1,451.3L640.5,448.6L646.9,445.9L653.3,443.2L659.7,440.6L666.1,437.9 M557.4,490.5L551.1,486.6L544.8,482.7L538.4,478.9L532.1,475.0L525.7,471.2L519.3,467.4L512.9,463.6L506.6,459.8L500.2,456.0L493.8,452.3L487.4,448.5L481.0,444.8L474.5,441.1L468.1,437.4L461.7,433.8L455.3,430.1L448.8,426.5L442.4,422.8L435.9,419.2L429.4,415.6 M532.0,488.1L538.4,485.4L544.8,482.7L551.1,480.0L557.5,477.4L563.9,474.7L570.3,472.0L576.7,469.3L583.0,466.6L589.4,464.0L595.8,461.3L602.2,458.6L608.6,456.0L615.0,453.3L621.4,450.6L627.8,448.0L634.2,445.4L640.5,442.7L646.9,440.1L653.3,437.4L659.7,434.8 M563.8,487.7L557.5,483.9L551.1,480.0L544.8,476.2L538.4,472.4L532.1,468.6L525.7,464.9L519.3,461.1L512.9,457.4L506.6,453.6L500.2,449.9L493.8,446.2L487.3,442.6L480.9,438.9L474.5,435.2L468.1,431.6L461.7,428.0L455.2,424.4L448.8,420.8L442.3,417.2L435.8,413.7 M525.7,484.2L532.0,481.5L538.4,478.9L544.8,476.2L551.2,473.6L557.5,470.9L563.9,468.3L570.3,465.7L576.7,463.0L583.1,460.4L589.5,457.8L595.9,455.2L602.2,452.5L608.6,449.9L615.0,447.3L621.4,444.7L627.8,442.1L634.2,439.5L640.6,436.9L647.0,434.3L653.4,431.7 M570.2,485.0L563.9,481.1L557.5,477.4L551.2,473.6L544.8,469.8L538.4,466.1L532.1,462.3L525.7,458.6L519.3,454.9L512.9,451.3L506.5,447.6L500.1,443.9L493.7,440.3L487.3,436.7L480.9,433.1L474.5,429.5L468.0,425.9L461.6,422.3L455.2,418.8L448.7,415.3L442.3,411.8 M519.3,480.3L525.7,477.6L532.1,475.0L538.4,472.4L544.8,469.8L551.2,467.2L557.6,464.6L564.0,462.0L570.3,459.4L576.7,456.9L583.1,454.3L589.5,451.7L595.9,449.1L602.3,446.6L608.7,444.0L615.1,441.4L621.5,438.9L627.9,436.3L634.3,433.7L640.7,431.2L647.1,428.6 M576.6,482.2L570.2,478.4L563.9,474.7L557.5,470.9L551.2,467.2L544.8,463.5L538.5,459.8L532.1,456.2L525.7,452.5L519.3,448.9L512.9,445.2L506.5,441.6L500.1,438.0L493.7,434.5L487.3,430.9L480.9,427.4L474.4,423.8L468.0,420.3L461.6,416.8L455.1,413.3L448.7,409.8 M512.9,476.3L519.3,473.8L525.7,471.2L532.1,468.6L538.4,466.1L544.8,463.5L551.2,461.0L557.6,458.4L564.0,455.9L570.4,453.3L576.8,450.8L583.1,448.3L589.5,445.7L595.9,443.2L602.3,440.7L608.7,438.2L615.1,435.6L621.5,433.1L627.9,430.6L634.3,428.1L640.7,425.6 M582.9,479.4L576.6,475.7L570.3,472.0L563.9,468.3L557.6,464.6L551.2,461.0L544.8,457.3L538.5,453.7L532.1,450.1L525.7,446.5L519.3,442.9L512.9,439.3L506.5,435.8L500.1,432.3L493.7,428.7L487.3,425.2L480.8,421.7L474.4,418.3L468.0,414.8L461.5,411.3L455.1,407.9 M506.6,472.4L512.9,469.9L519.3,467.4L525.7,464.9L532.1,462.3L538.5,459.8L544.8,457.3L551.2,454.8L557.6,452.3L564.0,449.8L570.4,447.3L576.8,444.8L583.2,442.3L589.6,439.9L596.0,437.4L602.4,434.9L608.8,432.4L615.2,429.9L621.6,427.5L628.0,425.0L634.4,422.5 M589.3,476.6L583.0,473.0L576.7,469.3L570.3,465.7L564.0,462.0L557.6,458.4L551.2,454.8L544.9,451.2L538.5,447.7L532.1,444.1L525.7,440.6L519.3,437.0L512.9,433.5L506.5,430.0L500.1,426.6L493.7,423.1L487.2,419.6L480.8,416.2L474.4,412.8L467.9,409.4L461.5,406.0 M500.2,468.5L506.6,466.1L512.9,463.6L519.3,461.1L525.7,458.6L532.1,456.2L538.5,453.7L544.9,451.2L551.2,448.8L557.6,446.3L564.0,443.9L570.4,441.4L576.8,439.0L583.2,436.5L589.6,434.1L596.0,431.6L602.4,429.2L608.8,426.8L615.2,424.4L621.6,421.9L628.0,419.5 M595.7,473.9L589.4,470.2L583.0,466.6L576.7,463.0L570.3,459.4L564.0,455.9L557.6,452.3L551.2,448.8L544.9,445.3L538.5,441.7L532.1,438.2L525.7,434.8L519.3,431.3L512.9,427.8L506.5,424.4L500.1,421.0L493.6,417.6L487.2,414.2L480.8,410.8L474.3,407.4L467.9,404.1 M493.8,464.7L500.2,462.2L506.6,459.8L512.9,457.4L519.3,454.9L525.7,452.5L532.1,450.1L538.5,447.7L544.9,445.3L551.3,442.8L557.7,440.4L564.0,438.0L570.4,435.6L576.8,433.2L583.2,430.8L589.6,428.4L596.0,426.0L602.4,423.6L608.8,421.2L615.2,418.9L621.6,416.5 M602.1,471.1L595.8,467.5L589.4,464.0L583.1,460.4L576.7,456.9L570.4,453.3L564.0,449.8L557.6,446.3L551.3,442.8L544.9,439.4L538.5,435.9L532.1,432.5L525.7,429.0L519.3,425.6L512.9,422.2L506.5,418.8L500.0,415.5L493.6,412.1L487.2,408.8L480.7,405.5L474.3,402.1 M487.4,460.8L493.8,458.4L500.2,456.0L506.6,453.6L512.9,451.3L519.3,448.9L525.7,446.5L532.1,444.1L538.5,441.7L544.9,439.4L551.3,437.0L557.7,434.6L564.1,432.3L570.5,429.9L576.9,427.6L583.3,425.2L589.7,422.8L596.1,420.5L602.5,418.2L608.9,415.8L615.3,413.5 M608.5,468.4L602.1,464.8L595.8,461.3L589.5,457.8L583.1,454.3L576.8,450.8L570.4,447.3L564.0,443.9L557.7,440.4L551.3,437.0L544.9,433.6L538.5,430.2L532.1,426.8L525.7,423.4L519.3,420.1L512.9,416.7L506.4,413.4L500.0,410.1L493.6,406.8L487.1,403.5L480.7,400.2 M481.0,457.0L487.4,454.6L493.8,452.3L500.2,449.9L506.5,447.6L512.9,445.2L519.3,442.9L525.7,440.6L532.1,438.2L538.5,435.9L544.9,433.6L551.3,431.3L557.7,428.9L564.1,426.6L570.5,424.3L576.9,422.0L583.3,419.7L589.7,417.4L596.1,415.1L602.5,412.8L608.9,410.5 M614.9,465.6L608.5,462.1L602.2,458.6L595.9,455.2L589.5,451.7L583.1,448.3L576.8,444.8L570.4,441.4L564.0,438.0L557.7,434.6L551.3,431.3L544.9,427.9L538.5,424.6L532.1,421.2L525.7,417.9L519.3,414.6L512.8,411.3L506.4,408.0L500.0,404.8L493.5,401.5L487.1,398.3 M474.6,453.2L481.0,450.8L487.4,448.5L493.8,446.2L500.1,443.9L506.5,441.6L512.9,439.3L519.3,437.0L525.7,434.8L532.1,432.5L538.5,430.2L544.9,427.9L551.3,425.6L557.7,423.3L564.1,421.1L570.5,418.8L576.9,416.5L583.3,414.3L589.7,412.0L596.1,409.7L602.5,407.5 M621.2,462.9L614.9,459.4L608.6,456.0L602.2,452.5L595.9,449.1L589.5,445.7L583.2,442.3L576.8,439.0L570.4,435.6L564.1,432.3L557.7,428.9L551.3,425.6L544.9,422.3L538.5,419.0L532.1,415.8L525.7,412.5L519.2,409.2L512.8,406.0L506.4,402.8L499.9,399.6L493.5,396.4 M468.2,449.3L474.6,447.1L481.0,444.8L487.3,442.6L493.7,440.3L500.1,438.0L506.5,435.8L512.9,433.5L519.3,431.3L525.7,429.0L532.1,426.8L538.5,424.6L544.9,422.3L551.3,420.1L557.7,417.9L564.1,415.6L570.5,413.4L576.9,411.2L583.3,408.9L589.7,406.7L596.1,404.5 M627.6,460.1L621.3,456.7L615.0,453.3L608.6,449.9L602.3,446.6L595.9,443.2L589.6,439.9L583.2,436.5L576.8,433.2L570.5,429.9L564.1,426.6L557.7,423.3L551.3,420.1L544.9,416.8L538.5,413.6L532.1,410.4L525.7,407.2L519.2,404.0L512.8,400.8L506.4,397.6L499.9,394.5 M461.8,445.6L468.2,443.3L474.5,441.1L480.9,438.9L487.3,436.7L493.7,434.5L500.1,432.3L506.5,430.0L512.9,427.8L519.3,425.6L525.7,423.4L532.1,421.2L538.5,419.0L544.9,416.8L551.3,414.6L557.7,412.5L564.1,410.3L570.5,408.1L576.9,405.9L583.3,403.7L589.7,401.5 M634.0,457.4L627.7,454.0L621.4,450.6L615.0,447.3L608.7,444.0L602.3,440.7L596.0,437.4L589.6,434.1L583.2,430.8L576.9,427.6L570.5,424.3L564.1,421.1L557.7,417.9L551.3,414.6L544.9,411.4L538.5,408.3L532.1,405.1L525.6,401.9L519.2,398.8L512.8,395.7L506.3,392.6 M455.3,441.8L461.7,439.6L468.1,437.4L474.5,435.2L480.9,433.1L487.3,430.9L493.7,428.7L500.1,426.6L506.5,424.4L512.9,422.2L519.3,420.1L525.7,417.9L532.1,415.8L538.5,413.6L544.9,411.4L551.3,409.3L557.7,407.1L564.1,405.0L570.5,402.9L576.9,400.7L583.3,398.6 M640.4,454.6L634.1,451.3L627.8,448.0L621.4,444.7L615.1,441.4L608.7,438.2L602.4,434.9L596.0,431.6L589.6,428.4L583.3,425.2L576.9,422.0L570.5,418.8L564.1,415.6L557.7,412.5L551.3,409.3L544.9,406.2L538.5,403.0L532.0,399.9L525.6,396.8L519.2,393.7L512.7,390.6 M448.9,438.0L455.3,435.9L461.7,433.8L468.1,431.6L474.5,429.5L480.9,427.4L487.3,425.2L493.7,423.1L500.1,421.0L506.5,418.8L512.9,416.7L519.3,414.6L525.7,412.5L532.1,410.4L538.5,408.3L544.9,406.2L551.3,404.0L557.7,401.9L564.1,399.8L570.5,397.7L576.9,395.6 M646.8,451.9L640.5,448.6L634.2,445.4L627.8,442.1L621.5,438.9L615.1,435.6L608.8,432.4L602.4,429.2L596.0,426.0L589.7,422.8L583.3,419.7L576.9,416.5L570.5,413.4L564.1,410.3L557.7,407.1L551.3,404.0L544.9,401.0L538.4,397.9L532.0,394.8L525.6,391.8L519.1,388.7 M442.5,434.3L448.9,432.2L455.3,430.1L461.7,428.0L468.0,425.9L474.4,423.8L480.8,421.7L487.2,419.6L493.6,417.6L500.0,415.5L506.4,413.4L512.8,411.3L519.2,409.2L525.7,407.2L532.1,405.1L538.5,403.0L544.9,401.0L551.3,398.9L557.7,396.8L564.1,394.8L570.5,392.7 M653.2,449.2L646.9,445.9L640.5,442.7L634.2,439.5L627.9,436.3L621.5,433.1L615.2,429.9L608.8,426.8L602.4,423.6L596.1,420.5L589.7,417.4L583.3,414.3L576.9,411.2L570.5,408.1L564.1,405.0L557.7,401.9L551.3,398.9L544.9,395.9L538.4,392.8L532.0,389.8L525.6,386.8 M436.0,430.6L442.4,428.5L448.8,426.5L455.2,424.4L461.6,422.3L468.0,420.3L474.4,418.3L480.8,416.2L487.2,414.2L493.6,412.1L500.0,410.1L506.4,408.0L512.8,406.0L519.2,404.0L525.6,401.9L532.0,399.9L538.4,397.9L544.9,395.9L551.3,393.8L557.7,391.8L564.1,389.8 M659.6,446.4L653.3,443.2L646.9,440.1L640.6,436.9L634.3,433.7L627.9,430.6L621.6,427.5L615.2,424.4L608.8,421.2L602.5,418.2L596.1,415.1L589.7,412.0L583.3,408.9L576.9,405.9L570.5,402.9L564.1,399.8L557.7,396.8L551.3,393.8L544.8,390.8L538.4,387.9L532.0,384.9 M429.6,426.9L436.0,424.8L442.4,422.8L448.8,420.8L455.2,418.8L461.6,416.8L468.0,414.8L474.4,412.8L480.8,410.8L487.2,408.8L493.6,406.8L500.0,404.8L506.4,402.8L512.8,400.8L519.2,398.8L525.6,396.8L532.0,394.8L538.4,392.8L544.8,390.8L551.3,388.9L557.7,386.9 M666.0,443.7L659.7,440.6L653.3,437.4L647.0,434.3L640.7,431.2L634.3,428.1L628.0,425.0L621.6,421.9L615.2,418.9L608.9,415.8L602.5,412.8L596.1,409.7L589.7,406.7L583.3,403.7L576.9,400.7L570.5,397.7L564.1,394.8L557.7,391.8L551.3,388.9L544.8,385.9L538.4,383.0 M423.1,423.2L429.5,421.2L435.9,419.2L442.3,417.2L448.7,415.3L455.1,413.3L461.5,411.3L467.9,409.4L474.3,407.4L480.7,405.5L487.1,403.5L493.5,401.5L499.9,399.6L506.4,397.6L512.8,395.7L519.2,393.7L525.6,391.8L532.0,389.8L538.4,387.9L544.8,385.9L551.2,384.0 M672.4,441.0L666.1,437.9L659.7,434.8L653.4,431.7L647.1,428.6L640.7,425.6L634.4,422.5L628.0,419.5L621.6,416.5L615.3,413.5L608.9,410.5L602.5,407.5L596.1,404.5L589.7,401.5L583.3,398.6L576.9,395.6L570.5,392.7L564.1,389.8L557.7,386.9L551.2,384.0L544.8,381.1 M416.6,419.5L423.0,417.6L429.4,415.6L435.8,413.7L442.3,411.8L448.7,409.8L455.1,407.9L461.5,406.0L467.9,404.1L474.3,402.1L480.7,400.2L487.1,398.3L493.5,396.4L499.9,394.5L506.3,392.6L512.7,390.6L519.1,388.7L525.6,386.8L532.0,384.9L538.4,383.0L544.8,381.1" stroke="#1a1a1a" stroke-opacity="0.6" stroke-width="0.6" fill="none"/>
<text x="414.37" y="487.24" font-family="Liberation Sans" font-size="11.55" text-anchor="end" textLength="14.60" lengthAdjust="spacingAndGlyphs" fill="#2a2a2a">3.4</text>
<text x="413.36" y="465.89" font-family="Liberation Sans" font-size="11.55" text-anchor="end" textLength="14.60" lengthAdjust="spacingAndGlyphs" fill="#2a2a2a">3.6</text>
<text x="412.35" y="444.55" font-family="Liberation Sans" font-size="11.55" text-anchor="end" textLength="14.60" lengthAdjust="spacingAndGlyphs" fill="#2a2a2a">3.8</text>
<text x="411.34" y="423.20" font-family="Liberation Sans" font-size="11.55" text-anchor="end" textLength="5.84" lengthAdjust="spacingAndGlyphs" fill="#2a2a2a">4</text>
<text x="410.32" y="401.85" font-family="Liberation Sans" font-size="11.55" text-anchor="end" textLength="14.60" lengthAdjust="spacingAndGlyphs" fill="#2a2a2a">4.2</text>
<text x="409.31" y="380.50" font-family="Liberation Sans" font-size="11.55" text-anchor="end" textLength="14.60" lengthAdjust="spacingAndGlyphs" fill="#2a2a2a">4.4</text>
<text x="408.30" y="359.15" font-family="Liberation Sans" font-size="11.55" text-anchor="end" textLength="14.60" lengthAdjust="spacingAndGlyphs" fill="#2a2a2a">4.6</text>
<text x="550.90" y="601.85" font-family="Liberation Sans" font-size="11.55" textLength="5.84" lengthAdjust="spacingAndGlyphs" fill="#2a2a2a">0</text>
<text x="581.75" y="587.17" font-family="Liberation Sans" font-size="11.55" textLength="5.84" lengthAdjust="spacingAndGlyphs" fill="#2a2a2a">5</text>
<text x="612.60" y="572.50" font-family="Liberation Sans" font-size="11.55" textLength="11.68" lengthAdjust="spacingAndGlyphs" fill="#2a2a2a">10</text>
<text x="643.45" y="557.83" font-family="Liberation Sans" font-size="11.55" textLength="11.68" lengthAdjust="spacingAndGlyphs" fill="#2a2a2a">15</text>
<text x="674.30" y="543.15" font-family="Liberation Sans" font-size="11.55" textLength="11.68" lengthAdjust="spacingAndGlyphs" fill="#2a2a2a">20</text>
<text x="539.00" y="601.85" font-family="Liberation Sans" font-size="11.55" text-anchor="end" textLength="5.84" lengthAdjust="spacingAndGlyphs" fill="#2a2a2a">0</text>
<text x="514.44" y="590.09" font-family="Liberation Sans" font-size="11.55" text-anchor="end" textLength="11.68" lengthAdjust="spacingAndGlyphs" fill="#2a2a2a">20</text>
<text x="489.88" y="578.33" font-family="Liberation Sans" font-size="11.55" text-anchor="end" textLength="11.68" lengthAdjust="spacingAndGlyphs" fill="#2a2a2a">40</text>
<text x="465.32" y="566.57" font-family="Liberation Sans" font-size="11.55" text-anchor="end" textLength="11.68" lengthAdjust="spacingAndGlyphs" fill="#2a2a2a">60</text>
<text x="440.76" y="554.81" font-family="Liberation Sans" font-size="11.55" text-anchor="end" textLength="11.68" lengthAdjust="spacingAndGlyphs" fill="#2a2a2a">80</text>
<text x="416.20" y="543.05" font-family="Liberation Sans" font-size="11.55" text-anchor="end" textLength="17.52" lengthAdjust="spacingAndGlyphs" fill="#2a2a2a">100</text>
<text x="402.30" y="585.85" font-family="Liberation Sans" font-size="8.9" textLength="66.90" lengthAdjust="spacingAndGlyphs" fill="#2a2a2a">B: RCA (% by vol)</text>
<text x="622.00" y="586.25" font-family="Liberation Sans" font-size="8.9" textLength="63.20" lengthAdjust="spacingAndGlyphs" fill="#2a2a2a">A: LCB (% bwoc)</text>
<text x="374.40" y="337.00" font-family="Liberation Sans" font-size="7.3" textLength="14.00" lengthAdjust="spacingAndGlyphs" fill="#2a2a2a">3.45</text>
<text x="430.50" y="337.00" font-family="Liberation Sans" font-size="7.3" textLength="22.20" lengthAdjust="spacingAndGlyphs" fill="#2a2a2a">4.4025</text>
<text x="378.60" y="468.60" font-family="Liberation Sans" font-size="8.3" textLength="78.90" lengthAdjust="spacingAndGlyphs" transform="rotate(-90 378.60 468.60)" fill="#2a2a2a">Flex (MPa) - 60 days</text>
<rect x="399.5" y="328.4" width="28.00" height="11.20" fill="url(#cb)"/>
<text x="384.40" y="632.80" font-family="Liberation Serif" font-size="19.8" textLength="287.10" lengthAdjust="spacingAndGlyphs" fill="#000">(d) Flexural – 60 days (interpolated)</text>
<path d="M54.1,857.1L46.1,688.4 M83.4,806.0L78.8,681.0 M114.6,795.5L111.5,673.6 M145.8,785.0L144.3,666.1 M177.0,811.2L177.0,658.7 M300.3,857.2L308.4,688.8 M277.2,808.2L282.1,682.8 M252.1,799.8L255.8,676.8 M227.1,791.4L229.6,670.7 M202.0,782.9L203.3,664.7 M52.2,816.5L177.0,774.5 M177.0,774.5L302.2,816.7 M50.7,784.5L177.0,745.5 M177.0,745.5L303.8,784.7 M49.1,752.4L177.0,716.6 M177.0,716.6L305.3,752.7 M47.6,720.4L177.0,687.6 M177.0,687.6L306.9,720.8 M46.1,688.4L177.0,658.7 M177.0,658.7L308.4,688.8" stroke="#3a3a3a" stroke-width="0.85" fill="none"/>
<path d="M54.1,857.1L176.9,915.9L300.3,857.2L177.0,811.2Z" fill="#666466" stroke="#2a2a2a" stroke-width="0.8"/>
<path d="M81.7,847.5 Q93.0,864.0 103.5,881.0" stroke="#a8c830" stroke-width="1.25" fill="none"/>
<path d="M108.2,837.7 Q141.2,868.1 161.4,908.2" stroke="#d8d428" stroke-width="1.25" fill="none"/>
<path d="M132.8,828.5 C139.0,834.1 160.5,853.0 170.0,862.2 C179.5,871.4 184.4,876.8 190.0,883.7 C195.6,890.6 201.4,900.2 203.7,903.5" stroke="#f0d820" stroke-width="1.25" fill="none"/>
<path d="M157.3,818.9 Q201.4,848.5 238.5,886.7" stroke="#f0c020" stroke-width="1.25" fill="none"/>
<path d="M189.4,815.6 Q231.0,841.6 270.1,871.4" stroke="#f09020" stroke-width="1.25" fill="none"/>
<circle cx="176.90" cy="915.90" r="1.1" fill="#111"/><circle cx="207.75" cy="901.23" r="1.1" fill="#111"/><circle cx="238.60" cy="886.55" r="1.1" fill="#111"/><circle cx="269.45" cy="871.88" r="1.1" fill="#111"/><circle cx="300.30" cy="857.20" r="1.1" fill="#111"/><circle cx="176.90" cy="915.90" r="1.1" fill="#111"/><circle cx="152.34" cy="904.14" r="1.1" fill="#111"/><circle cx="127.78" cy="892.38" r="1.1" fill="#111"/><circle cx="103.22" cy="880.62" r="1.1" fill="#111"/><circle cx="78.66" cy="868.86" r="1.1" fill="#111"/><circle cx="54.10" cy="857.10" r="1.1" fill="#111"/><circle cx="52.17" cy="816.49" r="1.1" fill="#111"/><circle cx="50.66" cy="784.47" r="1.1" fill="#111"/><circle cx="49.14" cy="752.45" r="1.1" fill="#111"/><circle cx="47.62" cy="720.42" r="1.1" fill="#111"/><circle cx="46.10" cy="688.40" r="1.1" fill="#111"/>
<path d="M176.9,793.4L183.3,790.3L189.8,787.2L196.2,784.2L202.7,781.1L209.1,778.1L215.6,775.0L222.0,772.0L228.5,769.0L234.9,766.0L241.4,763.0L247.9,760.0L254.3,757.0L260.8,754.0L267.3,751.0L273.8,748.1L280.3,745.1L286.8,742.2L293.3,739.2L299.8,736.3L306.3,733.4L299.8,731.9L293.3,730.5L286.8,729.0L280.4,727.5L273.9,726.0L267.4,724.5L261.0,723.0L254.5,721.6L248.0,720.1L241.6,718.6L235.1,717.1L228.6,715.6L222.2,714.1L215.7,712.6L209.3,711.1L202.8,709.6L196.4,708.0L189.9,706.5L183.5,705.0L177.0,703.5L170.6,706.0L164.2,708.5L157.7,711.0L151.3,713.5L144.9,716.0L138.5,718.6L132.1,721.1L125.7,723.7L119.3,726.2L112.9,728.8L106.5,731.4L100.2,733.9L93.8,736.5L87.4,739.1L81.0,741.7L74.7,744.4L68.3,747.0L62.0,749.6L55.6,752.3L49.3,754.9L55.6,756.9L62.0,758.8L68.4,760.8L74.7,762.7L81.1,764.7L87.5,766.6L93.9,768.6L100.2,770.5L106.6,772.4L113.0,774.4L119.4,776.3L125.8,778.2L132.1,780.1L138.5,782.0L144.9,783.9L151.3,785.8L157.7,787.7L164.1,789.6L170.5,791.5Z" fill="#f6e31a"/>
<path d="M176.9,793.4L183.3,790.3 176.9,788.5 170.5,791.5ZM170.5,786.6L177.0,783.6 170.6,781.7 164.1,784.7ZM138.6,758.3L145.0,755.5 138.6,753.7 132.2,756.5Z" fill="#d7dc26"/>
<path d="M170.5,791.5L176.9,788.5 170.5,786.6 164.1,789.6Z" fill="#d2db27"/>
<path d="M164.1,789.6L170.5,786.6 164.1,784.7 157.7,787.7ZM132.2,761.1L138.6,758.3 132.2,756.5 125.8,759.2Z" fill="#cdda28"/>
<path d="M157.7,787.7L164.1,784.7 157.7,782.8 151.3,785.8ZM125.8,759.2L132.2,756.5 125.8,754.6 119.4,757.4ZM106.6,744.6L113.0,741.9 106.6,740.1 100.2,742.8Z" fill="#c8d929"/>
<path d="M151.3,785.8L157.7,782.8 151.3,781.0 144.9,783.9ZM119.4,757.4L125.8,754.6 119.4,752.8 113.0,755.5ZM100.2,742.8L106.6,740.1 100.2,738.3 93.8,741.0Z" fill="#c3d82a"/>
<path d="M144.9,783.9L151.3,781.0 144.9,779.1 138.5,782.0Z" fill="#bed62c"/>
<path d="M138.5,782.0L144.9,779.1 138.6,777.2 132.1,780.1Z" fill="#b9d52d"/>
<path d="M132.1,780.1L138.6,777.2 132.2,775.3 125.8,778.2Z" fill="#b4d42e"/>
<path d="M125.8,778.2L132.2,775.3 125.8,773.4 119.4,776.3Z" fill="#afd32f"/>
<path d="M119.4,776.3L125.8,773.4 119.4,771.5 113.0,774.4ZM93.8,754.5L100.2,751.8 93.8,750.0 87.5,752.7Z" fill="#aad230"/>
<path d="M113.0,774.4L119.4,771.5 113.0,769.6 106.6,772.4ZM106.6,767.7L113.0,764.9 106.6,763.0 100.2,765.8Z" fill="#a7d131"/>
<path d="M106.6,772.4L113.0,769.6 106.6,767.7 100.2,770.5ZM81.1,750.8L87.4,748.1 81.1,746.2 74.7,748.9Z" fill="#a3d032"/>
<path d="M100.2,770.5L106.6,767.7 100.2,765.8 93.9,768.6Z" fill="#9fcf33"/>
<path d="M93.9,768.6L100.2,765.8 93.9,763.8 87.5,766.6Z" fill="#9cce34"/>
<path d="M87.5,766.6L93.9,763.8 87.5,761.9 81.1,764.7Z" fill="#98cd34"/>
<path d="M81.1,764.7L87.5,761.9 81.1,760.0 74.7,762.7Z" fill="#95cc35"/>
<path d="M74.7,762.7L81.1,760.0 74.7,758.1 68.4,760.8Z" fill="#91cb36"/>
<path d="M68.4,760.8L74.7,758.1 68.3,756.1 62.0,758.8Z" fill="#8eca37"/>
<path d="M62.0,758.8L68.3,756.1 62.0,754.2 55.6,756.9Z" fill="#8ac838"/>
<path d="M55.6,756.9L62.0,754.2 55.6,752.3 49.3,754.9Z" fill="#87c739"/>
<path d="M183.3,790.3L189.8,787.2 183.4,785.4 176.9,788.5ZM177.0,783.6L183.4,780.5 177.0,778.7 170.6,781.7ZM151.4,761.9L157.8,759.1 151.4,757.3 145.0,760.1ZM112.9,733.1L119.3,730.5 112.9,728.8 106.5,731.4Z" fill="#dede24"/>
<path d="M176.9,788.5L183.4,785.4 177.0,783.6 170.5,786.6ZM170.6,781.7L177.0,778.7 170.6,776.9 164.2,779.8ZM145.0,760.1L151.4,757.3 145.0,755.5 138.6,758.3ZM125.8,745.5L132.2,742.8 125.8,741.1 119.4,743.7Z" fill="#dbdd25"/>
<path d="M164.1,784.7L170.6,781.7 164.2,779.8 157.7,782.8ZM157.8,778.0L164.2,775.0 157.8,773.2 151.4,776.1ZM132.2,756.5L138.6,753.7 132.2,751.9 125.8,754.6ZM113.0,741.9L119.4,739.3 113.0,737.5 106.6,740.1Z" fill="#d3db27"/>
<path d="M157.7,782.8L164.2,779.8 157.8,778.0 151.3,781.0Z" fill="#ceda28"/>
<path d="M151.3,781.0L157.8,778.0 151.4,776.1 144.9,779.1Z" fill="#c9d929"/>
<path d="M144.9,779.1L151.4,776.1 145.0,774.3 138.6,777.2Z" fill="#c4d82a"/>
<path d="M138.6,777.2L145.0,774.3 138.6,772.4 132.2,775.3ZM113.0,755.5L119.4,752.8 113.0,751.0 106.6,753.7ZM93.8,741.0L100.2,738.3 93.8,736.5 87.4,739.1Z" fill="#bfd72b"/>
<path d="M132.2,775.3L138.6,772.4 132.2,770.5 125.8,773.4ZM106.6,753.7L113.0,751.0 106.6,749.1 100.2,751.8Z" fill="#bad62c"/>
<path d="M125.8,773.4L132.2,770.5 125.8,768.6 119.4,771.5Z" fill="#b5d42e"/>
<path d="M119.4,771.5L125.8,768.6 119.4,766.7 113.0,769.6Z" fill="#b0d32f"/>
<path d="M113.0,769.6L119.4,766.7 113.0,764.9 106.6,767.7Z" fill="#abd230"/>
<path d="M100.2,765.8L106.6,763.0 100.2,761.1 93.9,763.8Z" fill="#a4d032"/>
<path d="M93.9,763.8L100.2,761.1 93.8,759.2 87.5,761.9Z" fill="#a0cf32"/>
<path d="M87.5,761.9L93.8,759.2 87.5,757.3 81.1,760.0Z" fill="#9dce33"/>
<path d="M81.1,760.0L87.5,757.3 81.1,755.4 74.7,758.1Z" fill="#99cd34"/>
<path d="M74.7,758.1L81.1,755.4 74.7,753.4 68.3,756.1Z" fill="#96cc35"/>
<path d="M68.3,756.1L74.7,753.4 68.3,751.5 62.0,754.2Z" fill="#92cb36"/>
<path d="M62.0,754.2L68.3,751.5 62.0,749.6 55.6,752.3Z" fill="#8fca37"/>
<path d="M189.8,787.2L196.2,784.2 189.8,782.4 183.4,785.4ZM183.4,780.5L189.8,777.5 183.4,775.7 177.0,778.7ZM157.8,759.1L164.2,756.2 157.8,754.4 151.4,757.3ZM138.6,744.6L145.0,741.9 138.6,740.1 132.2,742.8Z" fill="#e5e021"/>
<path d="M183.4,785.4L189.8,782.4 183.4,780.5 177.0,783.6ZM157.8,763.7L164.2,760.8 157.8,759.1 151.4,761.9ZM119.4,734.9L125.7,732.3 119.3,730.5 112.9,733.1Z" fill="#e1df23"/>
<path d="M164.2,779.8L170.6,776.9 164.2,775.0 157.8,778.0ZM119.4,743.7L125.8,741.1 119.4,739.3 113.0,741.9Z" fill="#d8dc26"/>
<path d="M151.4,776.1L157.8,773.2 151.4,771.3 145.0,774.3ZM125.8,754.6L132.2,751.9 125.8,750.1 119.4,752.8ZM106.6,740.1L113.0,737.5 106.6,735.7 100.2,738.3Z" fill="#cfda28"/>
<path d="M145.0,774.3L151.4,771.3 145.0,769.5 138.6,772.4ZM119.4,752.8L125.8,750.1 119.4,748.2 113.0,751.0Z" fill="#cad929"/>
<path d="M138.6,772.4L145.0,769.5 138.6,767.6 132.2,770.5ZM113.0,751.0L119.4,748.2 113.0,746.4 106.6,749.1Z" fill="#c5d82a"/>
<path d="M132.2,770.5L138.6,767.6 132.2,765.8 125.8,768.6Z" fill="#c0d72b"/>
<path d="M125.8,768.6L132.2,765.8 125.8,763.9 119.4,766.7Z" fill="#bbd62c"/>
<path d="M119.4,766.7L125.8,763.9 119.4,762.1 113.0,764.9Z" fill="#b6d52d"/>
<path d="M113.0,764.9L119.4,762.1 113.0,760.2 106.6,763.0Z" fill="#b2d42e"/>
<path d="M106.6,763.0L113.0,760.2 106.6,758.3 100.2,761.1Z" fill="#add32f"/>
<path d="M100.2,761.1L106.6,758.3 100.2,756.4 93.8,759.2Z" fill="#a8d230"/>
<path d="M93.8,759.2L100.2,756.4 93.8,754.5 87.5,757.3Z" fill="#a5d131"/>
<path d="M87.5,757.3L93.8,754.5 87.5,752.7 81.1,755.4Z" fill="#a2cf32"/>
<path d="M81.1,755.4L87.5,752.7 81.1,750.8 74.7,753.4Z" fill="#9ece33"/>
<path d="M74.7,753.4L81.1,750.8 74.7,748.9 68.3,751.5Z" fill="#9bcd34"/>
<path d="M68.3,751.5L74.7,748.9 68.3,747.0 62.0,749.6Z" fill="#97cc35"/>
<path d="M196.2,784.2L202.7,781.1 196.2,779.3 189.8,782.4Z" fill="#ece11f"/>
<path d="M189.8,782.4L196.2,779.3 189.8,777.5 183.4,780.5ZM164.2,760.8L170.6,758.0 164.2,756.2 157.8,759.1ZM145.0,746.4L151.4,743.6 145.0,741.9 138.6,744.6Z" fill="#e8e120"/>
<path d="M177.0,778.7L183.4,775.7 177.0,773.9 170.6,776.9ZM151.4,757.3L157.8,754.4 151.4,752.7 145.0,755.5ZM132.2,742.8L138.6,740.1 132.2,738.4 125.8,741.1Z" fill="#e2df22"/>
<path d="M170.6,776.9L177.0,773.9 170.6,772.1 164.2,775.0ZM145.0,755.5L151.4,752.7 145.0,750.9 138.6,753.7ZM125.8,741.1L132.2,738.4 125.8,736.6 119.4,739.3Z" fill="#dfde23"/>
<path d="M164.2,775.0L170.6,772.1 164.2,770.3 157.8,773.2ZM138.6,753.7L145.0,750.9 138.6,749.1 132.2,751.9ZM119.4,739.3L125.8,736.6 119.4,734.9 113.0,737.5Z" fill="#dcdd24"/>
<path d="M157.8,773.2L164.2,770.3 157.8,768.4 151.4,771.3Z" fill="#d9dc25"/>
<path d="M151.4,771.3L157.8,768.4 151.4,766.6 145.0,769.5Z" fill="#d5db27"/>
<path d="M145.0,769.5L151.4,766.6 145.0,764.8 138.6,767.6Z" fill="#d0da28"/>
<path d="M138.6,767.6L145.0,764.8 138.6,762.9 132.2,765.8ZM100.2,738.3L106.6,735.7 100.2,733.9 93.8,736.5Z" fill="#cbd929"/>
<path d="M132.2,765.8L138.6,762.9 132.2,761.1 125.8,763.9Z" fill="#c6d82a"/>
<path d="M125.8,763.9L132.2,761.1 125.8,759.2 119.4,762.1Z" fill="#c2d72b"/>
<path d="M119.4,762.1L125.8,759.2 119.4,757.4 113.0,760.2Z" fill="#bdd62c"/>
<path d="M113.0,760.2L119.4,757.4 113.0,755.5 106.6,758.3ZM93.8,745.4L100.2,742.8 93.8,741.0 87.4,743.6Z" fill="#b8d52d"/>
<path d="M106.6,758.3L113.0,755.5 106.6,753.7 100.2,756.4ZM87.4,743.6L93.8,741.0 87.4,739.1 81.0,741.7Z" fill="#b3d42e"/>
<path d="M100.2,756.4L106.6,753.7 100.2,751.8 93.8,754.5Z" fill="#aed32f"/>
<path d="M87.5,752.7L93.8,750.0 87.4,748.1 81.1,750.8Z" fill="#a6d131"/>
<path d="M74.7,748.9L81.1,746.2 74.7,744.4 68.3,747.0Z" fill="#a0cf33"/>
<path d="M202.7,781.1L209.1,778.1 202.7,776.3 196.2,779.3ZM177.1,759.7L183.5,756.9 177.1,755.1 170.6,758.0ZM157.8,745.4L164.2,742.6 157.8,740.9 151.4,743.6Z" fill="#f2e31d"/>
<path d="M196.2,779.3L202.7,776.3 196.3,774.5 189.8,777.5ZM170.6,758.0L177.1,755.1 170.7,753.4 164.2,756.2ZM138.6,735.7L145.0,733.1 138.6,731.4 132.2,734.0Z" fill="#efe21e"/>
<path d="M189.8,777.5L196.3,774.5 189.9,772.7 183.4,775.7ZM164.2,756.2L170.7,753.4 164.2,751.6 157.8,754.4ZM132.2,734.0L138.6,731.4 132.1,729.7 125.7,732.3Z" fill="#ece21f"/>
<path d="M183.4,775.7L189.9,772.7 183.4,770.9 177.0,773.9ZM157.8,754.4L164.2,751.6 157.8,749.9 151.4,752.7ZM125.7,732.3L132.1,729.7 125.7,727.9 119.3,730.5Z" fill="#e9e120"/>
<path d="M177.0,773.9L183.4,770.9 177.0,769.1 170.6,772.1ZM151.4,752.7L157.8,749.9 151.4,748.1 145.0,750.9ZM119.3,730.5L125.7,727.9 119.3,726.2 112.9,728.8Z" fill="#e6e021"/>
<path d="M170.6,772.1L177.0,769.1 170.6,767.3 164.2,770.3ZM145.0,750.9L151.4,748.1 145.0,746.4 138.6,749.1Z" fill="#e3df22"/>
<path d="M164.2,770.3L170.6,767.3 164.2,765.5 157.8,768.4Z" fill="#e0de23"/>
<path d="M157.8,768.4L164.2,765.5 157.8,763.7 151.4,766.6Z" fill="#dddd24"/>
<path d="M151.4,766.6L157.8,763.7 151.4,761.9 145.0,764.8ZM132.2,751.9L138.6,749.1 132.2,747.3 125.8,750.1ZM113.0,737.5L119.4,734.9 112.9,733.1 106.6,735.7Z" fill="#d9dd25"/>
<path d="M145.0,764.8L151.4,761.9 145.0,760.1 138.6,762.9ZM106.6,735.7L112.9,733.1 106.5,731.4 100.2,733.9Z" fill="#d6dc26"/>
<path d="M138.6,762.9L145.0,760.1 138.6,758.3 132.2,761.1ZM119.4,748.2L125.8,745.5 119.4,743.7 113.0,746.4Z" fill="#d1db27"/>
<path d="M100.2,751.8L106.6,749.1 100.2,747.3 93.8,750.0Z" fill="#b5d52d"/>
<path d="M93.8,750.0L100.2,747.3 93.8,745.4 87.4,748.1Z" fill="#b1d32f"/>
<path d="M87.4,748.1L93.8,745.4 87.4,743.6 81.1,746.2Z" fill="#acd230"/>
<path d="M81.1,746.2L87.4,743.6 81.0,741.7 74.7,744.4Z" fill="#a8d130"/>
<path d="M209.1,778.1L215.6,775.0 209.1,773.3 202.7,776.3ZM189.9,763.3L196.3,760.3 189.9,758.6 183.5,761.5ZM183.5,756.9L189.9,754.0 183.5,752.3 177.1,755.1ZM170.7,748.8L177.1,746.0 170.7,744.3 164.2,747.1ZM151.4,734.8L157.8,732.1 151.4,730.4 145.0,733.1ZM138.5,727.1L145.0,724.5 138.5,722.8 132.1,725.4Z" fill="#f5e41b"/>
<path d="M202.7,776.3L209.1,773.3 202.7,771.5 196.3,774.5ZM196.3,769.7L202.7,766.8 196.3,765.0 189.9,768.0ZM183.5,761.5L189.9,758.6 183.5,756.9 177.1,759.7ZM177.1,755.1L183.5,752.3 177.1,750.6 170.7,753.4ZM164.2,747.1L170.7,744.3 164.2,742.6 157.8,745.4ZM157.8,740.9L164.2,738.2 157.8,736.5 151.4,739.2ZM145.0,733.1L151.4,730.4 145.0,728.7 138.6,731.4ZM132.1,725.4L138.5,722.8 132.1,721.1 125.7,723.7Z" fill="#f5e41c"/>
<path d="M196.3,774.5L202.7,771.5 196.3,769.7 189.9,772.7Z" fill="#f3e31d"/>
<path d="M189.9,772.7L196.3,769.7 189.9,768.0 183.4,770.9Z" fill="#f0e31e"/>
<path d="M183.4,770.9L189.9,768.0 183.5,766.2 177.0,769.1ZM145.0,741.9L151.4,739.2 145.0,737.5 138.6,740.1Z" fill="#ede21f"/>
<path d="M177.0,769.1L183.5,766.2 177.0,764.4 170.6,767.3ZM138.6,740.1L145.0,737.5 138.6,735.7 132.2,738.4Z" fill="#eae120"/>
<path d="M170.6,767.3L177.0,764.4 170.6,762.6 164.2,765.5ZM132.2,738.4L138.6,735.7 132.2,734.0 125.8,736.6Z" fill="#e7e021"/>
<path d="M164.2,765.5L170.6,762.6 164.2,760.8 157.8,763.7ZM125.8,736.6L132.2,734.0 125.7,732.3 119.4,734.9Z" fill="#e4df22"/>
<path d="M106.6,749.1L113.0,746.4 106.6,744.6 100.2,747.3Z" fill="#c1d72b"/>
<path d="M100.2,747.3L106.6,744.6 100.2,742.8 93.8,745.4Z" fill="#bcd62c"/>
<path d="M215.6,775.0L222.0,772.0 215.6,770.3 209.1,773.3ZM209.1,773.3L215.6,770.3 209.2,768.5 202.7,771.5ZM202.7,766.8L209.2,763.8 202.8,762.1 196.3,765.0ZM196.3,760.3L202.8,757.4 196.4,755.7 189.9,758.6ZM189.9,758.6L196.4,755.7 189.9,754.0 183.5,756.9ZM189.9,754.0L196.4,751.1 189.9,749.4 183.5,752.3ZM183.5,752.3L189.9,749.4 183.5,747.7 177.1,750.6ZM177.1,746.0L183.5,743.3 177.1,741.6 170.7,744.3ZM170.7,744.3L177.1,741.6 170.7,739.9 164.2,742.6ZM164.2,738.2L170.7,735.5 164.2,733.8 157.8,736.5ZM157.8,732.1L164.2,729.4 157.8,727.8 151.4,730.4ZM151.4,730.4L157.8,727.8 151.4,726.1 145.0,728.7ZM145.0,724.5L151.4,721.9 144.9,720.2 138.5,722.8ZM138.5,722.8L144.9,720.2 138.5,718.6 132.1,721.1Z" fill="#f6e31a"/>
<path d="M202.7,771.5L209.2,768.5 202.7,766.8 196.3,769.7ZM196.3,765.0L202.8,762.1 196.3,760.3 189.9,763.3ZM177.1,750.6L183.5,747.7 177.1,746.0 170.7,748.8ZM164.2,742.6L170.7,739.9 164.2,738.2 157.8,740.9Z" fill="#f5e31b"/>
<path d="M189.9,768.0L196.3,765.0 189.9,763.3 183.5,766.2ZM170.7,753.4L177.1,750.6 170.7,748.8 164.2,751.6ZM151.4,739.2L157.8,736.5 151.4,734.8 145.0,737.5ZM138.6,731.4L145.0,728.7 138.5,727.1 132.1,729.7Z" fill="#f4e41c"/>
<path d="M183.5,766.2L189.9,763.3 183.5,761.5 177.0,764.4ZM164.2,751.6L170.7,748.8 164.2,747.1 157.8,749.9ZM145.0,737.5L151.4,734.8 145.0,733.1 138.6,735.7ZM132.1,729.7L138.5,727.1 132.1,725.4 125.7,727.9Z" fill="#f1e31d"/>
<path d="M177.0,764.4L183.5,761.5 177.1,759.7 170.6,762.6ZM157.8,749.9L164.2,747.1 157.8,745.4 151.4,748.1ZM125.7,727.9L132.1,725.4 125.7,723.7 119.3,726.2Z" fill="#eee21e"/>
<path d="M170.6,762.6L177.1,759.7 170.6,758.0 164.2,760.8ZM151.4,748.1L157.8,745.4 151.4,743.6 145.0,746.4Z" fill="#ebe11f"/>
<path d="M125.8,750.1L132.2,747.3 125.8,745.5 119.4,748.2Z" fill="#d5dc26"/>
<path d="M113.0,746.4L119.4,743.7 113.0,741.9 106.6,744.6Z" fill="#ccda28"/>
<path d="M222.0,772.0L228.5,769.0 222.0,767.3 215.6,770.3ZM202.8,757.4L209.2,754.5 202.8,752.8 196.4,755.7ZM196.4,751.1L202.8,748.3 196.4,746.6 189.9,749.4ZM183.5,743.3L190.0,740.5 183.5,738.8 177.1,741.6ZM170.7,735.5L177.1,732.8 170.7,731.1 164.2,733.8ZM157.8,727.8L164.2,725.2 157.8,723.5 151.4,726.1ZM144.9,720.2L151.3,717.7 144.9,716.0 138.5,718.6Z" fill="#f6e218"/>
<path d="M215.6,770.3L222.0,767.3 215.6,765.5 209.2,768.5ZM209.2,763.8L215.6,760.9 209.2,759.1 202.8,762.1ZM196.4,755.7L202.8,752.8 196.4,751.1 189.9,754.0ZM189.9,749.4L196.4,746.6 190.0,744.9 183.5,747.7ZM177.1,741.6L183.5,738.8 177.1,737.1 170.7,739.9ZM164.2,733.8L170.7,731.1 164.2,729.4 157.8,732.1Z" fill="#f6e219"/>
<path d="M209.2,768.5L215.6,765.5 209.2,763.8 202.7,766.8ZM202.8,762.1L209.2,759.1 202.8,757.4 196.3,760.3ZM183.5,747.7L190.0,744.9 183.5,743.3 177.1,746.0ZM170.7,739.9L177.1,737.1 170.7,735.5 164.2,738.2ZM151.4,726.1L157.8,723.5 151.4,721.9 145.0,724.5Z" fill="#f6e319"/>
<path d="M138.6,749.1L145.0,746.4 138.6,744.6 132.2,747.3Z" fill="#e0df23"/>
<path d="M132.2,747.3L138.6,744.6 132.2,742.8 125.8,745.5Z" fill="#ddde24"/>
<path d="M228.5,769.0L234.9,766.0 228.5,764.3 222.0,767.3ZM222.1,762.6L228.5,759.6 222.1,757.9 215.6,760.9ZM209.2,754.5L215.7,751.6 209.2,750.0 202.8,752.8ZM190.0,740.5L196.4,737.7 190.0,736.1 183.5,738.8ZM177.1,732.8L183.5,730.1 177.1,728.4 170.7,731.1ZM164.2,725.2L170.6,722.5 164.2,720.9 157.8,723.5ZM151.3,717.7L157.8,715.1 151.3,713.5 144.9,716.0Z" fill="#f7e117"/>
<path d="M222.0,767.3L228.5,764.3 222.1,762.6 215.6,765.5ZM215.6,760.9L222.1,757.9 215.7,756.2 209.2,759.1ZM202.8,752.8L209.2,750.0 202.8,748.3 196.4,751.1ZM196.4,746.6L202.8,743.8 196.4,742.1 190.0,744.9ZM183.5,738.8L190.0,736.1 183.5,734.4 177.1,737.1ZM170.7,731.1L177.1,728.4 170.7,726.8 164.2,729.4ZM157.8,723.5L164.2,720.9 157.8,719.3 151.4,721.9Z" fill="#f7e217"/>
<path d="M215.6,765.5L222.1,762.6 215.6,760.9 209.2,763.8ZM209.2,759.1L215.7,756.2 209.2,754.5 202.8,757.4ZM190.0,744.9L196.4,742.1 190.0,740.5 183.5,743.3ZM177.1,737.1L183.5,734.4 177.1,732.8 170.7,735.5ZM164.2,729.4L170.7,726.8 164.2,725.2 157.8,727.8ZM151.4,721.9L157.8,719.3 151.3,717.7 144.9,720.2Z" fill="#f7e218"/>
<path d="M234.9,766.0L241.4,763.0 235.0,761.3 228.5,764.3ZM228.5,759.6L235.0,756.6 228.6,755.0 222.1,757.9ZM215.7,751.6L222.1,748.8 215.7,747.1 209.2,750.0ZM196.4,737.7L202.8,734.9 196.4,733.3 190.0,736.1ZM183.5,730.1L190.0,727.4 183.5,725.8 177.1,728.4ZM170.6,722.5L177.1,719.9 170.6,718.3 164.2,720.9ZM157.8,715.1L164.2,712.6 157.7,711.0 151.3,713.5Z" fill="#f8e115"/>
<path d="M228.5,764.3L235.0,761.3 228.5,759.6 222.1,762.6ZM222.1,757.9L228.6,755.0 222.1,753.3 215.7,756.2ZM215.7,756.2L222.1,753.3 215.7,751.6 209.2,754.5ZM209.2,750.0L215.7,747.1 209.3,745.5 202.8,748.3ZM202.8,748.3L209.3,745.5 202.8,743.8 196.4,746.6ZM202.8,743.8L209.3,741.0 202.8,739.3 196.4,742.1ZM196.4,742.1L202.8,739.3 196.4,737.7 190.0,740.5ZM190.0,736.1L196.4,733.3 190.0,731.7 183.5,734.4ZM183.5,734.4L190.0,731.7 183.5,730.1 177.1,732.8ZM177.1,728.4L183.5,725.8 177.1,724.2 170.7,726.8ZM170.7,726.8L177.1,724.2 170.6,722.5 164.2,725.2ZM164.2,720.9L170.6,718.3 164.2,716.7 157.8,719.3ZM157.8,719.3L164.2,716.7 157.8,715.1 151.3,717.7Z" fill="#f7e116"/>
<path d="M151.4,743.6L157.8,740.9 151.4,739.2 145.0,741.9Z" fill="#efe31e"/>
<path d="M241.4,763.0L247.9,760.0 241.4,758.3 235.0,761.3Z" fill="#f8df14"/>
<path d="M235.0,761.3L241.4,758.3 235.0,756.6 228.5,759.6ZM228.6,755.0L235.0,752.1 228.6,750.4 222.1,753.3ZM215.7,747.1L222.1,744.3 215.7,742.6 209.3,745.5ZM209.3,741.0L215.7,738.2 209.3,736.6 202.8,739.3ZM196.4,733.3L202.8,730.6 196.4,729.0 190.0,731.7ZM183.5,725.8L190.0,723.1 183.5,721.5 177.1,724.2ZM170.6,718.3L177.1,715.7 170.6,714.2 164.2,716.7Z" fill="#f8e014"/>
<path d="M247.9,760.0L254.3,757.0 247.9,755.3 241.4,758.3ZM177.1,715.7L183.5,713.2 177.0,711.6 170.6,714.2Z" fill="#f7d117"/>
<path d="M241.4,758.3L247.9,755.3 241.5,753.7 235.0,756.6ZM209.3,736.6L215.7,733.8 209.3,732.2 202.8,734.9ZM196.4,729.0L202.8,726.3 196.4,724.7 190.0,727.4ZM183.5,721.5L189.9,718.9 183.5,717.3 177.1,719.9Z" fill="#f7d716"/>
<path d="M235.0,756.6L241.5,753.7 235.0,752.1 228.6,755.0ZM202.8,734.9L209.3,732.2 202.8,730.6 196.4,733.3ZM190.0,727.4L196.4,724.7 190.0,723.1 183.5,725.8ZM177.1,719.9L183.5,717.3 177.1,715.7 170.6,718.3Z" fill="#f8dc15"/>
<path d="M222.1,753.3L228.6,750.4 222.1,748.8 215.7,751.6ZM209.3,745.5L215.7,742.6 209.3,741.0 202.8,743.8ZM202.8,739.3L209.3,736.6 202.8,734.9 196.4,737.7ZM190.0,731.7L196.4,729.0 190.0,727.4 183.5,730.1ZM177.1,724.2L183.5,721.5 177.1,719.9 170.6,722.5ZM164.2,716.7L170.6,714.2 164.2,712.6 157.8,715.1Z" fill="#f8e015"/>
<path d="M157.8,736.5L164.2,733.8 157.8,732.1 151.4,734.8ZM145.0,728.7L151.4,726.1 145.0,724.5 138.5,727.1Z" fill="#f6e31b"/>
<path d="M254.3,757.0L260.8,754.0 254.4,752.4 247.9,755.3ZM209.3,727.9L215.7,725.2 209.3,723.6 202.8,726.3Z" fill="#f5c41a"/>
<path d="M247.9,755.3L254.4,752.4 247.9,750.8 241.5,753.7Z" fill="#f6c919"/>
<path d="M241.5,753.7L247.9,750.8 241.5,749.1 235.0,752.1Z" fill="#f6ce18"/>
<path d="M235.0,752.1L241.5,749.1 235.0,747.5 228.6,750.4Z" fill="#f7d417"/>
<path d="M228.6,750.4L235.0,747.5 228.6,745.9 222.1,748.8Z" fill="#f7d916"/>
<path d="M222.1,748.8L228.6,745.9 222.1,744.3 215.7,747.1Z" fill="#f8de14"/>
<path d="M260.8,754.0L267.3,751.0 260.8,749.4 254.4,752.4Z" fill="#f4b71d"/>
<path d="M254.4,752.4L260.8,749.4 254.4,747.8 247.9,750.8ZM177.0,707.5L183.5,705.0 177.0,703.5 170.6,706.0Z" fill="#f5bc1c"/>
<path d="M247.9,750.8L254.4,747.8 247.9,746.2 241.5,749.1Z" fill="#f5c11b"/>
<path d="M241.5,749.1L247.9,746.2 241.5,744.6 235.0,747.5Z" fill="#f6c61a"/>
<path d="M235.0,747.5L241.5,744.6 235.1,743.0 228.6,745.9ZM170.6,710.1L177.0,707.5 170.6,706.0 164.2,708.5Z" fill="#f6cb19"/>
<path d="M228.6,745.9L235.1,743.0 228.6,741.4 222.1,744.3Z" fill="#f7d018"/>
<path d="M222.1,744.3L228.6,741.4 222.2,739.8 215.7,742.6Z" fill="#f7d516"/>
<path d="M215.7,742.6L222.2,739.8 215.7,738.2 209.3,741.0ZM164.2,712.6L170.6,710.1 164.2,708.5 157.7,711.0Z" fill="#f8db15"/>
<path d="M267.3,751.0L273.8,748.1 267.3,746.5 260.8,749.4Z" fill="#f3ad1e"/>
<path d="M260.8,749.4L267.3,746.5 260.9,744.9 254.4,747.8ZM248.0,741.8L254.4,738.9 248.0,737.3 241.5,740.2ZM209.3,719.4L215.7,716.7 209.3,715.2 202.8,717.8ZM196.4,712.1L202.8,709.6 196.4,708.0 189.9,710.6Z" fill="#f4b11e"/>
<path d="M254.4,747.8L260.9,744.9 254.4,743.3 247.9,746.2ZM202.8,717.8L209.3,715.2 202.8,713.7 196.4,716.3Z" fill="#f4b41e"/>
<path d="M247.9,746.2L254.4,743.3 248.0,741.8 241.5,744.6ZM183.5,709.1L189.9,706.5 183.5,705.0 177.0,707.5Z" fill="#f4b81d"/>
<path d="M241.5,744.6L248.0,741.8 241.5,740.2 235.1,743.0Z" fill="#f5bd1c"/>
<path d="M235.1,743.0L241.5,740.2 235.1,738.6 228.6,741.4ZM183.5,713.2L189.9,710.6 183.5,709.1 177.0,711.6Z" fill="#f5c21b"/>
<path d="M228.6,741.4L235.1,738.6 228.6,737.0 222.2,739.8Z" fill="#f6c81a"/>
<path d="M222.2,739.8L228.6,737.0 222.2,735.4 215.7,738.2ZM209.3,732.2L215.7,729.5 209.3,727.9 202.8,730.6ZM196.4,724.7L202.8,722.0 196.4,720.5 190.0,723.1ZM183.5,717.3L189.9,714.7 183.5,713.2 177.1,715.7Z" fill="#f6cd18"/>
<path d="M215.7,738.2L222.2,735.4 215.7,733.8 209.3,736.6ZM202.8,730.6L209.3,727.9 202.8,726.3 196.4,729.0ZM190.0,723.1L196.4,720.5 189.9,718.9 183.5,721.5Z" fill="#f7d217"/>
<path d="M273.8,748.1L280.3,745.1 273.8,743.6 267.3,746.5Z" fill="#f3a51f"/>
<path d="M267.3,746.5L273.8,743.6 267.4,742.0 260.9,744.9ZM215.7,716.7L222.2,714.1 215.7,712.6 209.3,715.2Z" fill="#f3a81f"/>
<path d="M260.9,744.9L267.4,742.0 260.9,740.4 254.4,743.3ZM209.3,715.2L215.7,712.6 209.3,711.1 202.8,713.7Z" fill="#f3ab1e"/>
<path d="M254.4,743.3L260.9,740.4 254.4,738.9 248.0,741.8ZM202.8,713.7L209.3,711.1 202.8,709.6 196.4,712.1Z" fill="#f3ae1e"/>
<path d="M241.5,740.2L248.0,737.3 241.5,735.7 235.1,738.6ZM228.6,732.6L235.1,729.8 228.6,728.3 222.2,731.0ZM215.7,725.2L222.2,722.5 215.7,720.9 209.3,723.6Z" fill="#f4b51e"/>
<path d="M235.1,738.6L241.5,735.7 235.1,734.2 228.6,737.0ZM222.2,731.0L228.6,728.3 222.2,726.7 215.7,729.5ZM209.3,723.6L215.7,720.9 209.3,719.4 202.8,722.0Z" fill="#f5ba1d"/>
<path d="M228.6,737.0L235.1,734.2 228.6,732.6 222.2,735.4ZM189.9,714.7L196.4,712.1 189.9,710.6 183.5,713.2Z" fill="#f5be1c"/>
<path d="M222.2,735.4L228.6,732.6 222.2,731.0 215.7,733.8ZM196.4,720.5L202.8,717.8 196.4,716.3 189.9,718.9Z" fill="#f5c31b"/>
<path d="M215.7,733.8L222.2,731.0 215.7,729.5 209.3,732.2ZM202.8,726.3L209.3,723.6 202.8,722.0 196.4,724.7ZM189.9,718.9L196.4,716.3 189.9,714.7 183.5,717.3Z" fill="#f6c819"/>
<path d="M280.3,745.1L286.8,742.2 280.3,740.6 273.8,743.6ZM241.6,722.8L248.0,720.1 241.6,718.6 235.1,721.3Z" fill="#f29d1f"/>
<path d="M273.8,743.6L280.3,740.6 273.8,739.1 267.4,742.0ZM235.1,721.3L241.6,718.6 235.1,717.1 228.6,719.8Z" fill="#f2a01f"/>
<path d="M267.4,742.0L273.8,739.1 267.4,737.6 260.9,740.4ZM228.6,719.8L235.1,717.1 228.6,715.6 222.2,718.2Z" fill="#f2a31f"/>
<path d="M260.9,740.4L267.4,737.6 260.9,736.0 254.4,738.9ZM248.0,732.9L254.5,730.1 248.0,728.6 241.5,731.4ZM235.1,725.5L241.6,722.8 235.1,721.3 228.6,724.0ZM222.2,718.2L228.6,715.6 222.2,714.1 215.7,716.7Z" fill="#f3a61f"/>
<path d="M254.4,738.9L260.9,736.0 254.5,734.5 248.0,737.3ZM241.5,731.4L248.0,728.6 241.6,727.1 235.1,729.8ZM228.6,724.0L235.1,721.3 228.6,719.8 222.2,722.5Z" fill="#f3a91e"/>
<path d="M248.0,737.3L254.5,734.5 248.0,732.9 241.5,735.7ZM235.1,729.8L241.6,727.1 235.1,725.5 228.6,728.3ZM222.2,722.5L228.6,719.8 222.2,718.2 215.7,720.9Z" fill="#f3ac1e"/>
<path d="M241.5,735.7L248.0,732.9 241.5,731.4 235.1,734.2ZM228.6,728.3L235.1,725.5 228.6,724.0 222.2,726.7ZM215.7,720.9L222.2,718.2 215.7,716.7 209.3,719.4Z" fill="#f4af1e"/>
<path d="M235.1,734.2L241.5,731.4 235.1,729.8 228.6,732.6ZM222.2,726.7L228.6,724.0 222.2,722.5 215.7,725.2Z" fill="#f4b21e"/>
<path d="M215.7,729.5L222.2,726.7 215.7,725.2 209.3,727.9ZM202.8,722.0L209.3,719.4 202.8,717.8 196.4,720.5Z" fill="#f5bf1c"/>
<path d="M286.8,742.2L293.3,739.2 286.8,737.7 280.3,740.6ZM273.9,734.7L280.3,731.8 273.9,730.3 267.4,733.2ZM260.9,727.3L267.4,724.5 261.0,723.0 254.5,725.8Z" fill="#f1951f"/>
<path d="M280.3,740.6L286.8,737.7 280.3,736.2 273.8,739.1Z" fill="#f1981f"/>
<path d="M273.8,739.1L280.3,736.2 273.9,734.7 267.4,737.6ZM260.9,731.6L267.4,728.8 260.9,727.3 254.5,730.1ZM248.0,724.3L254.5,721.6 248.0,720.1 241.6,722.8Z" fill="#f29b1f"/>
<path d="M267.4,737.6L273.9,734.7 267.4,733.2 260.9,736.0ZM254.5,730.1L260.9,727.3 254.5,725.8 248.0,728.6Z" fill="#f29e1f"/>
<path d="M260.9,736.0L267.4,733.2 260.9,731.6 254.5,734.5ZM248.0,728.6L254.5,725.8 248.0,724.3 241.6,727.1Z" fill="#f2a11f"/>
<path d="M254.5,734.5L260.9,731.6 254.5,730.1 248.0,732.9ZM241.6,727.1L248.0,724.3 241.6,722.8 235.1,725.5Z" fill="#f3a31f"/>
<path d="M170.6,714.2L177.0,711.6 170.6,710.1 164.2,712.6Z" fill="#f7d616"/>
<path d="M293.3,739.2L299.8,736.3 293.3,734.8 286.8,737.7ZM280.3,731.8L286.8,729.0 280.4,727.5 273.9,730.3Z" fill="#f18d20"/>
<path d="M286.8,737.7L293.3,734.8 286.8,733.3 280.3,736.2ZM273.9,730.3L280.4,727.5 273.9,726.0 267.4,728.8Z" fill="#f19020"/>
<path d="M280.3,736.2L286.8,733.3 280.3,731.8 273.9,734.7ZM267.4,728.8L273.9,726.0 267.4,724.5 260.9,727.3Z" fill="#f1921f"/>
<path d="M267.4,733.2L273.9,730.3 267.4,728.8 260.9,731.6ZM254.5,725.8L261.0,723.0 254.5,721.6 248.0,724.3Z" fill="#f2981f"/>
<path d="M196.4,716.3L202.8,713.7 196.4,712.1 189.9,714.7Z" fill="#f4b91d"/>
<path d="M177.0,711.6L183.5,709.1 177.0,707.5 170.6,710.1Z" fill="#f6c71a"/>
<path d="M299.8,736.3L306.3,733.4 299.8,731.9 293.3,734.8Z" fill="#f08520"/>
<path d="M293.3,734.8L299.8,731.9 293.3,730.5 286.8,733.3Z" fill="#f08720"/>
<path d="M286.8,733.3L293.3,730.5 286.8,729.0 280.3,731.8Z" fill="#f08a20"/>
<path d="M189.9,710.6L196.4,708.0 189.9,706.5 183.5,709.1Z" fill="#f4b31e"/>
<path d="M176.9,793.4L170.5,791.5L164.1,789.6L157.7,787.7L151.3,785.8L144.9,783.9L138.5,782.0L132.1,780.1L125.8,778.2L119.4,776.3L113.0,774.4L106.6,772.4L100.2,770.5L93.9,768.6L87.5,766.6L81.1,764.7L74.7,762.7L68.4,760.8L62.0,758.8L55.6,756.9L49.3,754.9 M176.9,793.4L183.3,790.3L189.8,787.2L196.2,784.2L202.7,781.1L209.1,778.1L215.6,775.0L222.0,772.0L228.5,769.0L234.9,766.0L241.4,763.0L247.9,760.0L254.3,757.0L260.8,754.0L267.3,751.0L273.8,748.1L280.3,745.1L286.8,742.2L293.3,739.2L299.8,736.3L306.3,733.4 M183.3,790.3L176.9,788.5L170.5,786.6L164.1,784.7L157.7,782.8L151.3,781.0L144.9,779.1L138.6,777.2L132.2,775.3L125.8,773.4L119.4,771.5L113.0,769.6L106.6,767.7L100.2,765.8L93.9,763.8L87.5,761.9L81.1,760.0L74.7,758.1L68.3,756.1L62.0,754.2L55.6,752.3 M170.5,791.5L176.9,788.5L183.4,785.4L189.8,782.4L196.2,779.3L202.7,776.3L209.1,773.3L215.6,770.3L222.0,767.3L228.5,764.3L235.0,761.3L241.4,758.3L247.9,755.3L254.4,752.4L260.8,749.4L267.3,746.5L273.8,743.6L280.3,740.6L286.8,737.7L293.3,734.8L299.8,731.9 M189.8,787.2L183.4,785.4L177.0,783.6L170.6,781.7L164.2,779.8L157.8,778.0L151.4,776.1L145.0,774.3L138.6,772.4L132.2,770.5L125.8,768.6L119.4,766.7L113.0,764.9L106.6,763.0L100.2,761.1L93.8,759.2L87.5,757.3L81.1,755.4L74.7,753.4L68.3,751.5L62.0,749.6 M164.1,789.6L170.5,786.6L177.0,783.6L183.4,780.5L189.8,777.5L196.3,774.5L202.7,771.5L209.2,768.5L215.6,765.5L222.1,762.6L228.5,759.6L235.0,756.6L241.5,753.7L247.9,750.8L254.4,747.8L260.9,744.9L267.4,742.0L273.8,739.1L280.3,736.2L286.8,733.3L293.3,730.5 M196.2,784.2L189.8,782.4L183.4,780.5L177.0,778.7L170.6,776.9L164.2,775.0L157.8,773.2L151.4,771.3L145.0,769.5L138.6,767.6L132.2,765.8L125.8,763.9L119.4,762.1L113.0,760.2L106.6,758.3L100.2,756.4L93.8,754.5L87.5,752.7L81.1,750.8L74.7,748.9L68.3,747.0 M157.7,787.7L164.1,784.7L170.6,781.7L177.0,778.7L183.4,775.7L189.9,772.7L196.3,769.7L202.7,766.8L209.2,763.8L215.6,760.9L222.1,757.9L228.6,755.0L235.0,752.1L241.5,749.1L247.9,746.2L254.4,743.3L260.9,740.4L267.4,737.6L273.9,734.7L280.3,731.8L286.8,729.0 M202.7,781.1L196.2,779.3L189.8,777.5L183.4,775.7L177.0,773.9L170.6,772.1L164.2,770.3L157.8,768.4L151.4,766.6L145.0,764.8L138.6,762.9L132.2,761.1L125.8,759.2L119.4,757.4L113.0,755.5L106.6,753.7L100.2,751.8L93.8,750.0L87.4,748.1L81.1,746.2L74.7,744.4 M151.3,785.8L157.7,782.8L164.2,779.8L170.6,776.9L177.0,773.9L183.4,770.9L189.9,768.0L196.3,765.0L202.8,762.1L209.2,759.1L215.7,756.2L222.1,753.3L228.6,750.4L235.0,747.5L241.5,744.6L248.0,741.8L254.4,738.9L260.9,736.0L267.4,733.2L273.9,730.3L280.4,727.5 M209.1,778.1L202.7,776.3L196.3,774.5L189.9,772.7L183.4,770.9L177.0,769.1L170.6,767.3L164.2,765.5L157.8,763.7L151.4,761.9L145.0,760.1L138.6,758.3L132.2,756.5L125.8,754.6L119.4,752.8L113.0,751.0L106.6,749.1L100.2,747.3L93.8,745.4L87.4,743.6L81.0,741.7 M144.9,783.9L151.3,781.0L157.8,778.0L164.2,775.0L170.6,772.1L177.0,769.1L183.5,766.2L189.9,763.3L196.3,760.3L202.8,757.4L209.2,754.5L215.7,751.6L222.1,748.8L228.6,745.9L235.1,743.0L241.5,740.2L248.0,737.3L254.5,734.5L260.9,731.6L267.4,728.8L273.9,726.0 M215.6,775.0L209.1,773.3L202.7,771.5L196.3,769.7L189.9,768.0L183.5,766.2L177.0,764.4L170.6,762.6L164.2,760.8L157.8,759.1L151.4,757.3L145.0,755.5L138.6,753.7L132.2,751.9L125.8,750.1L119.4,748.2L113.0,746.4L106.6,744.6L100.2,742.8L93.8,741.0L87.4,739.1 M138.5,782.0L144.9,779.1L151.4,776.1L157.8,773.2L164.2,770.3L170.6,767.3L177.0,764.4L183.5,761.5L189.9,758.6L196.4,755.7L202.8,752.8L209.2,750.0L215.7,747.1L222.1,744.3L228.6,741.4L235.1,738.6L241.5,735.7L248.0,732.9L254.5,730.1L260.9,727.3L267.4,724.5 M222.0,772.0L215.6,770.3L209.2,768.5L202.7,766.8L196.3,765.0L189.9,763.3L183.5,761.5L177.1,759.7L170.6,758.0L164.2,756.2L157.8,754.4L151.4,752.7L145.0,750.9L138.6,749.1L132.2,747.3L125.8,745.5L119.4,743.7L113.0,741.9L106.6,740.1L100.2,738.3L93.8,736.5 M132.1,780.1L138.6,777.2L145.0,774.3L151.4,771.3L157.8,768.4L164.2,765.5L170.6,762.6L177.1,759.7L183.5,756.9L189.9,754.0L196.4,751.1L202.8,748.3L209.3,745.5L215.7,742.6L222.2,739.8L228.6,737.0L235.1,734.2L241.5,731.4L248.0,728.6L254.5,725.8L261.0,723.0 M228.5,769.0L222.0,767.3L215.6,765.5L209.2,763.8L202.8,762.1L196.3,760.3L189.9,758.6L183.5,756.9L177.1,755.1L170.7,753.4L164.2,751.6L157.8,749.9L151.4,748.1L145.0,746.4L138.6,744.6L132.2,742.8L125.8,741.1L119.4,739.3L113.0,737.5L106.6,735.7L100.2,733.9 M125.8,778.2L132.2,775.3L138.6,772.4L145.0,769.5L151.4,766.6L157.8,763.7L164.2,760.8L170.6,758.0L177.1,755.1L183.5,752.3L189.9,749.4L196.4,746.6L202.8,743.8L209.3,741.0L215.7,738.2L222.2,735.4L228.6,732.6L235.1,729.8L241.6,727.1L248.0,724.3L254.5,721.6 M234.9,766.0L228.5,764.3L222.1,762.6L215.6,760.9L209.2,759.1L202.8,757.4L196.4,755.7L189.9,754.0L183.5,752.3L177.1,750.6L170.7,748.8L164.2,747.1L157.8,745.4L151.4,743.6L145.0,741.9L138.6,740.1L132.2,738.4L125.8,736.6L119.4,734.9L112.9,733.1L106.5,731.4 M119.4,776.3L125.8,773.4L132.2,770.5L138.6,767.6L145.0,764.8L151.4,761.9L157.8,759.1L164.2,756.2L170.7,753.4L177.1,750.6L183.5,747.7L190.0,744.9L196.4,742.1L202.8,739.3L209.3,736.6L215.7,733.8L222.2,731.0L228.6,728.3L235.1,725.5L241.6,722.8L248.0,720.1 M241.4,763.0L235.0,761.3L228.5,759.6L222.1,757.9L215.7,756.2L209.2,754.5L202.8,752.8L196.4,751.1L189.9,749.4L183.5,747.7L177.1,746.0L170.7,744.3L164.2,742.6L157.8,740.9L151.4,739.2L145.0,737.5L138.6,735.7L132.2,734.0L125.7,732.3L119.3,730.5L112.9,728.8 M113.0,774.4L119.4,771.5L125.8,768.6L132.2,765.8L138.6,762.9L145.0,760.1L151.4,757.3L157.8,754.4L164.2,751.6L170.7,748.8L177.1,746.0L183.5,743.3L190.0,740.5L196.4,737.7L202.8,734.9L209.3,732.2L215.7,729.5L222.2,726.7L228.6,724.0L235.1,721.3L241.6,718.6 M247.9,760.0L241.4,758.3L235.0,756.6L228.6,755.0L222.1,753.3L215.7,751.6L209.2,750.0L202.8,748.3L196.4,746.6L190.0,744.9L183.5,743.3L177.1,741.6L170.7,739.9L164.2,738.2L157.8,736.5L151.4,734.8L145.0,733.1L138.6,731.4L132.1,729.7L125.7,727.9L119.3,726.2 M106.6,772.4L113.0,769.6L119.4,766.7L125.8,763.9L132.2,761.1L138.6,758.3L145.0,755.5L151.4,752.7L157.8,749.9L164.2,747.1L170.7,744.3L177.1,741.6L183.5,738.8L190.0,736.1L196.4,733.3L202.8,730.6L209.3,727.9L215.7,725.2L222.2,722.5L228.6,719.8L235.1,717.1 M254.3,757.0L247.9,755.3L241.5,753.7L235.0,752.1L228.6,750.4L222.1,748.8L215.7,747.1L209.3,745.5L202.8,743.8L196.4,742.1L190.0,740.5L183.5,738.8L177.1,737.1L170.7,735.5L164.2,733.8L157.8,732.1L151.4,730.4L145.0,728.7L138.5,727.1L132.1,725.4L125.7,723.7 M100.2,770.5L106.6,767.7L113.0,764.9L119.4,762.1L125.8,759.2L132.2,756.5L138.6,753.7L145.0,750.9L151.4,748.1L157.8,745.4L164.2,742.6L170.7,739.9L177.1,737.1L183.5,734.4L190.0,731.7L196.4,729.0L202.8,726.3L209.3,723.6L215.7,720.9L222.2,718.2L228.6,715.6 M260.8,754.0L254.4,752.4L247.9,750.8L241.5,749.1L235.0,747.5L228.6,745.9L222.1,744.3L215.7,742.6L209.3,741.0L202.8,739.3L196.4,737.7L190.0,736.1L183.5,734.4L177.1,732.8L170.7,731.1L164.2,729.4L157.8,727.8L151.4,726.1L145.0,724.5L138.5,722.8L132.1,721.1 M93.9,768.6L100.2,765.8L106.6,763.0L113.0,760.2L119.4,757.4L125.8,754.6L132.2,751.9L138.6,749.1L145.0,746.4L151.4,743.6L157.8,740.9L164.2,738.2L170.7,735.5L177.1,732.8L183.5,730.1L190.0,727.4L196.4,724.7L202.8,722.0L209.3,719.4L215.7,716.7L222.2,714.1 M267.3,751.0L260.8,749.4L254.4,747.8L247.9,746.2L241.5,744.6L235.1,743.0L228.6,741.4L222.2,739.8L215.7,738.2L209.3,736.6L202.8,734.9L196.4,733.3L190.0,731.7L183.5,730.1L177.1,728.4L170.7,726.8L164.2,725.2L157.8,723.5L151.4,721.9L144.9,720.2L138.5,718.6 M87.5,766.6L93.9,763.8L100.2,761.1L106.6,758.3L113.0,755.5L119.4,752.8L125.8,750.1L132.2,747.3L138.6,744.6L145.0,741.9L151.4,739.2L157.8,736.5L164.2,733.8L170.7,731.1L177.1,728.4L183.5,725.8L190.0,723.1L196.4,720.5L202.8,717.8L209.3,715.2L215.7,712.6 M273.8,748.1L267.3,746.5L260.9,744.9L254.4,743.3L248.0,741.8L241.5,740.2L235.1,738.6L228.6,737.0L222.2,735.4L215.7,733.8L209.3,732.2L202.8,730.6L196.4,729.0L190.0,727.4L183.5,725.8L177.1,724.2L170.6,722.5L164.2,720.9L157.8,719.3L151.3,717.7L144.9,716.0 M81.1,764.7L87.5,761.9L93.8,759.2L100.2,756.4L106.6,753.7L113.0,751.0L119.4,748.2L125.8,745.5L132.2,742.8L138.6,740.1L145.0,737.5L151.4,734.8L157.8,732.1L164.2,729.4L170.7,726.8L177.1,724.2L183.5,721.5L189.9,718.9L196.4,716.3L202.8,713.7L209.3,711.1 M280.3,745.1L273.8,743.6L267.4,742.0L260.9,740.4L254.4,738.9L248.0,737.3L241.5,735.7L235.1,734.2L228.6,732.6L222.2,731.0L215.7,729.5L209.3,727.9L202.8,726.3L196.4,724.7L190.0,723.1L183.5,721.5L177.1,719.9L170.6,718.3L164.2,716.7L157.8,715.1L151.3,713.5 M74.7,762.7L81.1,760.0L87.5,757.3L93.8,754.5L100.2,751.8L106.6,749.1L113.0,746.4L119.4,743.7L125.8,741.1L132.2,738.4L138.6,735.7L145.0,733.1L151.4,730.4L157.8,727.8L164.2,725.2L170.6,722.5L177.1,719.9L183.5,717.3L189.9,714.7L196.4,712.1L202.8,709.6 M286.8,742.2L280.3,740.6L273.8,739.1L267.4,737.6L260.9,736.0L254.5,734.5L248.0,732.9L241.5,731.4L235.1,729.8L228.6,728.3L222.2,726.7L215.7,725.2L209.3,723.6L202.8,722.0L196.4,720.5L189.9,718.9L183.5,717.3L177.1,715.7L170.6,714.2L164.2,712.6L157.7,711.0 M68.4,760.8L74.7,758.1L81.1,755.4L87.5,752.7L93.8,750.0L100.2,747.3L106.6,744.6L113.0,741.9L119.4,739.3L125.8,736.6L132.2,734.0L138.6,731.4L145.0,728.7L151.4,726.1L157.8,723.5L164.2,720.9L170.6,718.3L177.1,715.7L183.5,713.2L189.9,710.6L196.4,708.0 M293.3,739.2L286.8,737.7L280.3,736.2L273.9,734.7L267.4,733.2L260.9,731.6L254.5,730.1L248.0,728.6L241.6,727.1L235.1,725.5L228.6,724.0L222.2,722.5L215.7,720.9L209.3,719.4L202.8,717.8L196.4,716.3L189.9,714.7L183.5,713.2L177.0,711.6L170.6,710.1L164.2,708.5 M62.0,758.8L68.3,756.1L74.7,753.4L81.1,750.8L87.4,748.1L93.8,745.4L100.2,742.8L106.6,740.1L113.0,737.5L119.4,734.9L125.7,732.3L132.1,729.7L138.5,727.1L145.0,724.5L151.4,721.9L157.8,719.3L164.2,716.7L170.6,714.2L177.0,711.6L183.5,709.1L189.9,706.5 M299.8,736.3L293.3,734.8L286.8,733.3L280.3,731.8L273.9,730.3L267.4,728.8L260.9,727.3L254.5,725.8L248.0,724.3L241.6,722.8L235.1,721.3L228.6,719.8L222.2,718.2L215.7,716.7L209.3,715.2L202.8,713.7L196.4,712.1L189.9,710.6L183.5,709.1L177.0,707.5L170.6,706.0 M55.6,756.9L62.0,754.2L68.3,751.5L74.7,748.9L81.1,746.2L87.4,743.6L93.8,741.0L100.2,738.3L106.6,735.7L112.9,733.1L119.3,730.5L125.7,727.9L132.1,725.4L138.5,722.8L144.9,720.2L151.3,717.7L157.8,715.1L164.2,712.6L170.6,710.1L177.0,707.5L183.5,705.0 M306.3,733.4L299.8,731.9L293.3,730.5L286.8,729.0L280.4,727.5L273.9,726.0L267.4,724.5L261.0,723.0L254.5,721.6L248.0,720.1L241.6,718.6L235.1,717.1L228.6,715.6L222.2,714.1L215.7,712.6L209.3,711.1L202.8,709.6L196.4,708.0L189.9,706.5L183.5,705.0L177.0,703.5 M49.3,754.9L55.6,752.3L62.0,749.6L68.3,747.0L74.7,744.4L81.0,741.7L87.4,739.1L93.8,736.5L100.2,733.9L106.5,731.4L112.9,728.8L119.3,726.2L125.7,723.7L132.1,721.1L138.5,718.6L144.9,716.0L151.3,713.5L157.7,711.0L164.2,708.5L170.6,706.0L177.0,703.5" stroke="#1a1a1a" stroke-opacity="0.5" stroke-width="0.6" fill="none"/>
<text x="46.57" y="814.09" font-family="Liberation Sans" font-size="11.55" text-anchor="end" textLength="5.84" lengthAdjust="spacingAndGlyphs" fill="#2a2a2a">2</text>
<text x="45.06" y="782.07" font-family="Liberation Sans" font-size="11.55" text-anchor="end" textLength="14.60" lengthAdjust="spacingAndGlyphs" fill="#2a2a2a">2.5</text>
<text x="43.54" y="750.05" font-family="Liberation Sans" font-size="11.55" text-anchor="end" textLength="5.84" lengthAdjust="spacingAndGlyphs" fill="#2a2a2a">3</text>
<text x="42.02" y="718.02" font-family="Liberation Sans" font-size="11.55" text-anchor="end" textLength="14.60" lengthAdjust="spacingAndGlyphs" fill="#2a2a2a">3.5</text>
<text x="40.50" y="686.00" font-family="Liberation Sans" font-size="11.55" text-anchor="end" textLength="5.84" lengthAdjust="spacingAndGlyphs" fill="#2a2a2a">4</text>
<text x="183.10" y="928.70" font-family="Liberation Sans" font-size="11.55" textLength="5.84" lengthAdjust="spacingAndGlyphs" fill="#2a2a2a">0</text>
<text x="213.95" y="914.03" font-family="Liberation Sans" font-size="11.55" textLength="5.84" lengthAdjust="spacingAndGlyphs" fill="#2a2a2a">5</text>
<text x="244.80" y="899.35" font-family="Liberation Sans" font-size="11.55" textLength="11.68" lengthAdjust="spacingAndGlyphs" fill="#2a2a2a">10</text>
<text x="275.65" y="884.68" font-family="Liberation Sans" font-size="11.55" textLength="11.68" lengthAdjust="spacingAndGlyphs" fill="#2a2a2a">15</text>
<text x="306.50" y="870.00" font-family="Liberation Sans" font-size="11.55" textLength="11.68" lengthAdjust="spacingAndGlyphs" fill="#2a2a2a">20</text>
<text x="171.20" y="928.70" font-family="Liberation Sans" font-size="11.55" text-anchor="end" textLength="5.84" lengthAdjust="spacingAndGlyphs" fill="#2a2a2a">0</text>
<text x="146.64" y="916.94" font-family="Liberation Sans" font-size="11.55" text-anchor="end" textLength="11.68" lengthAdjust="spacingAndGlyphs" fill="#2a2a2a">20</text>
<text x="122.08" y="905.18" font-family="Liberation Sans" font-size="11.55" text-anchor="end" textLength="11.68" lengthAdjust="spacingAndGlyphs" fill="#2a2a2a">40</text>
<text x="97.52" y="893.42" font-family="Liberation Sans" font-size="11.55" text-anchor="end" textLength="11.68" lengthAdjust="spacingAndGlyphs" fill="#2a2a2a">60</text>
<text x="72.96" y="881.66" font-family="Liberation Sans" font-size="11.55" text-anchor="end" textLength="11.68" lengthAdjust="spacingAndGlyphs" fill="#2a2a2a">80</text>
<text x="48.40" y="869.90" font-family="Liberation Sans" font-size="11.55" text-anchor="end" textLength="17.52" lengthAdjust="spacingAndGlyphs" fill="#2a2a2a">100</text>
<text x="34.50" y="912.70" font-family="Liberation Sans" font-size="8.9" textLength="66.90" lengthAdjust="spacingAndGlyphs" fill="#2a2a2a">B: RCA (% by vol)</text>
<text x="254.20" y="913.10" font-family="Liberation Sans" font-size="8.9" textLength="63.20" lengthAdjust="spacingAndGlyphs" fill="#2a2a2a">A: LCB (% bwoc)</text>
<text x="6.70" y="666.70" font-family="Liberation Sans" font-size="8" textLength="29.00" lengthAdjust="spacingAndGlyphs" fill="#2a2a2a">2.20807</text>
<text x="73.60" y="666.70" font-family="Liberation Sans" font-size="8" textLength="24.40" lengthAdjust="spacingAndGlyphs" fill="#2a2a2a">3.4678</text>
<text x="10.60" y="795.70" font-family="Liberation Sans" font-size="8.3" textLength="39.20" lengthAdjust="spacingAndGlyphs" transform="rotate(-90 10.60 795.70)" fill="#2a2a2a">STS (MPa)</text>
<rect x="39.7" y="657.3" width="30.20" height="12.40" fill="url(#cb)"/>
<text x="91.20" y="961.10" font-family="Liberation Serif" font-size="19.8" textLength="141.40" lengthAdjust="spacingAndGlyphs" fill="#000">(e) STS – 90 days</text>
<path d="M420.5,859.8L412.5,691.1 M449.8,808.7L445.2,683.7 M481.0,798.2L477.9,676.2 M512.2,787.7L510.7,668.8 M543.4,813.9L543.4,661.4 M666.7,859.9L674.8,691.5 M643.6,810.9L648.5,685.5 M618.5,802.5L622.2,679.5 M593.5,794.1L596.0,673.4 M568.4,785.6L569.7,667.4 M418.6,819.2L543.4,777.2 M543.4,777.2L668.6,819.4 M417.6,797.8L543.4,757.9 M543.4,757.9L669.7,798.1 M416.5,776.5L543.4,738.6 M543.4,738.6L670.7,776.7 M415.5,755.1L543.4,719.3 M543.4,719.3L671.7,755.4 M414.5,733.8L543.4,700.0 M543.4,700.0L672.7,734.1 M413.5,712.4L543.4,680.7 M543.4,680.7L673.8,712.8 M412.5,691.1L543.4,661.4 M543.4,661.4L674.8,691.5" stroke="#3a3a3a" stroke-width="0.85" fill="none"/>
<path d="M420.5,859.8L543.3,918.6L666.7,859.9L543.4,813.9Z" fill="#666466" stroke="#2a2a2a" stroke-width="0.8"/>
<path d="M491.6,832.9 L574.7,824.7" stroke="#f08030" stroke-width="1.25" fill="none"/>
<path d="M432.3,854.4 Q519.9,845.7 607.4,837.0" stroke="#f0b420" stroke-width="1.25" fill="none"/>
<path d="M445.6,870.9 Q544.1,858.4 643.2,850.9" stroke="#e0d420" stroke-width="1.25" fill="none"/>
<path d="M476.2,885.6 Q562.1,875.5 648.3,868.2" stroke="#a8cc30" stroke-width="1.25" fill="none"/>
<path d="M508.9,901.6 Q553.6,897.0 598.2,891.7" stroke="#70c040" stroke-width="1.25" fill="none"/>
<circle cx="543.30" cy="918.60" r="1.1" fill="#111"/><circle cx="574.15" cy="903.92" r="1.1" fill="#111"/><circle cx="605.00" cy="889.25" r="1.1" fill="#111"/><circle cx="635.85" cy="874.57" r="1.1" fill="#111"/><circle cx="666.70" cy="859.90" r="1.1" fill="#111"/><circle cx="543.30" cy="918.60" r="1.1" fill="#111"/><circle cx="518.74" cy="906.84" r="1.1" fill="#111"/><circle cx="494.18" cy="895.08" r="1.1" fill="#111"/><circle cx="469.62" cy="883.32" r="1.1" fill="#111"/><circle cx="445.06" cy="871.56" r="1.1" fill="#111"/><circle cx="420.50" cy="859.80" r="1.1" fill="#111"/><circle cx="418.57" cy="819.19" r="1.1" fill="#111"/><circle cx="417.56" cy="797.84" r="1.1" fill="#111"/><circle cx="416.55" cy="776.50" r="1.1" fill="#111"/><circle cx="415.54" cy="755.15" r="1.1" fill="#111"/><circle cx="414.52" cy="733.80" r="1.1" fill="#111"/><circle cx="413.51" cy="712.45" r="1.1" fill="#111"/><circle cx="412.50" cy="691.10" r="1.1" fill="#111"/>
<path d="M543.3,813.3L549.7,809.8L556.1,806.4L562.5,803.0L568.9,799.5L575.3,796.1L581.8,792.7L588.2,789.3L594.6,786.0L601.1,782.6L607.5,779.3L613.9,775.9L620.4,772.6L626.8,769.3L633.3,766.0L639.8,762.7L646.2,759.4L652.7,756.1L659.2,752.9L665.7,749.6L672.2,746.4L665.8,743.2L659.4,740.0L653.0,736.8L646.6,733.7L640.2,730.5L633.8,727.4L627.4,724.3L621.0,721.2L614.6,718.1L608.1,715.0L601.7,712.0L595.2,708.9L588.8,705.9L582.3,702.8L575.8,699.8L569.4,696.8L562.9,693.9L556.4,690.9L549.9,687.9L543.4,685.0L536.9,687.4L530.4,689.7L524.0,692.1L517.5,694.5L511.0,696.9L504.6,699.3L498.1,701.7L491.7,704.1L485.2,706.6L478.8,709.0L472.3,711.4L465.9,713.9L459.5,716.4L453.0,718.8L446.6,721.3L440.2,723.8L433.8,726.3L427.3,728.8L420.9,731.3L414.5,733.8L421.0,737.6L427.5,741.4L434.0,745.2L440.5,749.1L447.0,753.0L453.5,756.8L459.9,760.8L466.4,764.7L472.8,768.6L479.3,772.6L485.7,776.6L492.2,780.6L498.6,784.6L505.0,788.6L511.4,792.7L517.8,796.8L524.2,800.9L530.6,805.0L536.9,809.1Z" fill="#ede21f"/>
<path d="M543.3,813.3L549.7,809.8 543.3,805.7 536.9,809.1ZM549.7,809.8L556.1,806.4 549.7,802.3 543.3,805.7Z" fill="#67c543"/>
<path d="M536.9,809.1L543.3,805.7 537.0,801.6 530.6,805.0ZM556.1,806.4L562.5,803.0 556.1,799.0 549.7,802.3Z" fill="#67c542"/>
<path d="M530.6,805.0L537.0,801.6 530.6,797.6 524.2,800.9ZM543.3,805.7L549.7,802.3 543.4,798.3 537.0,801.6ZM562.5,803.0L568.9,799.5 562.6,795.6 556.1,799.0Z" fill="#67c541"/>
<path d="M524.2,800.9L530.6,797.6 524.2,793.5 517.8,796.8ZM530.6,797.6L537.0,794.3 530.6,790.3 524.2,793.5ZM543.4,798.3L549.8,795.0 543.4,791.0 537.0,794.3ZM562.6,795.6L569.0,792.2 562.6,788.3 556.2,791.6ZM575.3,796.1L581.8,792.7 575.4,788.9 569.0,792.2ZM581.8,792.7L588.2,789.3 581.8,785.5 575.4,788.9Z" fill="#68c63f"/>
<path d="M517.8,796.8L524.2,793.5 517.8,789.5 511.4,792.7ZM549.8,795.0L556.2,791.6 549.8,787.7 543.4,791.0ZM569.0,792.2L575.4,788.9 569.0,785.0 562.6,788.3Z" fill="#68c63e"/>
<path d="M511.4,792.7L517.8,789.5 511.4,785.5 505.0,788.6ZM594.6,786.0L601.1,782.6 594.7,778.9 588.3,782.2Z" fill="#6fc63d"/>
<path d="M505.0,788.6L511.4,785.5 505.0,781.5 498.6,784.6ZM556.2,784.5L562.6,781.2 556.2,777.4 549.8,780.6Z" fill="#78c63c"/>
<path d="M498.6,784.6L505.0,781.5 498.6,777.5 492.2,780.6ZM549.8,780.6L556.2,777.4 549.9,773.6 543.4,776.8ZM601.1,775.6L607.6,772.3 601.2,768.7 594.8,771.9Z" fill="#80c63a"/>
<path d="M492.2,780.6L498.6,777.5 492.1,773.6 485.7,776.6ZM626.8,769.3L633.3,766.0 626.9,762.5 620.5,765.7Z" fill="#8bc938"/>
<path d="M485.7,776.6L492.1,773.6 485.7,769.6 479.3,772.6ZM588.4,768.3L594.8,765.1 588.4,761.5 582.0,764.7Z" fill="#98cc35"/>
<path d="M479.3,772.6L485.7,769.6 479.2,765.7 472.8,768.6Z" fill="#a4d031"/>
<path d="M472.8,768.6L479.2,765.7 472.8,761.8 466.4,764.7Z" fill="#b3d42e"/>
<path d="M466.4,764.7L472.8,761.8 466.3,757.9 459.9,760.8ZM537.0,759.3L543.5,756.3 537.1,752.7 530.6,755.7ZM620.6,752.4L627.1,749.3 620.7,746.0 614.2,749.0Z" fill="#c5d82a"/>
<path d="M459.9,760.8L466.3,757.9 459.9,754.1 453.5,756.8ZM530.6,755.7L537.1,752.7 530.6,749.1 524.2,752.0ZM582.1,751.4L588.5,748.4 582.1,744.9 575.7,747.9Z" fill="#d7dc26"/>
<path d="M453.5,756.8L459.9,754.1 453.4,750.2 447.0,753.0ZM524.2,752.0L530.6,749.1 524.2,745.5 517.7,748.4ZM575.7,747.9L582.1,744.9 575.7,741.5 569.2,744.5Z" fill="#e2df22"/>
<path d="M447.0,753.0L453.4,750.2 446.9,746.4 440.5,749.1Z" fill="#eee21e"/>
<path d="M440.5,749.1L446.9,746.4 440.4,742.6 434.0,745.2ZM459.8,747.5L466.2,744.8 459.7,741.0 453.3,743.7ZM530.6,742.6L537.1,739.8 530.6,736.3 524.2,739.1ZM582.2,738.6L588.6,735.7 582.2,732.3 575.7,735.2Z" fill="#f5e31b"/>
<path d="M434.0,745.2L440.4,742.6 433.9,738.8 427.5,741.4ZM453.3,743.7L459.7,741.0 453.3,737.3 446.8,739.9ZM472.6,742.1L479.1,739.3 472.6,735.7 466.2,738.4ZM524.2,739.1L530.6,736.3 524.2,732.9 517.7,735.6ZM575.7,735.2L582.2,732.3 575.8,729.0 569.3,731.9ZM627.3,730.4L633.8,727.4 627.4,724.3 620.9,727.2Z" fill="#f6e218"/>
<path d="M427.5,741.4L433.9,738.8 427.4,735.0 421.0,737.6ZM446.8,739.9L453.3,737.3 446.8,733.6 440.4,736.2ZM466.2,738.4L472.6,735.7 466.1,732.1 459.7,734.7ZM498.4,737.5L504.8,734.8 498.3,731.3 491.9,734.0ZM517.7,735.6L524.2,732.9 517.7,729.4 511.2,732.1ZM537.0,733.5L543.5,730.8 537.0,727.4 530.6,730.1ZM569.3,731.9L575.8,729.0 569.3,725.8 562.9,728.6ZM588.7,729.5L595.1,726.6 588.7,723.4 582.2,726.2ZM601.6,729.8L608.0,726.9 601.6,723.8 595.1,726.6ZM620.9,727.2L627.4,724.3 621.0,721.2 614.5,724.1Z" fill="#f7e116"/>
<path d="M421.0,737.6L427.4,735.0 420.9,731.3 414.5,733.8Z" fill="#f8db15"/>
<path d="M537.0,801.6L543.4,798.3 537.0,794.3 530.6,797.6ZM556.1,799.0L562.6,795.6 556.2,791.6 549.8,795.0Z" fill="#68c640"/>
<path d="M524.2,793.5L530.6,790.3 524.2,786.3 517.8,789.5Z" fill="#6cc63d"/>
<path d="M517.8,789.5L524.2,786.3 517.8,782.3 511.4,785.5ZM601.1,782.6L607.5,779.3 601.1,775.6 594.7,778.9Z" fill="#74c63c"/>
<path d="M511.4,785.5L517.8,782.3 511.4,778.4 505.0,781.5ZM562.6,781.2L569.1,778.0 562.7,774.2 556.2,777.4ZM594.7,778.9L601.1,775.6 594.8,771.9 588.3,775.2Z" fill="#7cc63b"/>
<path d="M505.0,781.5L511.4,778.4 505.0,774.5 498.6,777.5ZM556.2,777.4L562.7,774.2 556.3,770.5 549.9,773.6Z" fill="#86c739"/>
<path d="M498.6,777.5L505.0,774.5 498.5,770.6 492.1,773.6ZM549.9,773.6L556.3,770.5 549.9,766.7 543.4,769.8ZM633.3,766.0L639.8,762.7 633.4,759.2 626.9,762.5Z" fill="#92cb36"/>
<path d="M492.1,773.6L498.5,770.6 492.1,766.7 485.7,769.6ZM594.8,765.1L601.3,761.9 594.9,758.4 588.4,761.5Z" fill="#9fcf33"/>
<path d="M485.7,769.6L492.1,766.7 485.7,762.8 479.2,765.7Z" fill="#acd230"/>
<path d="M479.2,765.7L485.7,762.8 479.2,758.9 472.8,761.8Z" fill="#bdd62c"/>
<path d="M472.8,761.8L479.2,758.9 472.7,755.1 466.3,757.9ZM627.1,749.3L633.6,746.2 627.2,742.9 620.7,746.0ZM659.3,746.4L665.8,743.2 659.4,740.0 652.9,743.2Z" fill="#cfda28"/>
<path d="M466.3,757.9L472.7,755.1 466.3,751.3 459.9,754.1ZM537.1,752.7L543.5,749.8 537.1,746.2 530.6,749.1ZM620.7,746.0L627.2,742.9 620.8,739.6 614.3,742.6Z" fill="#ddde24"/>
<path d="M459.9,754.1L466.3,751.3 459.8,747.5 453.4,750.2ZM530.6,749.1L537.1,746.2 530.6,742.6 524.2,745.5ZM582.1,744.9L588.6,741.9 582.2,738.6 575.7,741.5Z" fill="#e9e120"/>
<path d="M453.4,750.2L459.8,747.5 453.3,743.7 446.9,746.4ZM472.7,748.5L479.1,745.8 472.6,742.1 466.2,744.8ZM492.0,746.7L498.4,743.9 492.0,740.3 485.5,743.0ZM543.5,743.3L549.9,740.4 543.5,737.0 537.1,739.8ZM595.0,739.0L601.5,736.0 595.1,732.7 588.6,735.7ZM627.3,736.6L633.7,733.5 627.3,730.4 620.9,733.3Z" fill="#f5e41c"/>
<path d="M446.9,746.4L453.3,743.7 446.8,739.9 440.4,742.6ZM479.1,745.8L485.5,743.0 479.1,739.3 472.6,742.1ZM498.4,743.9L504.8,741.1 498.4,737.5 492.0,740.3ZM517.7,741.9L524.2,739.1 517.7,735.6 511.3,738.4ZM549.9,740.4L556.4,737.6 549.9,734.2 543.5,737.0ZM569.3,738.1L575.7,735.2 569.3,731.9 562.8,734.7ZM601.5,736.0L608.0,733.1 601.6,729.8 595.1,732.7ZM620.9,733.3L627.3,730.4 620.9,727.2 614.4,730.1ZM633.7,733.5L640.2,730.5 633.8,727.4 627.3,730.4Z" fill="#f6e31a"/>
<path d="M440.4,742.6L446.8,739.9 440.4,736.2 433.9,738.8ZM511.3,738.4L517.7,735.6 511.2,732.1 504.8,734.8ZM530.6,736.3L537.0,733.5 530.6,730.1 524.2,732.9ZM582.2,732.3L588.7,729.5 582.2,726.2 575.8,729.0ZM614.4,730.1L620.9,727.2 614.5,724.1 608.0,726.9Z" fill="#f7e217"/>
<path d="M433.9,738.8L440.4,736.2 433.9,732.5 427.4,735.0ZM504.8,734.8L511.2,732.1 504.8,728.6 498.3,731.3ZM524.2,732.9L530.6,730.1 524.1,726.7 517.7,729.4ZM575.8,729.0L582.2,726.2 575.8,723.0 569.3,725.8Z" fill="#f8e015"/>
<path d="M427.4,735.0L433.9,732.5 427.3,728.8 420.9,731.3Z" fill="#f6cf18"/>
<path d="M549.7,802.3L556.1,799.0 549.8,795.0 543.4,798.3ZM568.9,799.5L575.3,796.1 569.0,792.2 562.6,795.6Z" fill="#67c540"/>
<path d="M537.0,794.3L543.4,791.0 537.0,787.0 530.6,790.3Z" fill="#69c63e"/>
<path d="M530.6,790.3L537.0,787.0 530.6,783.1 524.2,786.3Z" fill="#71c63d"/>
<path d="M524.2,786.3L530.6,783.1 524.2,779.2 517.8,782.3ZM575.4,781.7L581.9,778.5 575.5,774.7 569.1,778.0ZM607.5,779.3L613.9,775.9 607.6,772.3 601.1,775.6Z" fill="#79c63b"/>
<path d="M517.8,782.3L524.2,779.2 517.8,775.3 511.4,778.4ZM569.1,778.0L575.5,774.7 569.1,771.0 562.7,774.2Z" fill="#81c63a"/>
<path d="M511.4,778.4L517.8,775.3 511.4,771.4 505.0,774.5ZM562.7,774.2L569.1,771.0 562.7,767.3 556.3,770.5Z" fill="#8dc937"/>
<path d="M505.0,774.5L511.4,771.4 504.9,767.6 498.5,770.6ZM556.3,770.5L562.7,767.3 556.3,763.6 549.9,766.7Z" fill="#99cd34"/>
<path d="M498.5,770.6L504.9,767.6 498.5,763.7 492.1,766.7ZM633.4,759.2L639.9,756.0 633.5,752.6 627.0,755.8Z" fill="#a6d131"/>
<path d="M492.1,766.7L498.5,763.7 492.1,759.9 485.7,762.8ZM594.9,758.4L601.3,755.3 594.9,751.8 588.5,754.9Z" fill="#b6d52d"/>
<path d="M485.7,762.8L492.1,759.9 485.6,756.1 479.2,758.9Z" fill="#c7d82a"/>
<path d="M479.2,758.9L485.6,756.1 479.2,752.3 472.7,755.1Z" fill="#d8dc26"/>
<path d="M472.7,755.1L479.2,752.3 472.7,748.5 466.3,751.3ZM543.5,749.8L549.9,746.8 543.5,743.3 537.1,746.2ZM627.2,742.9L633.7,739.8 627.3,736.6 620.8,739.6Z" fill="#e4df22"/>
<path d="M466.3,751.3L472.7,748.5 466.2,744.8 459.8,747.5ZM537.1,746.2L543.5,743.3 537.1,739.8 530.6,742.6ZM620.8,739.6L627.3,736.6 620.9,733.3 614.4,736.3Z" fill="#efe21e"/>
<path d="M440.4,736.2L446.8,733.6 440.3,729.9 433.9,732.5ZM530.6,730.1L537.0,727.4 530.6,724.0 524.1,726.7ZM582.2,726.2L588.7,723.4 582.3,720.2 575.8,723.0Z" fill="#f7d916"/>
<path d="M433.9,732.5L440.3,729.9 433.8,726.3 427.3,728.8ZM524.1,726.7L530.6,724.0 524.1,720.7 517.7,723.3Z" fill="#f5c31b"/>
<path d="M543.4,791.0L549.8,787.7 543.4,783.8 537.0,787.0Z" fill="#6ec63d"/>
<path d="M537.0,787.0L543.4,783.8 537.0,779.9 530.6,783.1Z" fill="#76c63c"/>
<path d="M530.6,783.1L537.0,779.9 530.6,776.1 524.2,779.2ZM581.9,778.5L588.3,775.2 581.9,771.5 575.5,774.7ZM613.9,775.9L620.4,772.6 614.0,769.0 607.6,772.3Z" fill="#7ec63b"/>
<path d="M524.2,779.2L530.6,776.1 524.2,772.2 517.8,775.3Z" fill="#88c839"/>
<path d="M517.8,775.3L524.2,772.2 517.8,768.4 511.4,771.4Z" fill="#94cb35"/>
<path d="M511.4,771.4L517.8,768.4 511.4,764.6 504.9,767.6ZM562.7,767.3L569.1,764.2 562.7,760.6 556.3,763.6Z" fill="#a1cf32"/>
<path d="M504.9,767.6L511.4,764.6 504.9,760.8 498.5,763.7ZM556.3,763.6L562.7,760.6 556.3,756.9 549.9,760.0Z" fill="#aed32f"/>
<path d="M498.5,763.7L504.9,760.8 498.5,757.0 492.1,759.9ZM601.3,755.3L607.8,752.2 601.4,748.7 594.9,751.8Z" fill="#c0d72b"/>
<path d="M492.1,759.9L498.5,757.0 492.0,753.2 485.6,756.1ZM594.9,751.8L601.4,748.7 595.0,745.3 588.5,748.4Z" fill="#d1db27"/>
<path d="M485.6,756.1L492.0,753.2 485.6,749.5 479.2,752.3Z" fill="#dfde23"/>
<path d="M479.2,752.3L485.6,749.5 479.1,745.8 472.7,748.5Z" fill="#eae120"/>
<path d="M466.2,744.8L472.6,742.1 466.2,738.4 459.7,741.0ZM485.5,743.0L492.0,740.3 485.5,736.7 479.1,739.3ZM537.1,739.8L543.5,737.0 537.0,733.5 530.6,736.3ZM588.6,735.7L595.1,732.7 588.7,729.5 582.2,732.3Z" fill="#f6e319"/>
<path d="M459.7,741.0L466.2,738.4 459.7,734.7 453.3,737.3ZM479.1,739.3L485.5,736.7 479.0,733.1 472.6,735.7ZM549.9,734.2L556.4,731.4 550.0,728.0 543.5,730.8Z" fill="#f7e117"/>
<path d="M453.3,737.3L459.7,734.7 453.2,731.0 446.8,733.6ZM472.6,735.7L479.0,733.1 472.5,729.5 466.1,732.1ZM543.5,730.8L550.0,728.0 543.5,724.7 537.0,727.4ZM595.1,726.6L601.6,723.8 595.2,720.6 588.7,723.4Z" fill="#f8e014"/>
<path d="M446.8,733.6L453.2,731.0 446.7,727.4 440.3,729.9Z" fill="#f6cd18"/>
<path d="M440.3,729.9L446.7,727.4 440.2,723.8 433.8,726.3ZM530.6,724.0L537.0,721.3 530.6,718.0 524.1,720.7ZM582.3,720.2L588.7,717.4 582.3,714.3 575.8,717.0Z" fill="#f4b71d"/>
<path d="M556.2,791.6L562.6,788.3 556.2,784.5 549.8,787.7Z" fill="#6bc63e"/>
<path d="M549.8,787.7L556.2,784.5 549.8,780.6 543.4,783.8Z" fill="#73c63c"/>
<path d="M543.4,783.8L549.8,780.6 543.4,776.8 537.0,779.9Z" fill="#7bc63b"/>
<path d="M537.0,779.9L543.4,776.8 537.0,772.9 530.6,776.1ZM620.4,772.6L626.8,769.3 620.5,765.7 614.0,769.0Z" fill="#83c63a"/>
<path d="M530.6,776.1L537.0,772.9 530.6,769.1 524.2,772.2ZM614.0,769.0L620.5,765.7 614.1,762.2 607.6,765.5Z" fill="#8fca37"/>
<path d="M524.2,772.2L530.6,769.1 524.2,765.4 517.8,768.4ZM575.5,767.8L582.0,764.7 575.6,761.1 569.1,764.2Z" fill="#9cce34"/>
<path d="M517.8,768.4L524.2,765.4 517.8,761.6 511.4,764.6ZM569.1,764.2L575.6,761.1 569.2,757.5 562.7,760.6Z" fill="#a8d131"/>
<path d="M511.4,764.6L517.8,761.6 511.3,757.8 504.9,760.8ZM562.7,760.6L569.2,757.5 562.8,753.9 556.3,756.9Z" fill="#b8d52d"/>
<path d="M504.9,760.8L511.3,757.8 504.9,754.1 498.5,757.0ZM640.0,749.5L646.4,746.3 640.1,743.0 633.6,746.2Z" fill="#cad929"/>
<path d="M498.5,757.0L504.9,754.1 498.4,750.4 492.0,753.2ZM601.4,748.7L607.9,745.7 601.4,742.3 595.0,745.3Z" fill="#dadd25"/>
<path d="M492.0,753.2L498.4,750.4 492.0,746.7 485.6,749.5ZM595.0,745.3L601.4,742.3 595.0,739.0 588.6,741.9Z" fill="#e5e021"/>
<path d="M485.6,749.5L492.0,746.7 485.5,743.0 479.1,745.8Z" fill="#f1e31d"/>
<path d="M459.7,734.7L466.1,732.1 459.6,728.5 453.2,731.0Z" fill="#f7d816"/>
<path d="M453.2,731.0L459.6,728.5 453.1,724.9 446.7,727.4Z" fill="#f5c11b"/>
<path d="M446.7,727.4L453.1,724.9 446.6,721.3 440.2,723.8ZM537.0,721.3L543.5,718.7 537.0,715.4 530.6,718.0ZM588.7,717.4L595.2,714.7 588.8,711.6 582.3,714.3Z" fill="#f3ae1e"/>
<path d="M562.6,788.3L569.0,785.0 562.6,781.2 556.2,784.5Z" fill="#70c63d"/>
<path d="M543.4,776.8L549.9,773.6 543.4,769.8 537.0,772.9Z" fill="#8ac938"/>
<path d="M537.0,772.9L543.4,769.8 537.0,766.1 530.6,769.1ZM620.5,765.7L626.9,762.5 620.6,759.0 614.1,762.2Z" fill="#97cc35"/>
<path d="M530.6,769.1L537.0,766.1 530.6,762.3 524.2,765.4ZM582.0,764.7L588.4,761.5 582.0,758.0 575.6,761.1Z" fill="#a3d032"/>
<path d="M524.2,765.4L530.6,762.3 524.2,758.6 517.8,761.6Z" fill="#b1d42e"/>
<path d="M517.8,761.6L524.2,758.6 517.8,754.9 511.3,757.8ZM569.2,757.5L575.6,754.4 569.2,750.9 562.8,753.9Z" fill="#c2d72b"/>
<path d="M511.3,757.8L517.8,754.9 511.3,751.2 504.9,754.1ZM646.4,746.3L652.9,743.2 646.5,739.9 640.1,743.0Z" fill="#d4db27"/>
<path d="M504.9,754.1L511.3,751.2 504.9,747.6 498.4,750.4ZM556.4,750.4L562.8,747.4 556.4,743.9 549.9,746.8ZM640.1,743.0L646.5,739.9 640.1,736.7 633.7,739.8Z" fill="#e0de23"/>
<path d="M498.4,750.4L504.9,747.6 498.4,743.9 492.0,746.7ZM601.4,742.3L607.9,739.3 601.5,736.0 595.0,739.0Z" fill="#ece21f"/>
<path d="M466.1,732.1L472.5,729.5 466.0,725.9 459.6,728.5Z" fill="#f6cb19"/>
<path d="M459.6,728.5L466.0,725.9 459.5,722.4 453.1,724.9Z" fill="#f4b51e"/>
<path d="M453.1,724.9L459.5,722.4 453.0,718.8 446.6,721.3Z" fill="#f3a71f"/>
<path d="M575.4,788.9L581.8,785.5 575.4,781.7 569.0,785.0Z" fill="#6dc63d"/>
<path d="M569.0,785.0L575.4,781.7 569.1,778.0 562.6,781.2Z" fill="#75c63c"/>
<path d="M543.4,769.8L549.9,766.7 543.5,763.0 537.0,766.1ZM626.9,762.5L633.4,759.2 627.0,755.8 620.6,759.0Z" fill="#9ece33"/>
<path d="M537.0,766.1L543.5,763.0 537.0,759.3 530.6,762.3ZM620.6,759.0L627.0,755.8 620.6,752.4 614.2,755.6ZM652.7,756.1L659.2,752.9 652.8,749.6 646.3,752.8Z" fill="#aad230"/>
<path d="M530.6,762.3L537.0,759.3 530.6,755.7 524.2,758.6Z" fill="#bbd62c"/>
<path d="M524.2,758.6L530.6,755.7 524.2,752.0 517.8,754.9Z" fill="#ccda28"/>
<path d="M517.8,754.9L524.2,752.0 517.7,748.4 511.3,751.2ZM569.2,750.9L575.7,747.9 569.2,744.5 562.8,747.4Z" fill="#dbdd25"/>
<path d="M511.3,751.2L517.7,748.4 511.3,744.7 504.9,747.6ZM646.5,739.9L653.0,736.8 646.6,733.7 640.1,736.7Z" fill="#e7e021"/>
<path d="M504.9,747.6L511.3,744.7 504.8,741.1 498.4,743.9ZM556.4,743.9L562.8,741.0 556.4,737.6 549.9,740.4ZM640.1,736.7L646.6,733.7 640.2,730.5 633.7,733.5Z" fill="#f2e31d"/>
<path d="M492.0,740.3L498.4,737.5 491.9,734.0 485.5,736.7ZM543.5,737.0L549.9,734.2 543.5,730.8 537.0,733.5ZM562.8,734.7L569.3,731.9 562.9,728.6 556.4,731.4ZM595.1,732.7L601.6,729.8 595.1,726.6 588.7,729.5Z" fill="#f7e218"/>
<path d="M485.5,736.7L491.9,734.0 485.4,730.4 479.0,733.1ZM556.4,731.4L562.9,728.6 556.4,725.2 550.0,728.0ZM608.0,726.9L614.5,724.1 608.1,720.9 601.6,723.8Z" fill="#f8e115"/>
<path d="M479.0,733.1L485.4,730.4 478.9,726.9 472.5,729.5Z" fill="#f7d616"/>
<path d="M472.5,729.5L478.9,726.9 472.5,723.3 466.0,725.9ZM595.2,720.6L601.6,717.8 595.2,714.7 588.7,717.4Z" fill="#f5bf1b"/>
<path d="M466.0,725.9L472.5,723.3 466.0,719.8 459.5,722.4Z" fill="#f3ad1e"/>
<path d="M459.5,722.4L466.0,719.8 459.5,716.4 453.0,718.8ZM550.0,716.0L556.4,713.4 549.9,710.2 543.5,712.8Z" fill="#f29f1f"/>
<path d="M588.2,789.3L594.6,786.0 588.3,782.2 581.8,785.5Z" fill="#6ac63e"/>
<path d="M581.8,785.5L588.3,782.2 581.9,778.5 575.4,781.7Z" fill="#72c63d"/>
<path d="M549.9,766.7L556.3,763.6 549.9,760.0 543.5,763.0Z" fill="#a5d131"/>
<path d="M543.5,763.0L549.9,760.0 543.5,756.3 537.0,759.3ZM627.0,755.8L633.5,752.6 627.1,749.3 620.6,752.4ZM659.2,752.9L665.7,749.6 659.3,746.4 652.8,749.6Z" fill="#b4d42e"/>
<path d="M517.7,748.4L524.2,745.5 517.7,741.9 511.3,744.7ZM569.2,744.5L575.7,741.5 569.3,738.1 562.8,741.0Z" fill="#ede21f"/>
<path d="M511.3,744.7L517.7,741.9 511.3,738.4 504.8,741.1ZM562.8,741.0L569.3,738.1 562.8,734.7 556.4,737.6ZM614.4,736.3L620.9,733.3 614.4,730.1 608.0,733.1Z" fill="#f5e41b"/>
<path d="M504.8,741.1L511.3,738.4 504.8,734.8 498.4,737.5ZM556.4,737.6L562.8,734.7 556.4,731.4 549.9,734.2ZM608.0,733.1L614.4,730.1 608.0,726.9 601.6,729.8Z" fill="#f6e219"/>
<path d="M491.9,734.0L498.3,731.3 491.9,727.8 485.4,730.4Z" fill="#f8df14"/>
<path d="M485.4,730.4L491.9,727.8 485.4,724.3 478.9,726.9Z" fill="#f6c919"/>
<path d="M478.9,726.9L485.4,724.3 478.9,720.8 472.5,723.3ZM550.0,721.9L556.4,719.2 550.0,716.0 543.5,718.7ZM601.6,717.8L608.1,715.0 601.7,712.0 595.2,714.7Z" fill="#f4b31e"/>
<path d="M472.5,723.3L478.9,720.8 472.4,717.3 466.0,719.8ZM543.5,718.7L550.0,716.0 543.5,712.8 537.0,715.4ZM595.2,714.7L601.7,712.0 595.2,708.9 588.8,711.6Z" fill="#f3a61f"/>
<path d="M466.0,719.8L472.4,717.3 465.9,713.9 459.5,716.4Z" fill="#f2981f"/>
<path d="M588.3,782.2L594.7,778.9 588.3,775.2 581.9,778.5Z" fill="#77c63c"/>
<path d="M575.5,774.7L581.9,771.5 575.5,767.8 569.1,771.0Z" fill="#88c838"/>
<path d="M569.1,771.0L575.5,767.8 569.1,764.2 562.7,767.3Z" fill="#95cc35"/>
<path d="M549.9,760.0L556.3,756.9 549.9,753.3 543.5,756.3ZM633.5,752.6L640.0,749.5 633.6,746.2 627.1,749.3ZM665.7,749.6L672.2,746.4 665.8,743.2 659.3,746.4Z" fill="#bfd72b"/>
<path d="M543.5,756.3L549.9,753.3 543.5,749.8 537.1,752.7Z" fill="#d0da28"/>
<path d="M524.2,745.5L530.6,742.6 524.2,739.1 517.7,741.9ZM575.7,741.5L582.2,738.6 575.7,735.2 569.3,738.1Z" fill="#f4e41c"/>
<path d="M498.3,731.3L504.8,728.6 498.3,725.1 491.9,727.8Z" fill="#f7d317"/>
<path d="M491.9,727.8L498.3,725.1 491.8,721.7 485.4,724.3Z" fill="#f5bd1c"/>
<path d="M485.4,724.3L491.8,721.7 485.3,718.3 478.9,720.8ZM556.4,719.2L562.9,716.6 556.4,713.4 550.0,716.0Z" fill="#f3ac1e"/>
<path d="M478.9,720.8L485.3,718.3 478.8,714.8 472.4,717.3Z" fill="#f29e1f"/>
<path d="M472.4,717.3L478.8,714.8 472.3,711.4 465.9,713.9ZM543.5,712.8L549.9,710.2 543.5,707.0 537.0,709.6Z" fill="#f19120"/>
<path d="M588.3,775.2L594.8,771.9 588.4,768.3 581.9,771.5Z" fill="#84c739"/>
<path d="M581.9,771.5L588.4,768.3 582.0,764.7 575.5,767.8Z" fill="#90ca37"/>
<path d="M556.3,756.9L562.8,753.9 556.4,750.4 549.9,753.3Z" fill="#c9d929"/>
<path d="M549.9,753.3L556.4,750.4 549.9,746.8 543.5,749.8Z" fill="#d9dc25"/>
<path d="M511.2,732.1L517.7,729.4 511.2,726.0 504.8,728.6ZM614.5,724.1L621.0,721.2 614.6,718.1 608.1,720.9Z" fill="#f8dc15"/>
<path d="M504.8,728.6L511.2,726.0 504.7,722.5 498.3,725.1Z" fill="#f6c61a"/>
<path d="M498.3,725.1L504.7,722.5 498.3,719.1 491.8,721.7Z" fill="#f4b21e"/>
<path d="M491.8,721.7L498.3,719.1 491.8,715.7 485.3,718.3ZM562.9,716.6L569.3,713.9 562.9,710.7 556.4,713.4Z" fill="#f3a41f"/>
<path d="M485.3,718.3L491.8,715.7 485.3,712.4 478.8,714.8ZM556.4,713.4L562.9,710.7 556.4,707.6 549.9,710.2Z" fill="#f1971f"/>
<path d="M478.8,714.8L485.3,712.4 478.8,709.0 472.3,711.4Z" fill="#f08920"/>
<path d="M594.8,771.9L601.2,768.7 594.8,765.1 588.4,768.3Z" fill="#8cc938"/>
<path d="M575.6,761.1L582.0,758.0 575.6,754.4 569.2,757.5Z" fill="#b2d42e"/>
<path d="M562.8,753.9L569.2,750.9 562.8,747.4 556.4,750.4Z" fill="#d3db27"/>
<path d="M549.9,746.8L556.4,743.9 549.9,740.4 543.5,743.3ZM633.7,739.8L640.1,736.7 633.7,733.5 627.3,736.6Z" fill="#ebe11f"/>
<path d="M517.7,729.4L524.1,726.7 517.7,723.3 511.2,726.0Z" fill="#f7d018"/>
<path d="M511.2,726.0L517.7,723.3 511.2,719.9 504.7,722.5Z" fill="#f5ba1d"/>
<path d="M504.7,722.5L511.2,719.9 504.7,716.6 498.3,719.1Z" fill="#f3aa1e"/>
<path d="M498.3,719.1L504.7,716.6 498.2,713.2 491.8,715.7Z" fill="#f29d1f"/>
<path d="M491.8,715.7L498.2,713.2 491.7,709.9 485.3,712.4ZM562.9,710.7L569.4,708.1 562.9,705.0 556.4,707.6Z" fill="#f18f20"/>
<path d="M485.3,712.4L491.7,709.9 485.2,706.6 478.8,709.0ZM556.4,707.6L562.9,705.0 556.4,701.9 549.9,704.5Z" fill="#ef8220"/>
<path d="M607.6,772.3L614.0,769.0 607.6,765.5 601.2,768.7Z" fill="#87c839"/>
<path d="M601.2,768.7L607.6,765.5 601.3,761.9 594.8,765.1Z" fill="#93cb36"/>
<path d="M588.4,761.5L594.9,758.4 588.5,754.9 582.0,758.0Z" fill="#abd230"/>
<path d="M582.0,758.0L588.5,754.9 582.1,751.4 575.6,754.4Z" fill="#bcd62c"/>
<path d="M575.6,754.4L582.1,751.4 575.7,747.9 569.2,750.9Z" fill="#cdda28"/>
<path d="M562.8,747.4L569.2,744.5 562.8,741.0 556.4,743.9Z" fill="#e6e021"/>
<path d="M517.7,723.3L524.1,720.7 517.6,717.3 511.2,719.9Z" fill="#f4b01e"/>
<path d="M511.2,719.9L517.6,717.3 511.2,714.0 504.7,716.6Z" fill="#f2a31f"/>
<path d="M504.7,716.6L511.2,714.0 504.7,710.7 498.2,713.2Z" fill="#f1951f"/>
<path d="M498.2,713.2L504.7,710.7 498.2,707.4 491.7,709.9Z" fill="#f08820"/>
<path d="M491.7,709.9L498.2,707.4 491.7,704.1 485.2,706.6ZM562.9,705.0L569.4,702.4 562.9,699.4 556.4,701.9Z" fill="#ef7b20"/>
<path d="M607.6,765.5L614.1,762.2 607.7,758.7 601.3,761.9Z" fill="#9bcd34"/>
<path d="M601.3,761.9L607.7,758.7 601.3,755.3 594.9,758.4Z" fill="#a7d131"/>
<path d="M588.5,754.9L594.9,751.8 588.5,748.4 582.1,751.4Z" fill="#c6d82a"/>
<path d="M537.0,727.4L543.5,724.7 537.0,721.3 530.6,724.0ZM588.7,723.4L595.2,720.6 588.7,717.4 582.3,720.2Z" fill="#f6cc18"/>
<path d="M524.1,720.7L530.6,718.0 524.1,714.7 517.6,717.3Z" fill="#f3a81f"/>
<path d="M517.6,717.3L524.1,714.7 517.6,711.5 511.2,714.0Z" fill="#f29b1f"/>
<path d="M511.2,714.0L517.6,711.5 511.1,708.2 504.7,710.7Z" fill="#f18e20"/>
<path d="M504.7,710.7L511.1,708.2 504.6,704.9 498.2,707.4Z" fill="#ef8120"/>
<path d="M498.2,707.4L504.6,704.9 498.1,701.7 491.7,704.1Z" fill="#ee7420"/>
<path d="M614.1,762.2L620.6,759.0 614.2,755.6 607.7,758.7ZM646.2,759.4L652.7,756.1 646.3,752.8 639.9,756.0Z" fill="#a2d032"/>
<path d="M607.7,758.7L614.2,755.6 607.8,752.2 601.3,755.3Z" fill="#b0d32f"/>
<path d="M588.5,748.4L595.0,745.3 588.6,741.9 582.1,744.9Z" fill="#dede24"/>
<path d="M550.0,728.0L556.4,725.2 550.0,721.9 543.5,724.7Z" fill="#f7d516"/>
<path d="M543.5,724.7L550.0,721.9 543.5,718.7 537.0,721.3Z" fill="#f5c01b"/>
<path d="M530.6,718.0L537.0,715.4 530.5,712.2 524.1,714.7ZM582.3,714.3L588.8,711.6 582.3,708.5 575.8,711.2Z" fill="#f2a11f"/>
<path d="M524.1,714.7L530.5,712.2 524.1,708.9 517.6,711.5ZM575.8,711.2L582.3,708.5 575.8,705.5 569.4,708.1Z" fill="#f1941f"/>
<path d="M517.6,711.5L524.1,708.9 517.6,705.7 511.1,708.2Z" fill="#f08620"/>
<path d="M511.1,708.2L517.6,705.7 511.1,702.5 504.6,704.9Z" fill="#ee7920"/>
<path d="M504.6,704.9L511.1,702.5 504.6,699.3 498.1,701.7Z" fill="#ed6d20"/>
<path d="M614.2,755.6L620.6,752.4 614.2,749.0 607.8,752.2Z" fill="#bad62c"/>
<path d="M607.8,752.2L614.2,749.0 607.9,745.7 601.4,748.7Z" fill="#cbd929"/>
<path d="M588.6,741.9L595.0,739.0 588.6,735.7 582.2,738.6Z" fill="#f0e31e"/>
<path d="M562.9,728.6L569.3,725.8 562.9,722.5 556.4,725.2Z" fill="#f8de14"/>
<path d="M556.4,725.2L562.9,722.5 556.4,719.2 550.0,721.9Z" fill="#f6c819"/>
<path d="M537.0,715.4L543.5,712.8 537.0,709.6 530.5,712.2ZM588.8,711.6L595.2,708.9 588.8,705.9 582.3,708.5Z" fill="#f2991f"/>
<path d="M530.5,712.2L537.0,709.6 530.5,706.4 524.1,708.9ZM582.3,708.5L588.8,705.9 582.3,702.8 575.8,705.5Z" fill="#f08c20"/>
<path d="M524.1,708.9L530.5,706.4 524.0,703.2 517.6,705.7Z" fill="#ef7f20"/>
<path d="M517.6,705.7L524.0,703.2 517.5,700.0 511.1,702.5Z" fill="#ee7220"/>
<path d="M511.1,702.5L517.5,700.0 511.0,696.9 504.6,699.3Z" fill="#ec6520"/>
<path d="M639.8,762.7L646.2,759.4 639.9,756.0 633.4,759.2Z" fill="#9acd34"/>
<path d="M614.2,749.0L620.7,746.0 614.3,742.6 607.9,745.7Z" fill="#d5dc26"/>
<path d="M607.9,745.7L614.3,742.6 607.9,739.3 601.4,742.3Z" fill="#e1df23"/>
<path d="M569.3,725.8L575.8,723.0 569.3,719.8 562.9,722.5Z" fill="#f7d117"/>
<path d="M562.9,722.5L569.3,719.8 562.9,716.6 556.4,719.2Z" fill="#f5bc1c"/>
<path d="M537.0,709.6L543.5,707.0 537.0,703.9 530.5,706.4Z" fill="#f08420"/>
<path d="M530.5,706.4L537.0,703.9 530.5,700.7 524.0,703.2Z" fill="#ee7820"/>
<path d="M524.0,703.2L530.5,700.7 524.0,697.6 517.5,700.0Z" fill="#ed6b20"/>
<path d="M517.5,700.0L524.0,697.6 517.5,694.5 511.0,696.9Z" fill="#eb5d1f"/>
<path d="M639.9,756.0L646.3,752.8 640.0,749.5 633.5,752.6Z" fill="#afd32f"/>
<path d="M614.3,742.6L620.8,739.6 614.4,736.3 607.9,739.3Z" fill="#e8e020"/>
<path d="M607.9,739.3L614.4,736.3 608.0,733.1 601.5,736.0Z" fill="#f3e31d"/>
<path d="M575.8,723.0L582.3,720.2 575.8,717.0 569.3,719.8Z" fill="#f5c41a"/>
<path d="M569.3,719.8L575.8,717.0 569.3,713.9 562.9,716.6Z" fill="#f4b11e"/>
<path d="M549.9,710.2L556.4,707.6 549.9,704.5 543.5,707.0Z" fill="#f08a20"/>
<path d="M543.5,707.0L549.9,704.5 543.5,701.4 537.0,703.9Z" fill="#ef7d20"/>
<path d="M537.0,703.9L543.5,701.4 537.0,698.3 530.5,700.7Z" fill="#ed7020"/>
<path d="M530.5,700.7L537.0,698.3 530.5,695.2 524.0,697.6Z" fill="#ec6420"/>
<path d="M524.0,697.6L530.5,695.2 524.0,692.1 517.5,694.5Z" fill="#e9541f"/>
<path d="M646.3,752.8L652.8,749.6 646.4,746.3 640.0,749.5Z" fill="#bad52d"/>
<path d="M633.6,746.2L640.1,743.0 633.7,739.8 627.2,742.9Z" fill="#d9dd25"/>
<path d="M575.8,717.0L582.3,714.3 575.8,711.2 569.3,713.9Z" fill="#f3a91e"/>
<path d="M569.3,713.9L575.8,711.2 569.4,708.1 562.9,710.7Z" fill="#f29c1f"/>
<path d="M549.9,704.5L556.4,701.9 549.9,698.8 543.5,701.4Z" fill="#ee7620"/>
<path d="M543.5,701.4L549.9,698.8 543.4,695.8 537.0,698.3Z" fill="#ed6920"/>
<path d="M537.0,698.3L543.4,695.8 536.9,692.8 530.5,695.2Z" fill="#ea5b1f"/>
<path d="M530.5,695.2L536.9,692.8 530.4,689.7 524.0,692.1Z" fill="#e74c1e"/>
<path d="M652.8,749.6L659.3,746.4 652.9,743.2 646.4,746.3Z" fill="#c4d82a"/>
<path d="M601.6,723.8L608.1,720.9 601.6,717.8 595.2,720.6Z" fill="#f7d417"/>
<path d="M569.4,708.1L575.8,705.5 569.4,702.4 562.9,705.0Z" fill="#f08720"/>
<path d="M556.4,701.9L562.9,699.4 556.4,696.4 549.9,698.8Z" fill="#ed6e20"/>
<path d="M549.9,698.8L556.4,696.4 549.9,693.3 543.4,695.8Z" fill="#eb6120"/>
<path d="M543.4,695.8L549.9,693.3 543.4,690.3 536.9,692.8Z" fill="#e9521e"/>
<path d="M536.9,692.8L543.4,690.3 536.9,687.4 530.4,689.7Z" fill="#e6431d"/>
<path d="M652.9,743.2L659.4,740.0 653.0,736.8 646.5,739.9Z" fill="#dcdd24"/>
<path d="M608.1,720.9L614.6,718.1 608.1,715.0 601.6,717.8Z" fill="#f6c71a"/>
<path d="M575.8,705.5L582.3,702.8 575.8,699.8 569.4,702.4Z" fill="#ef8020"/>
<path d="M569.4,702.4L575.8,699.8 569.4,696.8 562.9,699.4Z" fill="#ee7320"/>
<path d="M562.9,699.4L569.4,696.8 562.9,693.9 556.4,696.4Z" fill="#ec6720"/>
<path d="M556.4,696.4L562.9,693.9 556.4,690.9 549.9,693.3Z" fill="#ea591f"/>
<path d="M549.9,693.3L556.4,690.9 549.9,687.9 543.4,690.3Z" fill="#e74a1d"/>
<path d="M543.4,690.3L549.9,687.9 543.4,685.0 536.9,687.4Z" fill="#e43b1c"/>
<path d="M543.3,813.3L536.9,809.1L530.6,805.0L524.2,800.9L517.8,796.8L511.4,792.7L505.0,788.6L498.6,784.6L492.2,780.6L485.7,776.6L479.3,772.6L472.8,768.6L466.4,764.7L459.9,760.8L453.5,756.8L447.0,753.0L440.5,749.1L434.0,745.2L427.5,741.4L421.0,737.6L414.5,733.8 M543.3,813.3L549.7,809.8L556.1,806.4L562.5,803.0L568.9,799.5L575.3,796.1L581.8,792.7L588.2,789.3L594.6,786.0L601.1,782.6L607.5,779.3L613.9,775.9L620.4,772.6L626.8,769.3L633.3,766.0L639.8,762.7L646.2,759.4L652.7,756.1L659.2,752.9L665.7,749.6L672.2,746.4 M549.7,809.8L543.3,805.7L537.0,801.6L530.6,797.6L524.2,793.5L517.8,789.5L511.4,785.5L505.0,781.5L498.6,777.5L492.1,773.6L485.7,769.6L479.2,765.7L472.8,761.8L466.3,757.9L459.9,754.1L453.4,750.2L446.9,746.4L440.4,742.6L433.9,738.8L427.4,735.0L420.9,731.3 M536.9,809.1L543.3,805.7L549.7,802.3L556.1,799.0L562.6,795.6L569.0,792.2L575.4,788.9L581.8,785.5L588.3,782.2L594.7,778.9L601.1,775.6L607.6,772.3L614.0,769.0L620.5,765.7L626.9,762.5L633.4,759.2L639.9,756.0L646.3,752.8L652.8,749.6L659.3,746.4L665.8,743.2 M556.1,806.4L549.7,802.3L543.4,798.3L537.0,794.3L530.6,790.3L524.2,786.3L517.8,782.3L511.4,778.4L505.0,774.5L498.5,770.6L492.1,766.7L485.7,762.8L479.2,758.9L472.7,755.1L466.3,751.3L459.8,747.5L453.3,743.7L446.8,739.9L440.4,736.2L433.9,732.5L427.3,728.8 M530.6,805.0L537.0,801.6L543.4,798.3L549.8,795.0L556.2,791.6L562.6,788.3L569.0,785.0L575.4,781.7L581.9,778.5L588.3,775.2L594.8,771.9L601.2,768.7L607.6,765.5L614.1,762.2L620.6,759.0L627.0,755.8L633.5,752.6L640.0,749.5L646.4,746.3L652.9,743.2L659.4,740.0 M562.5,803.0L556.1,799.0L549.8,795.0L543.4,791.0L537.0,787.0L530.6,783.1L524.2,779.2L517.8,775.3L511.4,771.4L504.9,767.6L498.5,763.7L492.1,759.9L485.6,756.1L479.2,752.3L472.7,748.5L466.2,744.8L459.7,741.0L453.3,737.3L446.8,733.6L440.3,729.9L433.8,726.3 M524.2,800.9L530.6,797.6L537.0,794.3L543.4,791.0L549.8,787.7L556.2,784.5L562.6,781.2L569.1,778.0L575.5,774.7L581.9,771.5L588.4,768.3L594.8,765.1L601.3,761.9L607.7,758.7L614.2,755.6L620.6,752.4L627.1,749.3L633.6,746.2L640.1,743.0L646.5,739.9L653.0,736.8 M568.9,799.5L562.6,795.6L556.2,791.6L549.8,787.7L543.4,783.8L537.0,779.9L530.6,776.1L524.2,772.2L517.8,768.4L511.4,764.6L504.9,760.8L498.5,757.0L492.0,753.2L485.6,749.5L479.1,745.8L472.6,742.1L466.2,738.4L459.7,734.7L453.2,731.0L446.7,727.4L440.2,723.8 M517.8,796.8L524.2,793.5L530.6,790.3L537.0,787.0L543.4,783.8L549.8,780.6L556.2,777.4L562.7,774.2L569.1,771.0L575.5,767.8L582.0,764.7L588.4,761.5L594.9,758.4L601.3,755.3L607.8,752.2L614.2,749.0L620.7,746.0L627.2,742.9L633.7,739.8L640.1,736.7L646.6,733.7 M575.3,796.1L569.0,792.2L562.6,788.3L556.2,784.5L549.8,780.6L543.4,776.8L537.0,772.9L530.6,769.1L524.2,765.4L517.8,761.6L511.3,757.8L504.9,754.1L498.4,750.4L492.0,746.7L485.5,743.0L479.1,739.3L472.6,735.7L466.1,732.1L459.6,728.5L453.1,724.9L446.6,721.3 M511.4,792.7L517.8,789.5L524.2,786.3L530.6,783.1L537.0,779.9L543.4,776.8L549.9,773.6L556.3,770.5L562.7,767.3L569.1,764.2L575.6,761.1L582.0,758.0L588.5,754.9L594.9,751.8L601.4,748.7L607.9,745.7L614.3,742.6L620.8,739.6L627.3,736.6L633.7,733.5L640.2,730.5 M581.8,792.7L575.4,788.9L569.0,785.0L562.6,781.2L556.2,777.4L549.9,773.6L543.4,769.8L537.0,766.1L530.6,762.3L524.2,758.6L517.8,754.9L511.3,751.2L504.9,747.6L498.4,743.9L492.0,740.3L485.5,736.7L479.0,733.1L472.5,729.5L466.0,725.9L459.5,722.4L453.0,718.8 M505.0,788.6L511.4,785.5L517.8,782.3L524.2,779.2L530.6,776.1L537.0,772.9L543.4,769.8L549.9,766.7L556.3,763.6L562.7,760.6L569.2,757.5L575.6,754.4L582.1,751.4L588.5,748.4L595.0,745.3L601.4,742.3L607.9,739.3L614.4,736.3L620.9,733.3L627.3,730.4L633.8,727.4 M588.2,789.3L581.8,785.5L575.4,781.7L569.1,778.0L562.7,774.2L556.3,770.5L549.9,766.7L543.5,763.0L537.0,759.3L530.6,755.7L524.2,752.0L517.7,748.4L511.3,744.7L504.8,741.1L498.4,737.5L491.9,734.0L485.4,730.4L478.9,726.9L472.5,723.3L466.0,719.8L459.5,716.4 M498.6,784.6L505.0,781.5L511.4,778.4L517.8,775.3L524.2,772.2L530.6,769.1L537.0,766.1L543.5,763.0L549.9,760.0L556.3,756.9L562.8,753.9L569.2,750.9L575.7,747.9L582.1,744.9L588.6,741.9L595.0,739.0L601.5,736.0L608.0,733.1L614.4,730.1L620.9,727.2L627.4,724.3 M594.6,786.0L588.3,782.2L581.9,778.5L575.5,774.7L569.1,771.0L562.7,767.3L556.3,763.6L549.9,760.0L543.5,756.3L537.1,752.7L530.6,749.1L524.2,745.5L517.7,741.9L511.3,738.4L504.8,734.8L498.3,731.3L491.9,727.8L485.4,724.3L478.9,720.8L472.4,717.3L465.9,713.9 M492.2,780.6L498.6,777.5L505.0,774.5L511.4,771.4L517.8,768.4L524.2,765.4L530.6,762.3L537.0,759.3L543.5,756.3L549.9,753.3L556.4,750.4L562.8,747.4L569.2,744.5L575.7,741.5L582.2,738.6L588.6,735.7L595.1,732.7L601.6,729.8L608.0,726.9L614.5,724.1L621.0,721.2 M601.1,782.6L594.7,778.9L588.3,775.2L581.9,771.5L575.5,767.8L569.1,764.2L562.7,760.6L556.3,756.9L549.9,753.3L543.5,749.8L537.1,746.2L530.6,742.6L524.2,739.1L517.7,735.6L511.2,732.1L504.8,728.6L498.3,725.1L491.8,721.7L485.3,718.3L478.8,714.8L472.3,711.4 M485.7,776.6L492.1,773.6L498.5,770.6L504.9,767.6L511.4,764.6L517.8,761.6L524.2,758.6L530.6,755.7L537.1,752.7L543.5,749.8L549.9,746.8L556.4,743.9L562.8,741.0L569.3,738.1L575.7,735.2L582.2,732.3L588.7,729.5L595.1,726.6L601.6,723.8L608.1,720.9L614.6,718.1 M607.5,779.3L601.1,775.6L594.8,771.9L588.4,768.3L582.0,764.7L575.6,761.1L569.2,757.5L562.8,753.9L556.4,750.4L549.9,746.8L543.5,743.3L537.1,739.8L530.6,736.3L524.2,732.9L517.7,729.4L511.2,726.0L504.7,722.5L498.3,719.1L491.8,715.7L485.3,712.4L478.8,709.0 M479.3,772.6L485.7,769.6L492.1,766.7L498.5,763.7L504.9,760.8L511.3,757.8L517.8,754.9L524.2,752.0L530.6,749.1L537.1,746.2L543.5,743.3L549.9,740.4L556.4,737.6L562.8,734.7L569.3,731.9L575.8,729.0L582.2,726.2L588.7,723.4L595.2,720.6L601.6,717.8L608.1,715.0 M613.9,775.9L607.6,772.3L601.2,768.7L594.8,765.1L588.4,761.5L582.0,758.0L575.6,754.4L569.2,750.9L562.8,747.4L556.4,743.9L549.9,740.4L543.5,737.0L537.0,733.5L530.6,730.1L524.1,726.7L517.7,723.3L511.2,719.9L504.7,716.6L498.2,713.2L491.7,709.9L485.2,706.6 M472.8,768.6L479.2,765.7L485.7,762.8L492.1,759.9L498.5,757.0L504.9,754.1L511.3,751.2L517.7,748.4L524.2,745.5L530.6,742.6L537.1,739.8L543.5,737.0L549.9,734.2L556.4,731.4L562.9,728.6L569.3,725.8L575.8,723.0L582.3,720.2L588.7,717.4L595.2,714.7L601.7,712.0 M620.4,772.6L614.0,769.0L607.6,765.5L601.3,761.9L594.9,758.4L588.5,754.9L582.1,751.4L575.7,747.9L569.2,744.5L562.8,741.0L556.4,737.6L549.9,734.2L543.5,730.8L537.0,727.4L530.6,724.0L524.1,720.7L517.6,717.3L511.2,714.0L504.7,710.7L498.2,707.4L491.7,704.1 M466.4,764.7L472.8,761.8L479.2,758.9L485.6,756.1L492.0,753.2L498.4,750.4L504.9,747.6L511.3,744.7L517.7,741.9L524.2,739.1L530.6,736.3L537.0,733.5L543.5,730.8L550.0,728.0L556.4,725.2L562.9,722.5L569.3,719.8L575.8,717.0L582.3,714.3L588.8,711.6L595.2,708.9 M626.8,769.3L620.5,765.7L614.1,762.2L607.7,758.7L601.3,755.3L594.9,751.8L588.5,748.4L582.1,744.9L575.7,741.5L569.3,738.1L562.8,734.7L556.4,731.4L550.0,728.0L543.5,724.7L537.0,721.3L530.6,718.0L524.1,714.7L517.6,711.5L511.1,708.2L504.6,704.9L498.1,701.7 M459.9,760.8L466.3,757.9L472.7,755.1L479.2,752.3L485.6,749.5L492.0,746.7L498.4,743.9L504.8,741.1L511.3,738.4L517.7,735.6L524.2,732.9L530.6,730.1L537.0,727.4L543.5,724.7L550.0,721.9L556.4,719.2L562.9,716.6L569.3,713.9L575.8,711.2L582.3,708.5L588.8,705.9 M633.3,766.0L626.9,762.5L620.6,759.0L614.2,755.6L607.8,752.2L601.4,748.7L595.0,745.3L588.6,741.9L582.2,738.6L575.7,735.2L569.3,731.9L562.9,728.6L556.4,725.2L550.0,721.9L543.5,718.7L537.0,715.4L530.5,712.2L524.1,708.9L517.6,705.7L511.1,702.5L504.6,699.3 M453.5,756.8L459.9,754.1L466.3,751.3L472.7,748.5L479.1,745.8L485.5,743.0L492.0,740.3L498.4,737.5L504.8,734.8L511.2,732.1L517.7,729.4L524.1,726.7L530.6,724.0L537.0,721.3L543.5,718.7L550.0,716.0L556.4,713.4L562.9,710.7L569.4,708.1L575.8,705.5L582.3,702.8 M639.8,762.7L633.4,759.2L627.0,755.8L620.6,752.4L614.2,749.0L607.9,745.7L601.4,742.3L595.0,739.0L588.6,735.7L582.2,732.3L575.8,729.0L569.3,725.8L562.9,722.5L556.4,719.2L550.0,716.0L543.5,712.8L537.0,709.6L530.5,706.4L524.0,703.2L517.5,700.0L511.0,696.9 M447.0,753.0L453.4,750.2L459.8,747.5L466.2,744.8L472.6,742.1L479.1,739.3L485.5,736.7L491.9,734.0L498.3,731.3L504.8,728.6L511.2,726.0L517.7,723.3L524.1,720.7L530.6,718.0L537.0,715.4L543.5,712.8L549.9,710.2L556.4,707.6L562.9,705.0L569.4,702.4L575.8,699.8 M646.2,759.4L639.9,756.0L633.5,752.6L627.1,749.3L620.7,746.0L614.3,742.6L607.9,739.3L601.5,736.0L595.1,732.7L588.7,729.5L582.2,726.2L575.8,723.0L569.3,719.8L562.9,716.6L556.4,713.4L549.9,710.2L543.5,707.0L537.0,703.9L530.5,700.7L524.0,697.6L517.5,694.5 M440.5,749.1L446.9,746.4L453.3,743.7L459.7,741.0L466.2,738.4L472.6,735.7L479.0,733.1L485.4,730.4L491.9,727.8L498.3,725.1L504.7,722.5L511.2,719.9L517.6,717.3L524.1,714.7L530.5,712.2L537.0,709.6L543.5,707.0L549.9,704.5L556.4,701.9L562.9,699.4L569.4,696.8 M652.7,756.1L646.3,752.8L640.0,749.5L633.6,746.2L627.2,742.9L620.8,739.6L614.4,736.3L608.0,733.1L601.6,729.8L595.1,726.6L588.7,723.4L582.3,720.2L575.8,717.0L569.3,713.9L562.9,710.7L556.4,707.6L549.9,704.5L543.5,701.4L537.0,698.3L530.5,695.2L524.0,692.1 M434.0,745.2L440.4,742.6L446.8,739.9L453.3,737.3L459.7,734.7L466.1,732.1L472.5,729.5L478.9,726.9L485.4,724.3L491.8,721.7L498.3,719.1L504.7,716.6L511.2,714.0L517.6,711.5L524.1,708.9L530.5,706.4L537.0,703.9L543.5,701.4L549.9,698.8L556.4,696.4L562.9,693.9 M659.2,752.9L652.8,749.6L646.4,746.3L640.1,743.0L633.7,739.8L627.3,736.6L620.9,733.3L614.4,730.1L608.0,726.9L601.6,723.8L595.2,720.6L588.7,717.4L582.3,714.3L575.8,711.2L569.4,708.1L562.9,705.0L556.4,701.9L549.9,698.8L543.4,695.8L536.9,692.8L530.4,689.7 M427.5,741.4L433.9,738.8L440.4,736.2L446.8,733.6L453.2,731.0L459.6,728.5L466.0,725.9L472.5,723.3L478.9,720.8L485.3,718.3L491.8,715.7L498.2,713.2L504.7,710.7L511.1,708.2L517.6,705.7L524.0,703.2L530.5,700.7L537.0,698.3L543.4,695.8L549.9,693.3L556.4,690.9 M665.7,749.6L659.3,746.4L652.9,743.2L646.5,739.9L640.1,736.7L633.7,733.5L627.3,730.4L620.9,727.2L614.5,724.1L608.1,720.9L601.6,717.8L595.2,714.7L588.8,711.6L582.3,708.5L575.8,705.5L569.4,702.4L562.9,699.4L556.4,696.4L549.9,693.3L543.4,690.3L536.9,687.4 M421.0,737.6L427.4,735.0L433.9,732.5L440.3,729.9L446.7,727.4L453.1,724.9L459.5,722.4L466.0,719.8L472.4,717.3L478.8,714.8L485.3,712.4L491.7,709.9L498.2,707.4L504.6,704.9L511.1,702.5L517.5,700.0L524.0,697.6L530.5,695.2L536.9,692.8L543.4,690.3L549.9,687.9 M672.2,746.4L665.8,743.2L659.4,740.0L653.0,736.8L646.6,733.7L640.2,730.5L633.8,727.4L627.4,724.3L621.0,721.2L614.6,718.1L608.1,715.0L601.7,712.0L595.2,708.9L588.8,705.9L582.3,702.8L575.8,699.8L569.4,696.8L562.9,693.9L556.4,690.9L549.9,687.9L543.4,685.0 M414.5,733.8L420.9,731.3L427.3,728.8L433.8,726.3L440.2,723.8L446.6,721.3L453.0,718.8L459.5,716.4L465.9,713.9L472.3,711.4L478.8,709.0L485.2,706.6L491.7,704.1L498.1,701.7L504.6,699.3L511.0,696.9L517.5,694.5L524.0,692.1L530.4,689.7L536.9,687.4L543.4,685.0" stroke="#1a1a1a" stroke-opacity="0.6" stroke-width="0.6" fill="none"/>
<text x="412.97" y="816.79" font-family="Liberation Sans" font-size="11.55" text-anchor="end" textLength="14.60" lengthAdjust="spacingAndGlyphs" fill="#2a2a2a">3.4</text>
<text x="411.96" y="795.44" font-family="Liberation Sans" font-size="11.55" text-anchor="end" textLength="14.60" lengthAdjust="spacingAndGlyphs" fill="#2a2a2a">3.6</text>
<text x="410.95" y="774.10" font-family="Liberation Sans" font-size="11.55" text-anchor="end" textLength="14.60" lengthAdjust="spacingAndGlyphs" fill="#2a2a2a">3.8</text>
<text x="409.94" y="752.75" font-family="Liberation Sans" font-size="11.55" text-anchor="end" textLength="5.84" lengthAdjust="spacingAndGlyphs" fill="#2a2a2a">4</text>
<text x="408.92" y="731.40" font-family="Liberation Sans" font-size="11.55" text-anchor="end" textLength="14.60" lengthAdjust="spacingAndGlyphs" fill="#2a2a2a">4.2</text>
<text x="407.91" y="710.05" font-family="Liberation Sans" font-size="11.55" text-anchor="end" textLength="14.60" lengthAdjust="spacingAndGlyphs" fill="#2a2a2a">4.4</text>
<text x="406.90" y="688.70" font-family="Liberation Sans" font-size="11.55" text-anchor="end" textLength="14.60" lengthAdjust="spacingAndGlyphs" fill="#2a2a2a">4.6</text>
<text x="549.50" y="931.40" font-family="Liberation Sans" font-size="11.55" textLength="5.84" lengthAdjust="spacingAndGlyphs" fill="#2a2a2a">0</text>
<text x="580.35" y="916.72" font-family="Liberation Sans" font-size="11.55" textLength="5.84" lengthAdjust="spacingAndGlyphs" fill="#2a2a2a">5</text>
<text x="611.20" y="902.05" font-family="Liberation Sans" font-size="11.55" textLength="11.68" lengthAdjust="spacingAndGlyphs" fill="#2a2a2a">10</text>
<text x="642.05" y="887.37" font-family="Liberation Sans" font-size="11.55" textLength="11.68" lengthAdjust="spacingAndGlyphs" fill="#2a2a2a">15</text>
<text x="672.90" y="872.70" font-family="Liberation Sans" font-size="11.55" textLength="11.68" lengthAdjust="spacingAndGlyphs" fill="#2a2a2a">20</text>
<text x="537.60" y="931.40" font-family="Liberation Sans" font-size="11.55" text-anchor="end" textLength="5.84" lengthAdjust="spacingAndGlyphs" fill="#2a2a2a">0</text>
<text x="513.04" y="919.64" font-family="Liberation Sans" font-size="11.55" text-anchor="end" textLength="11.68" lengthAdjust="spacingAndGlyphs" fill="#2a2a2a">20</text>
<text x="488.48" y="907.88" font-family="Liberation Sans" font-size="11.55" text-anchor="end" textLength="11.68" lengthAdjust="spacingAndGlyphs" fill="#2a2a2a">40</text>
<text x="463.92" y="896.12" font-family="Liberation Sans" font-size="11.55" text-anchor="end" textLength="11.68" lengthAdjust="spacingAndGlyphs" fill="#2a2a2a">60</text>
<text x="439.36" y="884.36" font-family="Liberation Sans" font-size="11.55" text-anchor="end" textLength="11.68" lengthAdjust="spacingAndGlyphs" fill="#2a2a2a">80</text>
<text x="414.80" y="872.60" font-family="Liberation Sans" font-size="11.55" text-anchor="end" textLength="17.52" lengthAdjust="spacingAndGlyphs" fill="#2a2a2a">100</text>
<text x="400.90" y="915.40" font-family="Liberation Sans" font-size="8.9" textLength="66.90" lengthAdjust="spacingAndGlyphs" fill="#2a2a2a">B: RCA (% by vol)</text>
<text x="620.60" y="915.80" font-family="Liberation Sans" font-size="8.9" textLength="63.20" lengthAdjust="spacingAndGlyphs" fill="#2a2a2a">A: LCB (% bwoc)</text>
<text x="374.40" y="665.00" font-family="Liberation Sans" font-size="7.3" textLength="14.00" lengthAdjust="spacingAndGlyphs" fill="#2a2a2a">3.45</text>
<text x="430.50" y="665.00" font-family="Liberation Sans" font-size="7.3" textLength="22.20" lengthAdjust="spacingAndGlyphs" fill="#2a2a2a">4.4025</text>
<text x="377.00" y="798.30" font-family="Liberation Sans" font-size="8.3" textLength="78.80" lengthAdjust="spacingAndGlyphs" transform="rotate(-90 377.00 798.30)" fill="#2a2a2a">Flex (MPa) - 90 days</text>
<rect x="399.5" y="656.9" width="28.00" height="10.90" fill="url(#cb)"/>
<text x="441.80" y="961.10" font-family="Liberation Serif" font-size="19.8" textLength="173.80" lengthAdjust="spacingAndGlyphs" fill="#000">(f) Flexural – 90 days</text>
</svg></body></html>
